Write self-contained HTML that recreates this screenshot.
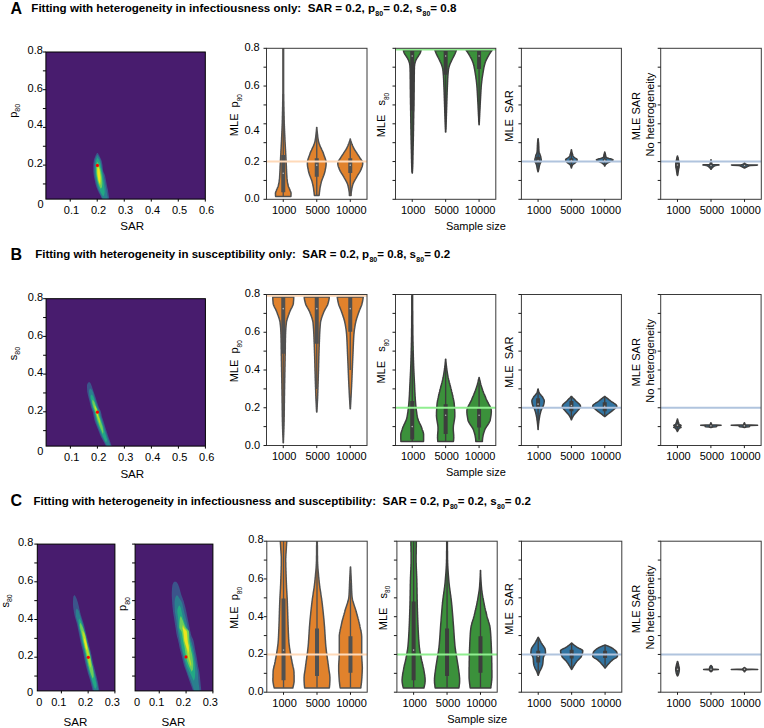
<!DOCTYPE html>
<html><head><meta charset="utf-8"><style>
html,body{margin:0;padding:0;background:#fff;}
svg{display:block;font-family:"Liberation Sans", sans-serif;}
</style></head><body>
<svg width="764" height="728" viewBox="0 0 764 728">
<rect width="764" height="728" fill="#fff"/>
<text x="10.5" y="14.2" font-size="16" font-weight="700" text-anchor="start" fill="#000" >A</text>
<text x="31.3" y="12.2" font-size="11.6" font-weight="700" fill="#000" xml:space="preserve">Fitting with heterogeneity in infectiousness only:  SAR = 0.2, p<tspan font-size="7" dy="3.8" dx="0.4">80</tspan><tspan dy="-3.8">= 0.2, s</tspan><tspan font-size="7" dy="3.8" dx="0.4">80</tspan><tspan dy="-3.8">= 0.8</tspan></text>
<text x="10.5" y="260.3" font-size="16" font-weight="700" text-anchor="start" fill="#000" >B</text>
<text x="35.2" y="258.4" font-size="11.5" font-weight="700" fill="#000" xml:space="preserve">Fitting with heterogeneity in susceptibility only:  SAR = 0.2, p<tspan font-size="7" dy="3.8" dx="0.4">80</tspan><tspan dy="-3.8">= 0.8, s</tspan><tspan font-size="7" dy="3.8" dx="0.4">80</tspan><tspan dy="-3.8">= 0.2</tspan></text>
<text x="10.5" y="506.3" font-size="16" font-weight="700" text-anchor="start" fill="#000" >C</text>
<text x="33.5" y="505.1" font-size="11.55" font-weight="700" fill="#000" xml:space="preserve">Fitting with heterogeneity in infectiousness and susceptibility:  SAR = 0.2, p<tspan font-size="7" dy="3.8" dx="0.4">80</tspan><tspan dy="-3.8">= 0.2, s</tspan><tspan font-size="7" dy="3.8" dx="0.4">80</tspan><tspan dy="-3.8">= 0.2</tspan></text>
<clipPath id="hm1"><rect x="45.9" y="52" width="159.4" height="147.1"/></clipPath>
<rect x="45.9" y="52" width="159.4" height="147.1" fill="#481c6e"/>
<g clip-path="url(#hm1)">
<path d="M97,153.1 96.7,153.6 96.4,154.1 96.1,154.6 95.8,155.1 95.6,155.6 95.3,156.2 95.1,156.7 94.9,157.2 94.7,157.7 94.5,158.2 94.3,158.7 94.2,159.2 94,159.7 93.9,160.2 93.8,160.7 93.7,161.3 93.7,161.8 93.6,162.3 93.5,162.8 93.4,163.3 93.4,163.8 93.3,164.3 93.3,164.8 93.3,165.3 93.3,165.8 93.3,166.4 93.3,166.9 93.3,167.4 93.3,167.9 93.3,168.4 93.3,168.9 93.3,169.4 93.3,169.9 93.3,170.4 93.3,170.9 93.3,171.5 93.4,172 93.4,172.5 93.5,173 93.5,173.5 93.6,174 93.6,174.5 93.7,175 93.8,175.5 93.9,176 93.9,176.6 94,177.1 94.1,177.6 94.2,178.1 94.4,178.6 94.5,179.1 94.6,179.6 94.7,180.1 94.8,180.6 94.9,181.1 95,181.6 95.1,182.2 95.2,182.7 95.4,183.2 95.5,183.7 95.6,184.2 95.7,184.7 95.9,185.2 96,185.7 96.2,186.2 96.3,186.7 96.5,187.3 96.7,187.8 96.9,188.3 97.1,188.8 97.3,189.3 97.5,189.8 97.7,190.3 97.9,190.8 98.2,191.3 98.5,191.8 98.7,192.4 99,192.9 99.3,193.4 99.6,193.9 99.9,194.4 100.2,194.9 100.4,195.4 100.6,195.9 100.9,196.4 101.1,196.9 101.3,197.5 101.5,198 101.7,198.5 101.9,199 102,199.5 102.2,200 109.5,200 109.4,199.5 109.3,199 109.3,198.5 109.2,198 109.1,197.5 109,196.9 108.9,196.4 108.9,195.9 108.8,195.4 108.7,194.9 108.6,194.4 108.5,193.9 108.5,193.4 108.4,192.9 108.3,192.4 108.2,191.8 108.1,191.3 108.1,190.8 108,190.3 107.9,189.8 107.8,189.3 107.7,188.8 107.5,188.3 107.4,187.8 107.3,187.3 107.2,186.7 107.1,186.2 107,185.7 106.9,185.2 106.8,184.7 106.7,184.2 106.6,183.7 106.5,183.2 106.4,182.7 106.3,182.2 106.2,181.6 106.1,181.1 106,180.6 105.9,180.1 105.8,179.6 105.7,179.1 105.6,178.6 105.5,178.1 105.4,177.6 105.3,177.1 105.2,176.6 105.1,176 104.9,175.5 104.8,175 104.6,174.5 104.4,174 104.2,173.5 104,173 103.7,172.5 103.5,172 103.3,171.5 103.2,170.9 103.1,170.4 103,169.9 102.9,169.4 102.9,168.9 102.8,168.4 102.8,167.9 102.7,167.4 102.7,166.9 102.6,166.4 102.5,165.8 102.5,165.3 102.4,164.8 102.3,164.3 102.2,163.8 102.1,163.3 102,162.8 101.9,162.3 101.8,161.8 101.7,161.3 101.5,160.7 101.4,160.2 101.2,159.7 101,159.2 100.8,158.7 100.5,158.2 100.3,157.7 100,157.2 99.8,156.7 99.5,156.2 99.3,155.6 99,155.1 98.7,154.6 98.4,154.1 98.1,153.6 97.8,153.1Z" fill="#3b548b"/>
<path d="M97.2,155 96.9,155.5 96.6,156 96.3,156.5 96.1,157 95.9,157.5 95.7,158 95.5,158.5 95.4,159 95.3,159.6 95.1,160.1 95,160.6 94.9,161.1 94.9,161.6 94.8,162.1 94.7,162.6 94.7,163.1 94.6,163.6 94.6,164.1 94.6,164.6 94.5,165.1 94.5,165.6 94.4,166.1 94.4,166.6 94.4,167.1 94.4,167.6 94.4,168.1 94.4,168.7 94.4,169.2 94.4,169.7 94.5,170.2 94.5,170.7 94.5,171.2 94.5,171.7 94.6,172.2 94.6,172.7 94.6,173.2 94.7,173.7 94.7,174.2 94.8,174.7 94.8,175.2 94.9,175.7 94.9,176.2 95,176.7 95.1,177.2 95.2,177.8 95.3,178.3 95.4,178.8 95.5,179.3 95.6,179.8 95.7,180.3 95.8,180.8 95.9,181.3 96.1,181.8 96.2,182.3 96.3,182.8 96.4,183.3 96.5,183.8 96.7,184.3 96.8,184.8 97,185.3 97.1,185.8 97.3,186.3 97.4,186.9 97.6,187.4 97.8,187.9 97.9,188.4 98.1,188.9 98.3,189.4 98.5,189.9 98.7,190.4 99,190.9 99.2,191.4 99.4,191.9 99.7,192.4 99.9,192.9 100.1,193.4 100.4,193.9 100.6,194.4 100.8,194.9 101.1,195.4 101.3,196 101.5,196.5 101.8,197 102,197.5 102.2,198 102.5,198.5 102.7,199 103,199.5 103.2,200 108,200 107.9,199.5 107.9,199 107.8,198.5 107.7,198 107.6,197.5 107.6,197 107.5,196.5 107.4,196 107.3,195.4 107.2,194.9 107.2,194.4 107.1,193.9 107,193.4 106.9,192.9 106.8,192.4 106.8,191.9 106.7,191.4 106.6,190.9 106.5,190.4 106.4,189.9 106.3,189.4 106.3,188.9 106.2,188.4 106.1,187.9 106,187.4 105.9,186.9 105.8,186.3 105.7,185.8 105.6,185.3 105.5,184.8 105.4,184.3 105.3,183.8 105.3,183.3 105.2,182.8 105.1,182.3 105,181.8 104.9,181.3 104.8,180.8 104.7,180.3 104.5,179.8 104.4,179.3 104.3,178.8 104.2,178.3 104.1,177.8 104,177.2 103.9,176.7 103.8,176.2 103.7,175.7 103.5,175.2 103.4,174.7 103.3,174.2 103.2,173.7 103.1,173.2 103,172.7 102.8,172.2 102.7,171.7 102.6,171.2 102.5,170.7 102.4,170.2 102.3,169.7 102.1,169.2 102,168.7 101.9,168.1 101.8,167.6 101.7,167.1 101.6,166.6 101.6,166.1 101.5,165.6 101.4,165.1 101.3,164.6 101.2,164.1 101.1,163.6 101,163.1 100.9,162.6 100.8,162.1 100.7,161.6 100.6,161.1 100.4,160.6 100.3,160.1 100.1,159.6 99.9,159 99.7,158.5 99.5,158 99.3,157.5 99,157 98.7,156.5 98.3,156 98,155.5 97.6,155Z" fill="#2a7f8e"/>
<path d="M97.4,157.5 97.2,158 97,158.5 96.8,159 96.5,159.5 96.4,160 96.2,160.5 96.1,161 96,161.6 95.9,162.1 95.8,162.6 95.7,163.1 95.7,163.6 95.6,164.1 95.6,164.6 95.5,165.1 95.5,165.6 95.5,166.1 95.5,166.6 95.5,167.1 95.5,167.6 95.5,168.1 95.5,168.6 95.5,169.1 95.6,169.7 95.6,170.2 95.6,170.7 95.6,171.2 95.6,171.7 95.7,172.2 95.7,172.7 95.7,173.2 95.7,173.7 95.8,174.2 95.8,174.7 95.9,175.2 96,175.7 96,176.2 96.1,176.7 96.2,177.3 96.3,177.8 96.4,178.3 96.5,178.8 96.6,179.3 96.7,179.8 96.8,180.3 96.9,180.8 97,181.3 97.1,181.8 97.2,182.3 97.3,182.8 97.5,183.3 97.6,183.8 97.8,184.3 98,184.9 98.1,185.4 98.3,185.9 98.5,186.4 98.7,186.9 98.8,187.4 99,187.9 99.2,188.4 99.4,188.9 99.5,189.4 99.7,189.9 99.9,190.4 100.1,190.9 100.3,191.4 100.6,191.9 100.8,192.4 101.1,193 101.3,193.5 101.6,194 101.9,194.5 102.3,195 102.6,195.5 103,196 103.3,196.5 103.3,196.5 103.6,196 103.9,195.5 104.1,195 104.3,194.5 104.4,194 104.5,193.5 104.6,193 104.7,192.4 104.7,191.9 104.7,191.4 104.7,190.9 104.6,190.4 104.6,189.9 104.6,189.4 104.5,188.9 104.5,188.4 104.4,187.9 104.3,187.4 104.3,186.9 104.2,186.4 104.2,185.9 104.1,185.4 104,184.9 103.9,184.3 103.9,183.8 103.8,183.3 103.7,182.8 103.6,182.3 103.5,181.8 103.4,181.3 103.4,180.8 103.3,180.3 103.2,179.8 103.1,179.3 103.1,178.8 103,178.3 102.9,177.8 102.8,177.3 102.7,176.7 102.6,176.2 102.6,175.7 102.5,175.2 102.4,174.7 102.3,174.2 102.2,173.7 102.1,173.2 102,172.7 102,172.2 101.9,171.7 101.8,171.2 101.7,170.7 101.6,170.2 101.5,169.7 101.4,169.1 101.3,168.6 101.2,168.1 101.1,167.6 101,167.1 100.9,166.6 100.8,166.1 100.7,165.6 100.6,165.1 100.5,164.6 100.4,164.1 100.3,163.6 100.1,163.1 100,162.6 99.9,162.1 99.7,161.6 99.5,161 99.3,160.5 99,160 98.8,159.5 98.4,159 98.1,158.5 97.7,158 97.4,157.5Z" fill="#22a884"/>
<path d="M97.5,161.5 97.5,162 97.2,162.5 97,163 96.8,163.5 96.6,164 96.5,164.6 96.4,165.1 96.4,165.6 96.3,166.1 96.3,166.6 96.3,167.1 96.2,167.6 96.2,168.1 96.2,168.6 96.2,169.1 96.2,169.6 96.2,170.2 96.2,170.7 96.2,171.2 96.3,171.7 96.3,172.2 96.3,172.7 96.4,173.2 96.5,173.7 96.5,174.2 96.6,174.7 96.7,175.2 96.7,175.8 96.8,176.3 96.9,176.8 96.9,177.3 97,177.8 97.1,178.3 97.2,178.8 97.3,179.3 97.4,179.8 97.6,180.3 97.7,180.9 97.8,181.4 98,181.9 98.1,182.4 98.3,182.9 98.4,183.4 98.6,183.9 98.8,184.4 99,184.9 99.2,185.4 99.4,185.9 99.6,186.5 99.9,187 100.1,187.5 100.4,188 100.8,188.5 100.8,189 100.8,189 101,188.5 101.4,188 101.7,187.5 101.9,187 102,186.5 102.1,185.9 102.1,185.4 102.2,184.9 102.2,184.4 102.3,183.9 102.3,183.4 102.3,182.9 102.3,182.4 102.3,181.9 102.2,181.4 102.2,180.9 102.2,180.3 102.1,179.8 102.1,179.3 102,178.8 101.9,178.3 101.9,177.8 101.8,177.3 101.8,176.8 101.7,176.3 101.6,175.8 101.6,175.2 101.5,174.7 101.4,174.2 101.3,173.7 101.2,173.2 101.2,172.7 101.1,172.2 101,171.7 100.9,171.2 100.7,170.7 100.6,170.2 100.5,169.6 100.4,169.1 100.3,168.6 100.1,168.1 100,167.6 99.8,167.1 99.7,166.6 99.5,166.1 99.3,165.6 99.1,165.1 98.9,164.6 98.7,164 98.4,163.5 98.1,163 97.8,162.5 97.5,162 97.5,161.5Z" fill="#6ccd5a"/>
<path d="M97.8,164.5 97.9,165 97.9,165.5 97.7,166 97.5,166.5 97.4,167.1 97.3,167.6 97.3,168.1 97.3,168.6 97.2,169.1 97.2,169.6 97.2,170.1 97.2,170.6 97.2,171.1 97.2,171.7 97.2,172.2 97.3,172.7 97.3,173.2 97.3,173.7 97.4,174.2 97.4,174.7 97.5,175.2 97.6,175.8 97.6,176.3 97.7,176.8 97.8,177.3 97.9,177.8 97.9,178.3 98,178.8 98.1,179.3 98.2,179.8 98.3,180.4 98.5,180.9 98.6,181.4 98.8,181.9 98.9,182.4 99.1,182.9 99.3,183.4 99.5,183.9 99.8,184.4 100.1,185 100.2,185.5 100.2,186 100.2,186.5 100.2,187 100.2,187 100.2,186.5 100.2,186 100.2,185.5 100.2,185 100.3,184.4 100.5,183.9 100.6,183.4 100.6,182.9 100.6,182.4 100.6,181.9 100.6,181.4 100.6,180.9 100.6,180.4 100.6,179.8 100.6,179.3 100.6,178.8 100.6,178.3 100.6,177.8 100.6,177.3 100.6,176.8 100.5,176.3 100.5,175.8 100.4,175.2 100.4,174.7 100.3,174.2 100.2,173.7 100.2,173.2 100.1,172.7 100,172.2 99.9,171.7 99.8,171.1 99.7,170.6 99.6,170.1 99.5,169.6 99.4,169.1 99.3,168.6 99.2,168.1 99,167.6 98.8,167.1 98.6,166.5 98.3,166 97.9,165.5 97.9,165 97.8,164.5Z" fill="#b8de29"/>
<path d="M98,166.5 98.1,167 98,167.5 97.7,168 97.6,168.6 97.5,169.1 97.5,169.6 97.5,170.1 97.5,170.6 97.5,171.1 97.5,171.6 97.5,172.2 97.5,172.7 97.5,173.2 97.5,173.7 97.6,174.2 97.6,174.7 97.7,175.2 97.7,175.8 97.8,176.3 97.9,176.8 98,177.3 98.1,177.8 98.2,178.3 98.3,178.8 98.4,179.4 98.5,179.9 98.7,180.4 98.8,180.9 99,181.4 99.2,181.9 99.4,182.4 99.6,183 99.7,183.5 99.7,184 99.7,184.5 99.7,184.5 99.7,184 99.7,183.5 99.9,183 100.1,182.4 100.2,181.9 100.3,181.4 100.3,180.9 100.3,180.4 100.4,179.9 100.4,179.4 100.4,178.8 100.4,178.3 100.4,177.8 100.4,177.3 100.4,176.8 100.3,176.3 100.3,175.8 100.2,175.2 100.2,174.7 100.1,174.2 100.1,173.7 100,173.2 100,172.7 99.9,172.2 99.8,171.6 99.7,171.1 99.6,170.6 99.5,170.1 99.4,169.6 99.2,169.1 99,168.6 98.7,168 98.3,167.5 98.1,167 98,166.5Z" fill="#ece51f"/>
</g>
<circle cx="97.4" cy="165.4" r="1.6" fill="#ff0000"/>
<rect x="45.9" y="52" width="159.4" height="147.1" fill="none" stroke="#000" stroke-width="1"/>
<line x1="42.9" y1="183.95" x2="45.9" y2="183.95" stroke="#000" stroke-width="1" />
<line x1="42.9" y1="165.1" x2="45.9" y2="165.1" stroke="#000" stroke-width="1" />
<line x1="42.9" y1="146.25" x2="45.9" y2="146.25" stroke="#000" stroke-width="1" />
<line x1="42.9" y1="127.4" x2="45.9" y2="127.4" stroke="#000" stroke-width="1" />
<line x1="42.9" y1="108.55" x2="45.9" y2="108.55" stroke="#000" stroke-width="1" />
<line x1="42.9" y1="89.7" x2="45.9" y2="89.7" stroke="#000" stroke-width="1" />
<line x1="42.9" y1="70.85" x2="45.9" y2="70.85" stroke="#000" stroke-width="1" />
<line x1="42.9" y1="52" x2="45.9" y2="52" stroke="#000" stroke-width="1" />
<line x1="70.22" y1="199.1" x2="70.22" y2="201.6" stroke="#000" stroke-width="1" />
<line x1="97.23" y1="199.1" x2="97.23" y2="201.6" stroke="#000" stroke-width="1" />
<line x1="124.25" y1="199.1" x2="124.25" y2="201.6" stroke="#000" stroke-width="1" />
<line x1="151.27" y1="199.1" x2="151.27" y2="201.6" stroke="#000" stroke-width="1" />
<line x1="178.28" y1="199.1" x2="178.28" y2="201.6" stroke="#000" stroke-width="1" />
<line x1="205.3" y1="199.1" x2="205.3" y2="201.6" stroke="#000" stroke-width="1" />
<text x="42.9" y="167.3" font-size="11" font-weight="400" text-anchor="end" fill="#000" >0.2</text>
<text x="42.9" y="128.2" font-size="11" font-weight="400" text-anchor="end" fill="#000" >0.4</text>
<text x="42.9" y="91.8" font-size="11" font-weight="400" text-anchor="end" fill="#000" >0.6</text>
<text x="42.9" y="54.2" font-size="11" font-weight="400" text-anchor="end" fill="#000" >0.8</text>
<text x="71.52" y="213.7" font-size="11" font-weight="400" text-anchor="middle" fill="#000" >0.1</text>
<text x="98.53" y="213.7" font-size="11" font-weight="400" text-anchor="middle" fill="#000" >0.2</text>
<text x="125.55" y="213.7" font-size="11" font-weight="400" text-anchor="middle" fill="#000" >0.3</text>
<text x="152.57" y="213.7" font-size="11" font-weight="400" text-anchor="middle" fill="#000" >0.4</text>
<text x="179.58" y="213.7" font-size="11" font-weight="400" text-anchor="middle" fill="#000" >0.5</text>
<text x="206.6" y="213.7" font-size="11" font-weight="400" text-anchor="middle" fill="#000" >0.6</text>
<text x="43.7" y="208.3" font-size="11" font-weight="400" text-anchor="end" fill="#000" >0</text>
<text x="132.1" y="230.4" font-size="11.6" font-weight="400" text-anchor="middle" fill="#000" >SAR</text>
<text transform="translate(16.6,110.8) rotate(-90)" font-size="11" text-anchor="middle" fill="#000" xml:space="preserve">p<tspan font-size="7" dy="3.6">80</tspan></text>
<clipPath id="hm2"><rect x="46.1" y="298.7" width="159.3" height="147.4"/></clipPath>
<rect x="46.1" y="298.7" width="159.3" height="147.4" fill="#481c6e"/>
<g clip-path="url(#hm2)">
<path d="M88.6,382.3 88.1,382.8 87.7,383.3 87.5,383.8 87.2,384.3 87.1,384.8 87,385.3 87,385.8 87,386.3 87,386.8 87,387.4 87,387.9 87.1,388.4 87.1,388.9 87.1,389.4 87.1,389.9 87.2,390.4 87.2,390.9 87.2,391.4 87.3,391.9 87.4,392.4 87.5,392.9 87.6,393.4 87.7,393.9 87.8,394.4 87.9,394.9 88,395.4 88.2,395.9 88.3,396.5 88.4,397 88.5,397.5 88.6,398 88.8,398.5 88.9,399 89,399.5 89.2,400 89.3,400.5 89.4,401 89.6,401.5 89.7,402 89.8,402.5 90,403 90.1,403.5 90.2,404 90.3,404.5 90.4,405 90.6,405.5 90.7,406.1 90.8,406.6 91,407.1 91.1,407.6 91.3,408.1 91.5,408.6 91.7,409.1 91.9,409.6 92,410.1 92.2,410.6 92.4,411.1 92.6,411.6 92.7,412.1 92.9,412.6 93,413.1 93.1,413.6 93.2,414.1 93.3,414.6 93.4,415.1 93.5,415.7 93.6,416.2 93.7,416.7 93.9,417.2 94,417.7 94.1,418.2 94.2,418.7 94.3,419.2 94.4,419.7 94.5,420.2 94.7,420.7 94.8,421.2 95,421.7 95.2,422.2 95.3,422.7 95.5,423.2 95.7,423.7 95.9,424.2 96.1,424.8 96.3,425.3 96.5,425.8 96.7,426.3 96.9,426.8 97.1,427.3 97.3,427.8 97.5,428.3 97.7,428.8 97.9,429.3 98.1,429.8 98.3,430.3 98.5,430.8 98.7,431.3 98.9,431.8 99.1,432.3 99.3,432.8 99.5,433.3 99.7,433.8 99.9,434.4 100.1,434.9 100.4,435.4 100.6,435.9 100.8,436.4 101.1,436.9 101.3,437.4 101.6,437.9 101.9,438.4 102.1,438.9 102.4,439.4 102.7,439.9 103,440.4 103.2,440.9 103.5,441.4 103.8,441.9 104.1,442.4 104.3,442.9 104.6,443.5 104.8,444 105.1,444.5 105.3,445 105.5,445.5 105.7,446 106,446.5 106.2,447 106.4,447.5 106.6,448 112.4,448 112.2,447.5 112,447 111.8,446.5 111.7,446 111.5,445.5 111.3,445 111.1,444.5 110.9,444 110.7,443.5 110.6,442.9 110.4,442.4 110.2,441.9 110,441.4 109.9,440.9 109.7,440.4 109.5,439.9 109.3,439.4 109.2,438.9 109,438.4 108.8,437.9 108.6,437.4 108.5,436.9 108.3,436.4 108.1,435.9 108,435.4 107.8,434.9 107.6,434.4 107.4,433.8 107.3,433.3 107.1,432.8 106.9,432.3 106.8,431.8 106.6,431.3 106.4,430.8 106.3,430.3 106.1,429.8 105.9,429.3 105.8,428.8 105.6,428.3 105.4,427.8 105.3,427.3 105.1,426.8 105,426.3 104.8,425.8 104.7,425.3 104.5,424.8 104.4,424.2 104.2,423.7 104.1,423.2 103.9,422.7 103.8,422.2 103.6,421.7 103.5,421.2 103.3,420.7 103.1,420.2 103,419.7 102.8,419.2 102.6,418.7 102.5,418.2 102.3,417.7 102.1,417.2 102,416.7 101.8,416.2 101.7,415.7 101.6,415.1 101.5,414.6 101.4,414.1 101.3,413.6 101.2,413.1 101.1,412.6 100.9,412.1 100.8,411.6 100.6,411.1 100.4,410.6 100.1,410.1 99.9,409.6 99.6,409.1 99.4,408.6 99.1,408.1 98.9,407.6 98.7,407.1 98.5,406.6 98.4,406.1 98.2,405.5 98,405 97.8,404.5 97.7,404 97.5,403.5 97.3,403 97.2,402.5 97,402 96.8,401.5 96.7,401 96.5,400.5 96.4,400 96.2,399.5 96.1,399 95.9,398.5 95.8,398 95.6,397.5 95.4,397 95.3,396.5 95.1,395.9 94.9,395.4 94.8,394.9 94.6,394.4 94.4,393.9 94.2,393.4 94.1,392.9 93.9,392.4 93.7,391.9 93.5,391.4 93.4,390.9 93.2,390.4 93,389.9 92.9,389.4 92.7,388.9 92.5,388.4 92.4,387.9 92.2,387.4 92,386.8 91.8,386.3 91.6,385.8 91.4,385.3 91.2,384.8 91,384.3 90.8,383.8 90.5,383.3 90.2,382.8 89.8,382.3Z" fill="#3b548b"/>
<path d="M89.9,388.5 89.6,389 89.4,389.5 89.2,390 89.1,390.5 89,391 89,391.5 89,392 89.1,392.5 89.1,393 89.1,393.5 89.2,394 89.2,394.6 89.3,395.1 89.4,395.6 89.4,396.1 89.5,396.6 89.6,397.1 89.7,397.6 89.8,398.1 89.9,398.6 90,399.1 90.2,399.6 90.3,400.1 90.4,400.6 90.6,401.1 90.7,401.6 90.8,402.1 91,402.6 91.1,403.1 91.2,403.6 91.3,404.1 91.4,404.6 91.6,405.1 91.7,405.6 91.8,406.1 92,406.7 92.1,407.2 92.2,407.7 92.4,408.2 92.6,408.7 92.8,409.2 93,409.7 93.2,410.2 93.4,410.7 93.5,411.2 93.7,411.7 93.9,412.2 94,412.7 94.1,413.2 94.2,413.7 94.3,414.2 94.4,414.7 94.5,415.2 94.6,415.7 94.8,416.2 94.9,416.7 95,417.2 95.1,417.7 95.2,418.2 95.3,418.8 95.4,419.3 95.5,419.8 95.7,420.3 95.8,420.8 96,421.3 96.1,421.8 96.3,422.3 96.5,422.8 96.6,423.3 96.8,423.8 97,424.3 97.2,424.8 97.4,425.3 97.6,425.8 97.8,426.3 98,426.8 98.2,427.3 98.4,427.8 98.6,428.3 98.8,428.8 99,429.3 99.2,429.8 99.4,430.4 99.6,430.9 99.8,431.4 100,431.9 100.2,432.4 100.4,432.9 100.6,433.4 100.8,433.9 101,434.4 101.3,434.9 101.5,435.4 101.7,435.9 101.9,436.4 102.2,436.9 102.4,437.4 102.7,437.9 103,438.4 103.2,438.9 103.5,439.4 103.8,439.9 104.1,440.4 104.4,440.9 104.6,441.4 104.9,441.9 105.2,442.5 105.4,443 105.7,443.5 105.9,444 106.2,444.5 106.4,445 106.6,445.5 106.8,446 107.1,446.5 107.3,447 107.5,447.5 107.7,448 111.3,448 111.1,447.5 110.9,447 110.7,446.5 110.6,446 110.4,445.5 110.2,445 110,444.5 109.8,444 109.6,443.5 109.5,443 109.3,442.5 109.1,441.9 108.9,441.4 108.8,440.9 108.6,440.4 108.4,439.9 108.2,439.4 108.1,438.9 107.9,438.4 107.7,437.9 107.5,437.4 107.4,436.9 107.2,436.4 107,435.9 106.9,435.4 106.7,434.9 106.5,434.4 106.3,433.9 106.2,433.4 106,432.9 105.8,432.4 105.7,431.9 105.5,431.4 105.3,430.9 105.2,430.4 105,429.8 104.8,429.3 104.7,428.8 104.5,428.3 104.4,427.8 104.2,427.3 104,426.8 103.9,426.3 103.7,425.8 103.6,425.3 103.4,424.8 103.3,424.3 103.1,423.8 103,423.3 102.8,422.8 102.7,422.3 102.5,421.8 102.4,421.3 102.2,420.8 102.1,420.3 101.9,419.8 101.7,419.3 101.6,418.8 101.4,418.2 101.2,417.7 101.1,417.2 100.9,416.7 100.8,416.2 100.6,415.7 100.5,415.2 100.4,414.7 100.3,414.2 100.2,413.7 100.1,413.2 100,412.7 99.9,412.2 99.7,411.7 99.5,411.2 99.3,410.7 99.1,410.2 98.8,409.7 98.6,409.2 98.3,408.7 98.1,408.2 97.9,407.7 97.7,407.2 97.5,406.7 97.3,406.1 97.1,405.6 96.9,405.1 96.8,404.6 96.6,404.1 96.4,403.6 96.3,403.1 96.1,402.6 95.9,402.1 95.8,401.6 95.6,401.1 95.5,400.6 95.3,400.1 95.1,399.6 95,399.1 94.8,398.6 94.7,398.1 94.5,397.6 94.4,397.1 94.2,396.6 94.1,396.1 93.9,395.6 93.8,395.1 93.7,394.6 93.5,394 93.4,393.5 93.3,393 93.1,392.5 92.9,392 92.7,391.5 92.5,391 92.2,390.5 91.9,390 91.4,389.5 91,389 90.5,388.5Z" fill="#2a7f8e"/>
<path d="M91.5,394.5 91.2,395 90.9,395.5 90.7,396 90.6,396.5 90.6,397 90.7,397.5 90.7,398 90.8,398.5 90.9,399 91,399.6 91.1,400.1 91.3,400.6 91.4,401.1 91.5,401.6 91.6,402.1 91.7,402.6 91.8,403.1 91.9,403.6 92,404.1 92.2,404.6 92.3,405.1 92.4,405.6 92.5,406.1 92.7,406.6 92.8,407.1 92.9,407.6 93.1,408.1 93.3,408.6 93.5,409.2 93.7,409.7 93.9,410.2 94.1,410.7 94.3,411.2 94.5,411.7 94.7,412.2 94.8,412.7 94.9,413.2 95.1,413.7 95.2,414.2 95.3,414.7 95.4,415.2 95.5,415.7 95.7,416.2 95.8,416.7 95.9,417.2 96,417.7 96.1,418.2 96.2,418.8 96.3,419.3 96.4,419.8 96.6,420.3 96.7,420.8 96.9,421.3 97,421.8 97.2,422.3 97.4,422.8 97.5,423.3 97.7,423.8 97.9,424.3 98.1,424.8 98.3,425.3 98.5,425.8 98.7,426.3 98.9,426.8 99.1,427.3 99.3,427.8 99.5,428.4 99.7,428.9 99.9,429.4 100.1,429.9 100.3,430.4 100.5,430.9 100.8,431.4 101,431.9 101.2,432.4 101.4,432.9 101.6,433.4 101.8,433.9 102.1,434.4 102.3,434.9 102.5,435.4 102.7,435.9 102.9,436.4 103.2,436.9 103.4,437.4 103.6,438 103.9,438.5 104.1,439 104.3,439.5 104.6,440 104.8,440.5 105.1,441 105.4,441.5 105.6,442 105.9,442.5 105.9,442.5 106.2,442 106.5,441.5 106.8,441 106.9,440.5 107,440 107,439.5 106.9,439 106.8,438.5 106.6,438 106.4,437.4 106.3,436.9 106.1,436.4 106,435.9 105.8,435.4 105.7,434.9 105.5,434.4 105.4,433.9 105.2,433.4 105,432.9 104.9,432.4 104.7,431.9 104.6,431.4 104.4,430.9 104.2,430.4 104.1,429.9 103.9,429.4 103.8,428.9 103.6,428.4 103.5,427.8 103.3,427.3 103.2,426.8 103,426.3 102.9,425.8 102.7,425.3 102.5,424.8 102.4,424.3 102.2,423.8 102.1,423.3 101.9,422.8 101.8,422.3 101.6,421.8 101.5,421.3 101.3,420.8 101.2,420.3 101,419.8 100.8,419.3 100.7,418.8 100.5,418.2 100.3,417.7 100.2,417.2 100,416.7 99.9,416.2 99.7,415.7 99.6,415.2 99.5,414.7 99.4,414.2 99.3,413.7 99.2,413.2 99.1,412.7 99,412.2 98.8,411.7 98.6,411.2 98.4,410.7 98.2,410.2 97.9,409.7 97.7,409.2 97.4,408.6 97.2,408.1 97,407.6 96.8,407.1 96.6,406.6 96.4,406.1 96.2,405.6 96,405.1 95.9,404.6 95.7,404.1 95.5,403.6 95.4,403.1 95.2,402.6 95,402.1 94.9,401.6 94.7,401.1 94.6,400.6 94.4,400.1 94.3,399.6 94.2,399 94,398.5 93.8,398 93.7,397.5 93.4,397 93.2,396.5 92.9,396 92.5,395.5 92,395 91.5,394.5Z" fill="#22a884"/>
<path d="M92.4,399 92.6,399.5 92.5,400 92.4,400.5 92.3,401 92.3,401.5 92.3,402 92.3,402.6 92.4,403.1 92.5,403.6 92.6,404.1 92.7,404.6 92.8,405.1 93,405.6 93.2,406.1 93.3,406.6 93.5,407.1 93.6,407.6 93.8,408.1 94,408.6 94.2,409.1 94.4,409.6 94.6,410.2 94.8,410.7 95,411.2 95.2,411.7 95.4,412.2 95.5,412.7 95.6,413.2 95.8,413.7 95.9,414.2 96,414.7 96.1,415.2 96.2,415.7 96.4,416.2 96.5,416.8 96.6,417.3 96.8,417.8 96.9,418.3 97,418.8 97.2,419.3 97.3,419.8 97.5,420.3 97.6,420.8 97.8,421.3 98,421.8 98.2,422.3 98.4,422.8 98.6,423.3 98.8,423.9 99,424.4 99.2,424.9 99.4,425.4 99.6,425.9 99.8,426.4 100,426.9 100.2,427.4 100.4,427.9 100.6,428.4 100.8,428.9 101.1,429.4 101.3,429.9 101.5,430.4 101.7,430.9 101.9,431.5 102.1,432 102.3,432.5 102.5,433 102.7,433.5 102.8,434 102.8,434.5 102.8,434.5 102.8,434 103,433.5 103.1,433 103.3,432.5 103.3,432 103.3,431.5 103.3,430.9 103.2,430.4 103.1,429.9 103.1,429.4 103,428.9 102.9,428.4 102.8,427.9 102.7,427.4 102.6,426.9 102.5,426.4 102.3,425.9 102.2,425.4 102,424.9 101.8,424.4 101.6,423.9 101.4,423.3 101.2,422.8 101.1,422.3 100.9,421.8 100.7,421.3 100.5,420.8 100.4,420.3 100.2,419.8 100.1,419.3 99.9,418.8 99.7,418.3 99.6,417.8 99.4,417.3 99.3,416.8 99.2,416.2 99,415.7 98.9,415.2 98.8,414.7 98.7,414.2 98.6,413.7 98.5,413.2 98.4,412.7 98.3,412.2 98.1,411.7 97.9,411.2 97.7,410.7 97.5,410.2 97.2,409.6 97,409.1 96.7,408.6 96.5,408.1 96.2,407.6 96.1,407.1 95.9,406.6 95.7,406.1 95.6,405.6 95.4,405.1 95.3,404.6 95.1,404.1 94.9,403.6 94.8,403.1 94.6,402.6 94.3,402 94,401.5 93.7,401 93.4,400.5 93,400 92.6,399.5 92.4,399Z" fill="#6ccd5a"/>
<path d="M93.5,403.5 93.8,404 94.1,404.5 94.3,405 94.4,405.5 94.5,406.1 94.6,406.6 94.6,407.1 94.7,407.6 94.8,408.1 95,408.6 95.1,409.1 95.3,409.6 95.5,410.1 95.7,410.7 95.9,411.2 96.1,411.7 96.3,412.2 96.4,412.7 96.5,413.2 96.6,413.7 96.8,414.2 96.9,414.7 97,415.3 97.1,415.8 97.3,416.3 97.4,416.8 97.6,417.3 97.8,417.8 98,418.3 98.1,418.8 98.3,419.3 98.5,419.9 98.7,420.4 98.9,420.9 99,421.4 99.2,421.9 99.4,422.4 99.6,422.9 99.8,423.4 100,423.9 100.1,424.5 100.2,425 100.2,425.5 100.2,426 100.2,426.5 100.2,426.5 100.2,426 100.2,425.5 100.2,425 100.1,424.5 100.1,423.9 100.1,423.4 100.1,422.9 100,422.4 100,421.9 99.9,421.4 99.9,420.9 99.8,420.4 99.7,419.9 99.6,419.3 99.4,418.8 99.2,418.3 99,417.8 98.8,417.3 98.6,416.8 98.4,416.3 98.2,415.8 98.1,415.3 98,414.7 97.9,414.2 97.8,413.7 97.7,413.2 97.6,412.7 97.4,412.2 97.3,411.7 97.2,411.2 97.1,410.7 97,410.1 96.8,409.6 96.7,409.1 96.5,408.6 96.3,408.1 96.1,407.6 95.9,407.1 95.6,406.6 95.2,406.1 94.8,405.5 94.3,405 94.1,404.5 93.8,404 93.5,403.5Z" fill="#b8de29"/>
<path d="M95.2,409 95.4,409.5 95.7,410 95.9,410.6 95.9,411.1 96,411.6 96.1,412.1 96.2,412.7 96.4,413.2 96.6,413.7 96.8,414.2 97,414.8 97.2,415.3 97.4,415.8 97.6,416.3 97.8,416.8 98,417.4 98.1,417.9 98.2,418.4 98.3,418.9 98.4,419.5 98.4,420 98.4,420.5 98.4,420.5 98.4,420 98.4,419.5 98.3,418.9 98.2,418.4 98.1,417.9 98,417.4 97.9,416.8 97.8,416.3 97.8,415.8 97.7,415.3 97.6,414.8 97.5,414.2 97.3,413.7 97.1,413.2 96.9,412.7 96.7,412.1 96.5,411.6 96.2,411.1 95.9,410.6 95.7,410 95.4,409.5 95.2,409Z" fill="#ece51f"/>
</g>
<circle cx="97.4" cy="412.2" r="1.6" fill="#ff0000"/>
<rect x="46.1" y="298.7" width="159.3" height="147.4" fill="none" stroke="#000" stroke-width="1"/>
<line x1="43.1" y1="430.65" x2="46.1" y2="430.65" stroke="#000" stroke-width="1" />
<line x1="43.1" y1="411.8" x2="46.1" y2="411.8" stroke="#000" stroke-width="1" />
<line x1="43.1" y1="392.95" x2="46.1" y2="392.95" stroke="#000" stroke-width="1" />
<line x1="43.1" y1="374.1" x2="46.1" y2="374.1" stroke="#000" stroke-width="1" />
<line x1="43.1" y1="355.25" x2="46.1" y2="355.25" stroke="#000" stroke-width="1" />
<line x1="43.1" y1="336.4" x2="46.1" y2="336.4" stroke="#000" stroke-width="1" />
<line x1="43.1" y1="317.55" x2="46.1" y2="317.55" stroke="#000" stroke-width="1" />
<line x1="43.1" y1="298.7" x2="46.1" y2="298.7" stroke="#000" stroke-width="1" />
<line x1="70.4" y1="446.1" x2="70.4" y2="448.6" stroke="#000" stroke-width="1" />
<line x1="97.4" y1="446.1" x2="97.4" y2="448.6" stroke="#000" stroke-width="1" />
<line x1="124.4" y1="446.1" x2="124.4" y2="448.6" stroke="#000" stroke-width="1" />
<line x1="151.4" y1="446.1" x2="151.4" y2="448.6" stroke="#000" stroke-width="1" />
<line x1="178.4" y1="446.1" x2="178.4" y2="448.6" stroke="#000" stroke-width="1" />
<line x1="205.4" y1="446.1" x2="205.4" y2="448.6" stroke="#000" stroke-width="1" />
<text x="43.1" y="414" font-size="11" font-weight="400" text-anchor="end" fill="#000" >0.2</text>
<text x="43.1" y="376.1" font-size="11" font-weight="400" text-anchor="end" fill="#000" >0.4</text>
<text x="43.1" y="338.5" font-size="11" font-weight="400" text-anchor="end" fill="#000" >0.6</text>
<text x="43.1" y="300.9" font-size="11" font-weight="400" text-anchor="end" fill="#000" >0.8</text>
<text x="71.7" y="460.7" font-size="11" font-weight="400" text-anchor="middle" fill="#000" >0.1</text>
<text x="98.7" y="460.7" font-size="11" font-weight="400" text-anchor="middle" fill="#000" >0.2</text>
<text x="125.7" y="460.7" font-size="11" font-weight="400" text-anchor="middle" fill="#000" >0.3</text>
<text x="152.7" y="460.7" font-size="11" font-weight="400" text-anchor="middle" fill="#000" >0.4</text>
<text x="179.7" y="460.7" font-size="11" font-weight="400" text-anchor="middle" fill="#000" >0.5</text>
<text x="206.7" y="460.7" font-size="11" font-weight="400" text-anchor="middle" fill="#000" >0.6</text>
<text x="43.4" y="454.7" font-size="11" font-weight="400" text-anchor="end" fill="#000" >0</text>
<text x="132.3" y="478.3" font-size="11.6" font-weight="400" text-anchor="middle" fill="#000" >SAR</text>
<text transform="translate(16.5,353.6) rotate(-90)" font-size="11" text-anchor="middle" fill="#000" xml:space="preserve">s<tspan font-size="7" dy="3.6">80</tspan></text>
<clipPath id="hm3"><rect x="37.3" y="544.1" width="77.6" height="146.8"/></clipPath>
<rect x="37.3" y="544.1" width="77.6" height="146.8" fill="#481c6e"/>
<g clip-path="url(#hm3)">
<path d="M74.2,595.3 73.9,595.8 73.5,596.3 73.3,596.8 73.3,597.3 73.2,597.8 73.2,598.3 73.1,598.8 73.1,599.3 73.1,599.8 73.1,600.3 73,600.8 73,601.3 73,601.8 73,602.3 73,602.9 73,603.4 73,603.9 73,604.4 73,604.9 73.1,605.4 73.1,605.9 73.1,606.4 73.2,606.9 73.2,607.4 73.3,607.9 73.4,608.4 73.4,608.9 73.5,609.4 73.6,609.9 73.7,610.4 73.8,610.9 73.8,611.4 73.9,611.9 74,612.4 74.1,612.9 74.2,613.4 74.3,613.9 74.4,614.4 74.5,614.9 74.6,615.4 74.7,615.9 74.8,616.4 75,617 75.1,617.5 75.2,618 75.4,618.5 75.5,619 75.7,619.5 75.8,620 76,620.5 76.1,621 76.3,621.5 76.4,622 76.6,622.5 76.7,623 76.8,623.5 77,624 77.1,624.5 77.2,625 77.3,625.5 77.4,626 77.5,626.5 77.6,627 77.7,627.5 77.8,628 77.9,628.5 78,629 78.1,629.5 78.2,630 78.3,630.5 78.4,631.1 78.5,631.6 78.6,632.1 78.7,632.6 78.8,633.1 78.9,633.6 79,634.1 79.1,634.6 79.2,635.1 79.3,635.6 79.4,636.1 79.5,636.6 79.6,637.1 79.7,637.6 79.8,638.1 79.9,638.6 80,639.1 80.1,639.6 80.2,640.1 80.3,640.6 80.4,641.1 80.5,641.6 80.6,642.1 80.7,642.6 80.8,643.1 81,643.6 81.1,644.1 81.2,644.6 81.3,645.2 81.4,645.7 81.6,646.2 81.7,646.7 81.8,647.2 82,647.7 82.1,648.2 82.2,648.7 82.4,649.2 82.5,649.7 82.6,650.2 82.8,650.7 82.9,651.2 83,651.7 83.1,652.2 83.2,652.7 83.3,653.2 83.4,653.7 83.5,654.2 83.6,654.7 83.7,655.2 83.8,655.7 83.9,656.2 84,656.7 84.1,657.2 84.2,657.7 84.3,658.2 84.4,658.8 84.5,659.3 84.6,659.8 84.7,660.3 84.8,660.8 84.9,661.3 85,661.8 85.1,662.3 85.2,662.8 85.3,663.3 85.5,663.8 85.6,664.3 85.7,664.8 85.8,665.3 85.9,665.8 86.1,666.3 86.2,666.8 86.3,667.3 86.4,667.8 86.6,668.3 86.7,668.8 86.8,669.3 87,669.8 87.1,670.3 87.3,670.8 87.4,671.3 87.5,671.8 87.7,672.3 87.8,672.9 88,673.4 88.1,673.9 88.3,674.4 88.5,674.9 88.6,675.4 88.8,675.9 88.9,676.4 89.1,676.9 89.3,677.4 89.4,677.9 89.6,678.4 89.7,678.9 89.9,679.4 90,679.9 90.2,680.4 90.3,680.9 90.4,681.4 90.6,681.9 90.7,682.4 90.8,682.9 90.9,683.4 91.1,683.9 91.2,684.4 91.3,684.9 91.4,685.4 91.6,685.9 91.7,686.4 91.8,687 91.9,687.5 92.1,688 92.2,688.5 92.3,689 92.4,689.5 92.5,690 92.7,690.5 92.8,691 92.9,691.5 93,692 93.1,692.5 93.3,693 93.4,693.5 93.5,694 100.1,694 100,693.5 99.9,693 99.8,692.5 99.7,692 99.6,691.5 99.5,691 99.4,690.5 99.3,690 99.2,689.5 99.1,689 99,688.5 98.9,688 98.8,687.5 98.7,687 98.6,686.4 98.5,685.9 98.4,685.4 98.4,684.9 98.3,684.4 98.2,683.9 98.1,683.4 98,682.9 97.9,682.4 97.8,681.9 97.7,681.4 97.6,680.9 97.4,680.4 97.3,679.9 97.2,679.4 97.1,678.9 97,678.4 96.9,677.9 96.7,677.4 96.6,676.9 96.5,676.4 96.4,675.9 96.2,675.4 96.1,674.9 96,674.4 95.8,673.9 95.7,673.4 95.6,672.9 95.4,672.3 95.3,671.8 95.2,671.3 95.1,670.8 94.9,670.3 94.8,669.8 94.7,669.3 94.5,668.8 94.4,668.3 94.3,667.8 94.2,667.3 94,666.8 93.9,666.3 93.8,665.8 93.6,665.3 93.5,664.8 93.4,664.3 93.3,663.8 93.1,663.3 93,662.8 92.9,662.3 92.8,661.8 92.7,661.3 92.6,660.8 92.5,660.3 92.4,659.8 92.3,659.3 92.2,658.8 92.1,658.2 92,657.7 91.9,657.2 91.8,656.7 91.7,656.2 91.6,655.7 91.5,655.2 91.4,654.7 91.3,654.2 91.1,653.7 91,653.2 90.9,652.7 90.8,652.2 90.7,651.7 90.6,651.2 90.5,650.7 90.3,650.2 90.2,649.7 90.1,649.2 90,648.7 89.8,648.2 89.7,647.7 89.6,647.2 89.4,646.7 89.3,646.2 89.2,645.7 89,645.2 88.9,644.6 88.8,644.1 88.7,643.6 88.5,643.1 88.4,642.6 88.3,642.1 88.2,641.6 88,641.1 87.9,640.6 87.8,640.1 87.7,639.6 87.5,639.1 87.4,638.6 87.3,638.1 87.1,637.6 87,637.1 86.9,636.6 86.8,636.1 86.6,635.6 86.5,635.1 86.4,634.6 86.3,634.1 86.1,633.6 86,633.1 85.9,632.6 85.8,632.1 85.7,631.6 85.5,631.1 85.4,630.5 85.3,630 85.2,629.5 85,629 84.9,628.5 84.8,628 84.7,627.5 84.5,627 84.4,626.5 84.3,626 84.1,625.5 84,625 83.9,624.5 83.7,624 83.6,623.5 83.4,623 83.3,622.5 83.1,622 82.9,621.5 82.8,621 82.6,620.5 82.4,620 82.3,619.5 82.1,619 81.9,618.5 81.8,618 81.6,617.5 81.5,617 81.3,616.4 81.2,615.9 81,615.4 80.9,614.9 80.7,614.4 80.6,613.9 80.5,613.4 80.3,612.9 80.2,612.4 80.1,611.9 80,611.4 79.9,610.9 79.8,610.4 79.7,609.9 79.5,609.4 79.4,608.9 79.3,608.4 79.2,607.9 79.1,607.4 79,606.9 78.9,606.4 78.8,605.9 78.6,605.4 78.5,604.9 78.4,604.4 78.2,603.9 78.1,603.4 78,602.9 77.8,602.3 77.6,601.8 77.5,601.3 77.3,600.8 77.1,600.3 77,599.8 76.8,599.3 76.6,598.8 76.4,598.3 76.2,597.8 75.9,597.3 75.7,596.8 75.4,596.3 75.1,595.8 74.8,595.3Z" fill="#3b548b"/>
<path d="M76.7,608.5 76.4,609 76.2,609.5 76,610 75.8,610.5 75.8,611 75.8,611.5 75.8,612 75.8,612.5 75.8,613 75.8,613.5 75.8,614 75.8,614.5 75.8,615 75.9,615.5 76,616 76,616.5 76.1,617 76.3,617.6 76.4,618.1 76.5,618.6 76.6,619.1 76.8,619.6 76.9,620.1 77.1,620.6 77.2,621.1 77.4,621.6 77.5,622.1 77.7,622.6 77.8,623.1 78,623.6 78.1,624.1 78.2,624.6 78.3,625.1 78.4,625.6 78.5,626.1 78.6,626.6 78.7,627.1 78.8,627.6 78.9,628.1 79,628.6 79.1,629.1 79.2,629.6 79.3,630.1 79.4,630.6 79.5,631.1 79.6,631.6 79.7,632.1 79.8,632.6 79.9,633.1 80,633.6 80.1,634.1 80.2,634.7 80.3,635.2 80.4,635.7 80.5,636.2 80.6,636.7 80.7,637.2 80.8,637.7 80.9,638.2 81,638.7 81.1,639.2 81.2,639.7 81.3,640.2 81.4,640.7 81.5,641.2 81.6,641.7 81.7,642.2 81.8,642.7 82,643.2 82.1,643.7 82.2,644.2 82.3,644.7 82.4,645.2 82.6,645.7 82.7,646.2 82.8,646.7 83,647.2 83.1,647.7 83.2,648.2 83.4,648.7 83.5,649.2 83.6,649.7 83.7,650.2 83.9,650.7 84,651.2 84.1,651.8 84.2,652.3 84.3,652.8 84.4,653.3 84.5,653.8 84.6,654.3 84.7,654.8 84.8,655.3 84.9,655.8 85,656.3 85.1,656.8 85.2,657.3 85.3,657.8 85.4,658.3 85.5,658.8 85.6,659.3 85.7,659.8 85.8,660.3 85.9,660.8 86,661.3 86.1,661.8 86.2,662.3 86.3,662.8 86.4,663.3 86.6,663.8 86.7,664.3 86.8,664.8 86.9,665.3 87,665.8 87.2,666.3 87.3,666.8 87.4,667.3 87.6,667.8 87.7,668.4 87.8,668.9 88,669.4 88.1,669.9 88.2,670.4 88.4,670.9 88.5,671.4 88.6,671.9 88.8,672.4 88.9,672.9 89.1,673.4 89.3,673.9 89.4,674.4 89.6,674.9 89.7,675.4 89.9,675.9 90.1,676.4 90.2,676.9 90.4,677.4 90.5,677.9 90.7,678.4 90.8,678.9 91,679.4 91.1,679.9 91.3,680.4 91.4,680.9 91.5,681.4 91.7,681.9 91.8,682.4 91.9,682.9 92,683.4 92.2,683.9 92.3,684.4 92.4,684.9 92.5,685.5 92.7,686 92.8,686.5 92.9,687 93,687.5 93.2,688 93.3,688.5 93.4,689 93.5,689.5 93.6,690 93.8,690.5 93.9,691 94,691.5 94.1,692 94.2,692.5 94.4,693 94.5,693.5 94.6,694 99.1,694 99,693.5 98.9,693 98.8,692.5 98.7,692 98.6,691.5 98.5,691 98.4,690.5 98.3,690 98.2,689.5 98.1,689 98,688.5 97.9,688 97.8,687.5 97.7,687 97.6,686.5 97.5,686 97.5,685.5 97.4,684.9 97.3,684.4 97.2,683.9 97.1,683.4 97,682.9 96.9,682.4 96.8,681.9 96.7,681.4 96.6,680.9 96.4,680.4 96.3,679.9 96.2,679.4 96.1,678.9 96,678.4 95.9,677.9 95.7,677.4 95.6,676.9 95.5,676.4 95.4,675.9 95.2,675.4 95.1,674.9 95,674.4 94.8,673.9 94.7,673.4 94.6,672.9 94.4,672.4 94.3,671.9 94.2,671.4 94.1,670.9 93.9,670.4 93.8,669.9 93.7,669.4 93.6,668.9 93.4,668.4 93.3,667.8 93.2,667.3 93,666.8 92.9,666.3 92.8,665.8 92.7,665.3 92.5,664.8 92.4,664.3 92.3,663.8 92.2,663.3 92,662.8 91.9,662.3 91.8,661.8 91.7,661.3 91.6,660.8 91.5,660.3 91.4,659.8 91.3,659.3 91.2,658.8 91.1,658.3 91,657.8 90.9,657.3 90.8,656.8 90.7,656.3 90.6,655.8 90.5,655.3 90.4,654.8 90.3,654.3 90.2,653.8 90,653.3 89.9,652.8 89.8,652.3 89.7,651.8 89.6,651.2 89.5,650.7 89.3,650.2 89.2,649.7 89.1,649.2 89,648.7 88.8,648.2 88.7,647.7 88.6,647.2 88.4,646.7 88.3,646.2 88.2,645.7 88.1,645.2 87.9,644.7 87.8,644.2 87.7,643.7 87.6,643.2 87.4,642.7 87.3,642.2 87.2,641.7 87,641.2 86.9,640.7 86.8,640.2 86.7,639.7 86.5,639.2 86.4,638.7 86.3,638.2 86.2,637.7 86,637.2 85.9,636.7 85.8,636.2 85.7,635.7 85.5,635.2 85.4,634.7 85.3,634.1 85.2,633.6 85,633.1 84.9,632.6 84.8,632.1 84.7,631.6 84.6,631.1 84.4,630.6 84.3,630.1 84.2,629.6 84.1,629.1 83.9,628.6 83.8,628.1 83.7,627.6 83.6,627.1 83.4,626.6 83.3,626.1 83.2,625.6 83,625.1 82.9,624.6 82.7,624.1 82.6,623.6 82.5,623.1 82.3,622.6 82.1,622.1 82,621.6 81.8,621.1 81.7,620.6 81.5,620.1 81.4,619.6 81.2,619.1 81,618.6 80.9,618.1 80.7,617.6 80.6,617 80.4,616.5 80.2,616 80.1,615.5 79.9,615 79.8,614.5 79.6,614 79.5,613.5 79.3,613 79.2,612.5 79.1,612 78.9,611.5 78.7,611 78.5,610.5 78.1,610 77.8,609.5 77.3,609 76.9,608.5Z" fill="#2a7f8e"/>
<path d="M79.2,618.5 79,619 78.9,619.5 78.7,620 78.6,620.5 78.6,621 78.6,621.5 78.6,622 78.7,622.5 78.7,623 78.8,623.5 78.9,624 78.9,624.5 79,625 79.1,625.5 79.2,626.1 79.2,626.6 79.3,627.1 79.4,627.6 79.5,628.1 79.6,628.6 79.7,629.1 79.9,629.6 80,630.1 80.1,630.6 80.2,631.1 80.3,631.6 80.4,632.1 80.6,632.6 80.7,633.1 80.8,633.6 80.9,634.1 81,634.6 81.1,635.1 81.2,635.6 81.3,636.1 81.4,636.6 81.5,637.1 81.6,637.6 81.7,638.1 81.8,638.6 81.9,639.1 82,639.6 82.1,640.2 82.2,640.7 82.3,641.2 82.4,641.7 82.5,642.2 82.6,642.7 82.7,643.2 82.9,643.7 83,644.2 83.1,644.7 83.2,645.2 83.4,645.7 83.5,646.2 83.6,646.7 83.7,647.2 83.9,647.7 84,648.2 84.1,648.7 84.3,649.2 84.4,649.7 84.5,650.2 84.7,650.7 84.8,651.2 84.9,651.7 85,652.2 85.1,652.7 85.2,653.2 85.3,653.8 85.4,654.3 85.5,654.8 85.6,655.3 85.7,655.8 85.8,656.3 85.9,656.8 86,657.3 86.1,657.8 86.2,658.3 86.3,658.8 86.4,659.3 86.5,659.8 86.6,660.3 86.7,660.8 86.8,661.3 86.9,661.8 87,662.3 87.1,662.8 87.2,663.3 87.4,663.8 87.5,664.3 87.6,664.8 87.7,665.3 87.8,665.8 88,666.3 88.1,666.8 88.2,667.3 88.4,667.9 88.5,668.4 88.6,668.9 88.8,669.4 88.9,669.9 89,670.4 89.2,670.9 89.3,671.4 89.4,671.9 89.6,672.4 89.7,672.9 89.9,673.4 90,673.9 90.2,674.4 90.3,674.9 90.5,675.4 90.6,675.9 90.8,676.4 91,676.9 91.1,677.4 91.3,677.9 91.4,678.4 91.6,678.9 91.8,679.4 91.9,679.9 92.1,680.4 92.2,680.9 92.4,681.4 92.5,682 92.7,682.5 92.9,683 93,683.5 93.2,684 93.4,684.5 93.5,685 93.7,685.5 93.9,686 94.1,686.5 94.3,687 94.5,687.5 94.7,688 95,688.5 95.2,689 95.2,689 95.5,688.5 95.8,688 96.1,687.5 96.3,687 96.5,686.5 96.5,686 96.5,685.5 96.5,685 96.4,684.5 96.3,684 96.2,683.5 96.2,683 96.1,682.5 96,682 95.8,681.4 95.7,680.9 95.6,680.4 95.6,679.9 95.5,679.4 95.3,678.9 95.2,678.4 95.1,677.9 95,677.4 94.9,676.9 94.8,676.4 94.6,675.9 94.5,675.4 94.4,674.9 94.3,674.4 94.1,673.9 94,673.4 93.9,672.9 93.7,672.4 93.6,671.9 93.5,671.4 93.4,670.9 93.2,670.4 93.1,669.9 93,669.4 92.9,668.9 92.7,668.4 92.6,667.9 92.5,667.3 92.3,666.8 92.2,666.3 92.1,665.8 92,665.3 91.8,664.8 91.7,664.3 91.6,663.8 91.5,663.3 91.3,662.8 91.2,662.3 91.1,661.8 91,661.3 90.9,660.8 90.8,660.3 90.7,659.8 90.6,659.3 90.5,658.8 90.4,658.3 90.3,657.8 90.2,657.3 90.1,656.8 90,656.3 89.9,655.8 89.8,655.3 89.7,654.8 89.6,654.3 89.5,653.8 89.3,653.2 89.2,652.7 89.1,652.2 89,651.7 88.9,651.2 88.8,650.7 88.6,650.2 88.5,649.7 88.4,649.2 88.3,648.7 88.1,648.2 88,647.7 87.9,647.2 87.7,646.7 87.6,646.2 87.5,645.7 87.4,645.2 87.2,644.7 87.1,644.2 87,643.7 86.8,643.2 86.7,642.7 86.6,642.2 86.5,641.7 86.3,641.2 86.2,640.7 86.1,640.2 86,639.6 85.8,639.1 85.7,638.6 85.6,638.1 85.5,637.6 85.3,637.1 85.2,636.6 85.1,636.1 84.9,635.6 84.8,635.1 84.7,634.6 84.6,634.1 84.5,633.6 84.3,633.1 84.2,632.6 84.1,632.1 84,631.6 83.9,631.1 83.8,630.6 83.7,630.1 83.5,629.6 83.4,629.1 83.3,628.6 83.2,628.1 83.1,627.6 83,627.1 82.8,626.6 82.7,626.1 82.6,625.5 82.4,625 82.3,624.5 82.1,624 82,623.5 81.8,623 81.6,622.5 81.4,622 81.2,621.5 81,621 80.7,620.5 80.4,620 80,619.5 79.6,619 79.2,618.5Z" fill="#22a884"/>
<path d="M80.2,622.5 80.2,623 80.1,623.5 79.9,624 79.8,624.5 79.8,625 79.8,625.5 79.8,626 79.9,626.5 80,627 80.1,627.5 80.1,628 80.3,628.6 80.4,629.1 80.5,629.6 80.6,630.1 80.8,630.6 80.9,631.1 81,631.6 81.2,632.1 81.3,632.6 81.4,633.1 81.6,633.6 81.7,634.1 81.8,634.6 81.9,635.1 82,635.6 82.1,636.1 82.2,636.6 82.3,637.1 82.4,637.6 82.5,638.1 82.6,638.6 82.7,639.1 82.8,639.7 82.9,640.2 83,640.7 83.1,641.2 83.2,641.7 83.3,642.2 83.4,642.7 83.6,643.2 83.7,643.7 83.8,644.2 83.9,644.7 84,645.2 84.1,645.7 84.3,646.2 84.4,646.7 84.5,647.2 84.6,647.7 84.8,648.2 84.9,648.7 85,649.2 85.1,649.7 85.3,650.2 85.4,650.8 85.5,651.3 85.6,651.8 85.7,652.3 85.8,652.8 85.9,653.3 86.1,653.8 86.2,654.3 86.3,654.8 86.4,655.3 86.5,655.8 86.6,656.3 86.7,656.8 86.8,657.3 86.9,657.8 87,658.3 87.1,658.8 87.2,659.3 87.3,659.8 87.4,660.3 87.5,660.8 87.6,661.3 87.7,661.8 87.8,662.4 87.9,662.9 88.1,663.4 88.2,663.9 88.3,664.4 88.4,664.9 88.5,665.4 88.6,665.9 88.8,666.4 88.9,666.9 89,667.4 89.2,667.9 89.3,668.4 89.4,668.9 89.6,669.4 89.7,669.9 89.8,670.4 90,670.9 90.1,671.4 90.3,671.9 90.4,672.4 90.6,672.9 90.8,673.5 91,674 91.1,674.5 91.3,675 91.5,675.5 91.7,676 91.9,676.5 92.1,677 92.3,677.5 92.5,678 92.7,678.5 92.7,679 92.7,679 92.8,678.5 93,678 93.3,677.5 93.4,677 93.6,676.5 93.6,676 93.6,675.5 93.6,675 93.6,674.5 93.5,674 93.5,673.5 93.5,672.9 93.4,672.4 93.4,671.9 93.3,671.4 93.3,670.9 93.2,670.4 93.2,669.9 93.1,669.4 93,668.9 92.9,668.4 92.8,667.9 92.7,667.4 92.6,666.9 92.5,666.4 92.4,665.9 92.2,665.4 92.1,664.9 92,664.4 91.9,663.9 91.7,663.4 91.6,662.9 91.5,662.4 91.4,661.8 91.3,661.3 91.2,660.8 91.1,660.3 91,659.8 90.9,659.3 90.8,658.8 90.7,658.3 90.6,657.8 90.5,657.3 90.5,656.8 90.4,656.3 90.3,655.8 90.2,655.3 90.1,654.8 90,654.3 89.9,653.8 89.7,653.3 89.6,652.8 89.5,652.3 89.4,651.8 89.3,651.3 89.2,650.8 89,650.2 88.9,649.7 88.8,649.2 88.6,648.7 88.5,648.2 88.3,647.7 88.2,647.2 88.1,646.7 87.9,646.2 87.8,645.7 87.7,645.2 87.5,644.7 87.4,644.2 87.3,643.7 87.1,643.2 87,642.7 86.9,642.2 86.8,641.7 86.7,641.2 86.6,640.7 86.5,640.2 86.4,639.7 86.3,639.1 86.2,638.6 86.1,638.1 85.9,637.6 85.8,637.1 85.7,636.6 85.6,636.1 85.5,635.6 85.3,635.1 85.2,634.6 85.1,634.1 84.9,633.6 84.8,633.1 84.6,632.6 84.5,632.1 84.3,631.6 84.2,631.1 84,630.6 83.8,630.1 83.6,629.6 83.5,629.1 83.3,628.6 83.1,628 82.9,627.5 82.7,627 82.4,626.5 82.2,626 82,625.5 81.7,625 81.4,624.5 81.1,624 80.8,623.5 80.4,623 80.2,622.5Z" fill="#6ccd5a"/>
<path d="M81.5,629 81.7,629.5 82,630 82.2,630.5 82.3,631 82.3,631.5 82.4,632 82.4,632.5 82.5,633.1 82.5,633.6 82.6,634.1 82.6,634.6 82.7,635.1 82.8,635.6 82.9,636.1 83,636.6 83.1,637.1 83.2,637.6 83.3,638.1 83.4,638.6 83.5,639.1 83.6,639.6 83.7,640.1 83.8,640.6 83.9,641.2 84,641.7 84.1,642.2 84.2,642.7 84.4,643.2 84.5,643.7 84.6,644.2 84.7,644.7 84.8,645.2 84.9,645.7 85.1,646.2 85.2,646.7 85.3,647.2 85.5,647.7 85.6,648.2 85.7,648.7 85.9,649.3 86,649.8 86.1,650.3 86.3,650.8 86.4,651.3 86.5,651.8 86.6,652.3 86.7,652.8 86.9,653.3 87,653.8 87.1,654.3 87.2,654.8 87.3,655.3 87.4,655.8 87.5,656.3 87.6,656.8 87.7,657.4 87.8,657.9 87.9,658.4 88,658.9 88.1,659.4 88.2,659.9 88.3,660.4 88.4,660.9 88.5,661.4 88.6,661.9 88.8,662.4 88.9,662.9 89,663.4 89.2,663.9 89.3,664.4 89.5,664.9 89.6,665.5 89.8,666 90,666.5 90.1,667 90.3,667.5 90.4,668 90.3,668.5 90.3,669 90.3,669 90.3,668.5 90.4,668 90.5,667.5 90.6,667 90.8,666.5 90.8,666 90.8,665.5 90.8,664.9 90.8,664.4 90.7,663.9 90.7,663.4 90.7,662.9 90.6,662.4 90.6,661.9 90.6,661.4 90.5,660.9 90.4,660.4 90.4,659.9 90.3,659.4 90.2,658.9 90.1,658.4 90,657.9 89.9,657.4 89.7,656.8 89.6,656.3 89.5,655.8 89.4,655.3 89.2,654.8 89.1,654.3 89,653.8 88.9,653.3 88.7,652.8 88.6,652.3 88.5,651.8 88.4,651.3 88.3,650.8 88.2,650.3 88.1,649.8 87.9,649.3 87.8,648.7 87.7,648.2 87.6,647.7 87.5,647.2 87.4,646.7 87.2,646.2 87.1,645.7 87,645.2 86.9,644.7 86.8,644.2 86.7,643.7 86.6,643.2 86.4,642.7 86.3,642.2 86.3,641.7 86.2,641.2 86.1,640.6 86,640.1 85.9,639.6 85.8,639.1 85.7,638.6 85.6,638.1 85.5,637.6 85.4,637.1 85.3,636.6 85.2,636.1 85,635.6 84.9,635.1 84.7,634.6 84.6,634.1 84.3,633.6 84.1,633.1 83.8,632.5 83.4,632 83,631.5 82.6,631 82.2,630.5 82,630 81.7,629.5 81.5,629Z" fill="#b8de29"/>
<path d="M83.3,637 83.6,637.5 83.8,638 83.9,638.6 83.9,639.1 84,639.6 84,640.1 84.1,640.6 84.2,641.1 84.3,641.7 84.5,642.2 84.6,642.7 84.8,643.2 84.9,643.7 85,644.3 85.1,644.8 85.2,645.3 85.3,645.8 85.4,646.3 85.5,646.9 85.6,647.4 85.8,647.9 85.9,648.4 86.2,648.9 86.4,649.4 86.7,650 86.8,650.5 86.8,651 86.8,651 86.8,650.5 86.8,650 86.9,649.4 87.1,648.9 87.2,648.4 87.2,647.9 87.2,647.4 87.1,646.9 87.1,646.3 87,645.8 86.9,645.3 86.8,644.8 86.7,644.3 86.6,643.7 86.5,643.2 86.3,642.7 86.2,642.2 86,641.7 85.8,641.1 85.6,640.6 85.4,640.1 85.1,639.6 84.7,639.1 84.3,638.6 83.8,638 83.6,637.5 83.3,637Z" fill="#ece51f"/>
</g>
<circle cx="88.3" cy="657.3" r="1.6" fill="#ff0000"/>
<rect x="37.3" y="544.1" width="77.6" height="146.8" fill="none" stroke="#000" stroke-width="1"/>
<line x1="34.3" y1="676.05" x2="37.3" y2="676.05" stroke="#000" stroke-width="1" />
<line x1="34.3" y1="657.2" x2="37.3" y2="657.2" stroke="#000" stroke-width="1" />
<line x1="34.3" y1="638.35" x2="37.3" y2="638.35" stroke="#000" stroke-width="1" />
<line x1="34.3" y1="619.5" x2="37.3" y2="619.5" stroke="#000" stroke-width="1" />
<line x1="34.3" y1="600.65" x2="37.3" y2="600.65" stroke="#000" stroke-width="1" />
<line x1="34.3" y1="581.8" x2="37.3" y2="581.8" stroke="#000" stroke-width="1" />
<line x1="34.3" y1="562.95" x2="37.3" y2="562.95" stroke="#000" stroke-width="1" />
<line x1="34.3" y1="544.1" x2="37.3" y2="544.1" stroke="#000" stroke-width="1" />
<line x1="61.38" y1="690.9" x2="61.38" y2="693.4" stroke="#000" stroke-width="1" />
<line x1="88.14" y1="690.9" x2="88.14" y2="693.4" stroke="#000" stroke-width="1" />
<line x1="114.9" y1="690.9" x2="114.9" y2="693.4" stroke="#000" stroke-width="1" />
<text x="33.3" y="659.3" font-size="11" font-weight="400" text-anchor="end" fill="#000" >0.2</text>
<text x="33.3" y="621.6" font-size="11" font-weight="400" text-anchor="end" fill="#000" >0.4</text>
<text x="33.3" y="583.9" font-size="11" font-weight="400" text-anchor="end" fill="#000" >0.6</text>
<text x="33.3" y="546.2" font-size="11" font-weight="400" text-anchor="end" fill="#000" >0.8</text>
<text x="58.78" y="706.4" font-size="11" font-weight="400" text-anchor="middle" fill="#000" >0.1</text>
<text x="85.54" y="706.4" font-size="11" font-weight="400" text-anchor="middle" fill="#000" >0.2</text>
<text x="112.3" y="706.4" font-size="11" font-weight="400" text-anchor="middle" fill="#000" >0.3</text>
<text x="39.3" y="706.4" font-size="11" font-weight="400" text-anchor="middle" fill="#000" >0</text>
<text x="33" y="696" font-size="11" font-weight="400" text-anchor="end" fill="#000" >0</text>
<text x="75.5" y="725.8" font-size="11.6" font-weight="400" text-anchor="middle" fill="#000" >SAR</text>
<text transform="translate(8.8,600.9) rotate(-90)" font-size="11" text-anchor="middle" fill="#000" xml:space="preserve">s<tspan font-size="7" dy="3.6">80</tspan></text>
<clipPath id="hm4"><rect x="135.1" y="544.1" width="77.8" height="146.8"/></clipPath>
<rect x="135.1" y="544.1" width="77.8" height="146.8" fill="#481c6e"/>
<g clip-path="url(#hm4)">
<path d="M174.1,581.7 173.7,582.2 173.4,582.7 173.1,583.2 172.9,583.7 172.7,584.2 172.5,584.7 172.4,585.2 172.3,585.7 172.2,586.2 172.2,586.7 172.1,587.2 172.1,587.7 172,588.2 172,588.8 172,589.3 171.9,589.8 171.9,590.3 171.9,590.8 171.9,591.3 171.8,591.8 171.8,592.3 171.8,592.8 171.8,593.3 171.8,593.8 171.8,594.3 171.8,594.8 171.8,595.3 171.8,595.8 171.8,596.3 171.8,596.8 171.9,597.3 171.9,597.8 171.9,598.3 171.9,598.8 172,599.3 172,599.8 172,600.3 172.1,600.8 172.1,601.3 172.1,601.8 172.2,602.3 172.2,602.9 172.2,603.4 172.3,603.9 172.3,604.4 172.4,604.9 172.4,605.4 172.5,605.9 172.5,606.4 172.5,606.9 172.6,607.4 172.7,607.9 172.7,608.4 172.8,608.9 172.8,609.4 172.9,609.9 172.9,610.4 173,610.9 173,611.4 173.1,611.9 173.2,612.4 173.2,612.9 173.3,613.4 173.4,613.9 173.5,614.4 173.5,614.9 173.6,615.4 173.7,615.9 173.8,616.4 173.9,617 173.9,617.5 174,618 174.1,618.5 174.2,619 174.2,619.5 174.3,620 174.4,620.5 174.5,621 174.6,621.5 174.6,622 174.7,622.5 174.8,623 174.9,623.5 174.9,624 175,624.5 175.1,625 175.2,625.5 175.3,626 175.3,626.5 175.4,627 175.5,627.5 175.6,628 175.7,628.5 175.7,629 175.8,629.5 175.9,630 175.9,630.5 176,631.1 176.1,631.6 176.2,632.1 176.2,632.6 176.3,633.1 176.4,633.6 176.5,634.1 176.6,634.6 176.7,635.1 176.8,635.6 176.9,636.1 177,636.6 177.1,637.1 177.3,637.6 177.4,638.1 177.6,638.6 177.7,639.1 177.9,639.6 178,640.1 178.1,640.6 178.2,641.1 178.3,641.6 178.4,642.1 178.5,642.6 178.7,643.1 178.8,643.6 178.9,644.1 179,644.6 179.1,645.2 179.2,645.7 179.3,646.2 179.4,646.7 179.5,647.2 179.6,647.7 179.7,648.2 179.8,648.7 180,649.2 180.1,649.7 180.2,650.2 180.3,650.7 180.5,651.2 180.6,651.7 180.7,652.2 180.9,652.7 181,653.2 181.1,653.7 181.3,654.2 181.4,654.7 181.5,655.2 181.7,655.7 181.8,656.2 181.9,656.7 182,657.2 182.2,657.7 182.3,658.2 182.4,658.7 182.5,659.3 182.6,659.8 182.7,660.3 182.8,660.8 183,661.3 183.1,661.8 183.2,662.3 183.3,662.8 183.4,663.3 183.6,663.8 183.7,664.3 183.8,664.8 184,665.3 184.1,665.8 184.3,666.3 184.5,666.8 184.6,667.3 184.8,667.8 185,668.3 185.2,668.8 185.4,669.3 185.6,669.8 185.7,670.3 185.9,670.8 186.1,671.3 186.3,671.8 186.5,672.3 186.7,672.8 186.9,673.4 187,673.9 187.2,674.4 187.4,674.9 187.6,675.4 187.7,675.9 187.9,676.4 188.1,676.9 188.3,677.4 188.4,677.9 188.6,678.4 188.8,678.9 189,679.4 189.1,679.9 189.3,680.4 189.5,680.9 189.7,681.4 189.8,681.9 190,682.4 190.2,682.9 190.4,683.4 190.6,683.9 190.7,684.4 190.9,684.9 191.1,685.4 191.3,685.9 191.5,686.4 191.6,686.9 191.8,687.5 192,688 192.2,688.5 192.3,689 192.5,689.5 192.7,690 192.9,690.5 193,691 193.2,691.5 193.4,692 193.5,692.5 193.7,693 193.8,693.5 194,694 201.6,694 201.6,693.5 201.5,693 201.5,692.5 201.4,692 201.4,691.5 201.3,691 201.3,690.5 201.2,690 201.2,689.5 201.1,689 201.1,688.5 201,688 201,687.5 200.9,686.9 200.9,686.4 200.8,685.9 200.8,685.4 200.7,684.9 200.7,684.4 200.6,683.9 200.6,683.4 200.5,682.9 200.5,682.4 200.4,681.9 200.4,681.4 200.3,680.9 200.3,680.4 200.2,679.9 200.2,679.4 200.1,678.9 200.1,678.4 200,677.9 200,677.4 199.9,676.9 199.9,676.4 199.8,675.9 199.8,675.4 199.7,674.9 199.7,674.4 199.6,673.9 199.5,673.4 199.4,672.8 199.4,672.3 199.3,671.8 199.2,671.3 199.1,670.8 199,670.3 198.9,669.8 198.8,669.3 198.7,668.8 198.6,668.3 198.5,667.8 198.4,667.3 198.2,666.8 198.1,666.3 198,665.8 198,665.3 197.9,664.8 197.8,664.3 197.7,663.8 197.6,663.3 197.5,662.8 197.5,662.3 197.4,661.8 197.3,661.3 197.2,660.8 197.2,660.3 197.1,659.8 197,659.3 196.9,658.7 196.9,658.2 196.8,657.7 196.7,657.2 196.6,656.7 196.5,656.2 196.4,655.7 196.3,655.2 196.2,654.7 196.1,654.2 196,653.7 195.9,653.2 195.8,652.7 195.7,652.2 195.6,651.7 195.5,651.2 195.4,650.7 195.3,650.2 195.2,649.7 195.1,649.2 195,648.7 194.9,648.2 194.8,647.7 194.7,647.2 194.7,646.7 194.6,646.2 194.5,645.7 194.4,645.2 194.3,644.6 194.2,644.1 194.1,643.6 194,643.1 193.9,642.6 193.8,642.1 193.7,641.6 193.5,641.1 193.4,640.6 193.3,640.1 193.1,639.6 192.9,639.1 192.7,638.6 192.4,638.1 192.2,637.6 192,637.1 191.7,636.6 191.5,636.1 191.4,635.6 191.2,635.1 191.1,634.6 190.9,634.1 190.8,633.6 190.7,633.1 190.6,632.6 190.5,632.1 190.3,631.6 190.2,631.1 190.1,630.5 190,630 189.9,629.5 189.8,629 189.7,628.5 189.6,628 189.5,627.5 189.4,627 189.3,626.5 189.2,626 189.1,625.5 189,625 188.9,624.5 188.8,624 188.7,623.5 188.6,623 188.5,622.5 188.4,622 188.3,621.5 188.2,621 188.1,620.5 188,620 187.9,619.5 187.8,619 187.7,618.5 187.6,618 187.5,617.5 187.4,617 187.3,616.4 187.2,615.9 187.1,615.4 187,614.9 186.9,614.4 186.8,613.9 186.7,613.4 186.6,612.9 186.5,612.4 186.4,611.9 186.3,611.4 186.2,610.9 186.1,610.4 186,609.9 185.8,609.4 185.7,608.9 185.6,608.4 185.5,607.9 185.4,607.4 185.2,606.9 185.1,606.4 185,605.9 184.8,605.4 184.7,604.9 184.6,604.4 184.4,603.9 184.3,603.4 184.1,602.9 184,602.3 183.8,601.8 183.7,601.3 183.5,600.8 183.3,600.3 183.1,599.8 182.9,599.3 182.8,598.8 182.6,598.3 182.4,597.8 182.2,597.3 182,596.8 181.8,596.3 181.6,595.8 181.5,595.3 181.3,594.8 181.1,594.3 181,593.8 180.8,593.3 180.7,592.8 180.6,592.3 180.4,591.8 180.3,591.3 180.2,590.8 180,590.3 179.9,589.8 179.8,589.3 179.6,588.8 179.5,588.2 179.3,587.7 179.2,587.2 179,586.7 178.8,586.2 178.6,585.7 178.4,585.2 178.2,584.7 178,584.2 177.7,583.7 177.4,583.2 177.1,582.7 176.6,582.2 176.1,581.7Z" fill="#3b548b"/>
<path d="M176.4,595.5 176.1,596 175.8,596.5 175.6,597 175.3,597.5 175.2,598 175.1,598.5 175,599 174.9,599.5 174.8,600 174.8,600.5 174.7,601 174.6,601.5 174.6,602 174.6,602.5 174.6,603 174.6,603.5 174.6,604 174.6,604.5 174.6,605 174.6,605.6 174.7,606.1 174.7,606.6 174.7,607.1 174.7,607.6 174.7,608.1 174.8,608.6 174.8,609.1 174.8,609.6 174.8,610.1 174.9,610.6 174.9,611.1 174.9,611.6 175,612.1 175,612.6 175.1,613.1 175.2,613.6 175.3,614.1 175.3,614.6 175.4,615.1 175.5,615.6 175.6,616.1 175.7,616.6 175.8,617.1 175.9,617.6 175.9,618.1 176,618.6 176.1,619.1 176.2,619.6 176.2,620.1 176.3,620.6 176.4,621.1 176.4,621.6 176.5,622.1 176.5,622.6 176.6,623.1 176.7,623.6 176.7,624.1 176.8,624.6 176.9,625.2 176.9,625.7 177,626.2 177.1,626.7 177.1,627.2 177.2,627.7 177.3,628.2 177.4,628.7 177.5,629.2 177.5,629.7 177.6,630.2 177.7,630.7 177.8,631.2 177.9,631.7 178,632.2 178.1,632.7 178.1,633.2 178.2,633.7 178.3,634.2 178.4,634.7 178.5,635.2 178.6,635.7 178.7,636.2 178.8,636.7 178.9,637.2 179,637.7 179.1,638.2 179.2,638.7 179.3,639.2 179.4,639.7 179.5,640.2 179.6,640.7 179.7,641.2 179.8,641.7 179.9,642.2 180,642.7 180.1,643.2 180.2,643.7 180.3,644.2 180.4,644.8 180.5,645.3 180.6,645.8 180.7,646.3 180.8,646.8 180.9,647.3 181,647.8 181.1,648.3 181.3,648.8 181.4,649.3 181.5,649.8 181.6,650.3 181.7,650.8 181.9,651.3 182,651.8 182.1,652.3 182.2,652.8 182.4,653.3 182.5,653.8 182.6,654.3 182.7,654.8 182.9,655.3 183,655.8 183.1,656.3 183.2,656.8 183.3,657.3 183.5,657.8 183.6,658.3 183.7,658.8 183.8,659.3 183.9,659.8 184,660.3 184.2,660.8 184.3,661.3 184.4,661.8 184.5,662.3 184.6,662.8 184.8,663.3 184.9,663.8 185,664.3 185.2,664.9 185.3,665.4 185.4,665.9 185.6,666.4 185.7,666.9 185.9,667.4 186.1,667.9 186.2,668.4 186.4,668.9 186.6,669.4 186.7,669.9 186.9,670.4 187.1,670.9 187.3,671.4 187.4,671.9 187.6,672.4 187.8,672.9 188,673.4 188.2,673.9 188.3,674.4 188.5,674.9 188.7,675.4 188.9,675.9 189.1,676.4 189.3,676.9 189.5,677.4 189.7,677.9 189.9,678.4 190.1,678.9 190.3,679.4 190.5,679.9 190.7,680.4 190.9,680.9 191.1,681.4 191.3,681.9 191.4,682.4 191.6,682.9 191.8,683.4 191.9,683.9 192.1,684.5 192.3,685 192.4,685.5 192.6,686 192.8,686.5 192.9,687 193.1,687.5 193.2,688 193.4,688.5 193.6,689 193.7,689.5 193.9,690 194.1,690.5 194.2,691 194.4,691.5 194.5,692 194.7,692.5 194.9,693 195,693.5 195.2,694 199.9,694 199.9,693.5 199.8,693 199.8,692.5 199.7,692 199.7,691.5 199.6,691 199.6,690.5 199.5,690 199.5,689.5 199.4,689 199.4,688.5 199.3,688 199.2,687.5 199.2,687 199.1,686.5 199,686 199,685.5 198.9,685 198.8,684.5 198.8,683.9 198.7,683.4 198.6,682.9 198.6,682.4 198.5,681.9 198.5,681.4 198.5,680.9 198.4,680.4 198.4,679.9 198.4,679.4 198.3,678.9 198.3,678.4 198.3,677.9 198.3,677.4 198.2,676.9 198.2,676.4 198.2,675.9 198.2,675.4 198.1,674.9 198.1,674.4 198.1,673.9 198,673.4 198,672.9 197.9,672.4 197.8,671.9 197.8,671.4 197.7,670.9 197.6,670.4 197.5,669.9 197.4,669.4 197.2,668.9 197.1,668.4 197,667.9 196.9,667.4 196.8,666.9 196.7,666.4 196.6,665.9 196.5,665.4 196.4,664.9 196.3,664.3 196.2,663.8 196.1,663.3 196,662.8 195.9,662.3 195.9,661.8 195.8,661.3 195.7,660.8 195.6,660.3 195.5,659.8 195.5,659.3 195.4,658.8 195.3,658.3 195.2,657.8 195.1,657.3 195,656.8 194.9,656.3 194.8,655.8 194.7,655.3 194.7,654.8 194.6,654.3 194.5,653.8 194.4,653.3 194.3,652.8 194.2,652.3 194.1,651.8 194,651.3 193.9,650.8 193.8,650.3 193.7,649.8 193.6,649.3 193.5,648.8 193.3,648.3 193.2,647.8 193.1,647.3 193,646.8 192.8,646.3 192.7,645.8 192.6,645.3 192.4,644.8 192.3,644.2 192.1,643.7 192,643.2 191.8,642.7 191.7,642.2 191.5,641.7 191.4,641.2 191.2,640.7 191.1,640.2 190.9,639.7 190.8,639.2 190.6,638.7 190.5,638.2 190.4,637.7 190.2,637.2 190.1,636.7 189.9,636.2 189.8,635.7 189.7,635.2 189.5,634.7 189.4,634.2 189.3,633.7 189.2,633.2 189,632.7 188.9,632.2 188.8,631.7 188.7,631.2 188.5,630.7 188.4,630.2 188.3,629.7 188.2,629.2 188.1,628.7 188,628.2 187.8,627.7 187.7,627.2 187.6,626.7 187.5,626.2 187.4,625.7 187.3,625.2 187.2,624.6 187.1,624.1 187,623.6 186.9,623.1 186.8,622.6 186.7,622.1 186.5,621.6 186.4,621.1 186.3,620.6 186.2,620.1 186.1,619.6 186,619.1 185.9,618.6 185.7,618.1 185.6,617.6 185.5,617.1 185.4,616.6 185.2,616.1 185.1,615.6 185,615.1 184.8,614.6 184.7,614.1 184.6,613.6 184.4,613.1 184.3,612.6 184.2,612.1 184,611.6 183.9,611.1 183.8,610.6 183.7,610.1 183.6,609.6 183.5,609.1 183.4,608.6 183.3,608.1 183.2,607.6 183.1,607.1 182.9,606.6 182.8,606.1 182.7,605.6 182.6,605 182.5,604.5 182.3,604 182.2,603.5 182,603 181.8,602.5 181.6,602 181.4,601.5 181.1,601 180.8,600.5 180.5,600 180.2,599.5 179.8,599 179.5,598.5 179.2,598 178.9,597.5 178.6,597 178.3,596.5 177.9,596 177.6,595.5Z" fill="#2a7f8e"/>
<path d="M179.1,605.5 178.8,606 178.5,606.5 178.2,607 178,607.5 177.8,608 177.7,608.5 177.6,609 177.4,609.5 177.4,610 177.3,610.5 177.3,611 177.3,611.5 177.3,612 177.4,612.5 177.4,613.1 177.5,613.6 177.5,614.1 177.6,614.6 177.7,615.1 177.7,615.6 177.8,616.1 177.9,616.6 178,617.1 178,617.6 178.1,618.1 178.1,618.6 178.2,619.1 178.2,619.6 178.3,620.1 178.3,620.6 178.3,621.1 178.4,621.6 178.4,622.1 178.4,622.6 178.4,623.1 178.4,623.6 178.5,624.1 178.5,624.6 178.5,625.1 178.6,625.6 178.6,626.1 178.6,626.6 178.7,627.1 178.7,627.6 178.8,628.2 178.8,628.7 178.9,629.2 179,629.7 179.1,630.2 179.2,630.7 179.3,631.2 179.4,631.7 179.5,632.2 179.6,632.7 179.7,633.2 179.8,633.7 179.9,634.2 180,634.7 180.1,635.2 180.2,635.7 180.3,636.2 180.4,636.7 180.4,637.2 180.5,637.7 180.6,638.2 180.7,638.7 180.8,639.2 180.8,639.7 180.9,640.2 181,640.7 181,641.2 181.1,641.7 181.2,642.2 181.3,642.7 181.3,643.3 181.4,643.8 181.5,644.3 181.6,644.8 181.6,645.3 181.7,645.8 181.8,646.3 181.9,646.8 182,647.3 182.1,647.8 182.2,648.3 182.3,648.8 182.4,649.3 182.5,649.8 182.6,650.3 182.7,650.8 182.8,651.3 182.9,651.8 183,652.3 183.1,652.8 183.2,653.3 183.4,653.8 183.5,654.3 183.6,654.8 183.7,655.3 183.9,655.8 184,656.3 184.1,656.8 184.3,657.3 184.4,657.8 184.6,658.4 184.7,658.9 184.8,659.4 185,659.9 185.1,660.4 185.3,660.9 185.5,661.4 185.6,661.9 185.8,662.4 186,662.9 186.1,663.4 186.3,663.9 186.5,664.4 186.7,664.9 186.8,665.4 187,665.9 187.2,666.4 187.5,666.9 187.7,667.4 187.9,667.9 188.1,668.4 188.3,668.9 188.6,669.4 188.8,669.9 189,670.4 189.3,670.9 189.5,671.4 189.7,671.9 190,672.4 190.2,672.9 190.4,673.5 190.6,674 190.9,674.5 191.1,675 191.3,675.5 191.5,676 191.7,676.5 192,677 192.2,677.5 192.4,678 192.6,678.5 192.8,679 193,679.5 193.2,680 193.4,680.5 193.8,680.5 194.1,680 194.3,679.5 194.5,679 194.7,678.5 194.8,678 194.9,677.5 194.9,677 195,676.5 195.1,676 195.1,675.5 195.1,675 195.2,674.5 195.2,674 195.2,673.5 195.2,672.9 195.2,672.4 195.2,671.9 195.2,671.4 195.2,670.9 195.1,670.4 195.1,669.9 195.1,669.4 195.1,668.9 195,668.4 195,667.9 195,667.4 194.9,666.9 194.9,666.4 194.9,665.9 194.8,665.4 194.8,664.9 194.8,664.4 194.7,663.9 194.6,663.4 194.6,662.9 194.5,662.4 194.5,661.9 194.4,661.4 194.3,660.9 194.2,660.4 194.1,659.9 194.1,659.4 194,658.9 193.9,658.4 193.8,657.8 193.7,657.3 193.6,656.8 193.5,656.3 193.5,655.8 193.4,655.3 193.3,654.8 193.2,654.3 193.1,653.8 193,653.3 192.9,652.8 192.8,652.3 192.7,651.8 192.6,651.3 192.5,650.8 192.4,650.3 192.3,649.8 192.2,649.3 192.1,648.8 192,648.3 191.8,647.8 191.7,647.3 191.6,646.8 191.5,646.3 191.3,645.8 191.2,645.3 191.1,644.8 190.9,644.3 190.8,643.8 190.7,643.3 190.5,642.7 190.4,642.2 190.2,641.7 190.1,641.2 189.9,640.7 189.8,640.2 189.7,639.7 189.5,639.2 189.4,638.7 189.2,638.2 189.1,637.7 188.9,637.2 188.8,636.7 188.6,636.2 188.5,635.7 188.4,635.2 188.2,634.7 188.1,634.2 187.9,633.7 187.8,633.2 187.7,632.7 187.5,632.2 187.4,631.7 187.3,631.2 187.1,630.7 187,630.2 186.8,629.7 186.7,629.2 186.5,628.7 186.4,628.2 186.2,627.6 186.1,627.1 185.9,626.6 185.8,626.1 185.6,625.6 185.4,625.1 185.3,624.6 185.1,624.1 184.9,623.6 184.7,623.1 184.6,622.6 184.4,622.1 184.2,621.6 184.1,621.1 183.9,620.6 183.8,620.1 183.6,619.6 183.5,619.1 183.3,618.6 183.2,618.1 183.1,617.6 182.9,617.1 182.8,616.6 182.7,616.1 182.6,615.6 182.4,615.1 182.3,614.6 182.2,614.1 182.1,613.6 182,613.1 181.9,612.5 181.7,612 181.6,611.5 181.5,611 181.4,610.5 181.3,610 181.2,609.5 181.1,609 181,608.5 180.8,608 180.6,607.5 180.4,607 180.1,606.5 179.8,606 179.5,605.5Z" fill="#22a884"/>
<path d="M180.9,615.5 180.9,616 180.6,616.5 180.4,617 180.2,617.5 180,618 179.9,618.5 179.8,619 179.8,619.5 179.7,620 179.7,620.5 179.6,621 179.6,621.6 179.6,622.1 179.5,622.6 179.5,623.1 179.5,623.6 179.5,624.1 179.5,624.6 179.4,625.1 179.4,625.6 179.4,626.1 179.4,626.6 179.4,627.1 179.4,627.6 179.5,628.1 179.7,628.6 180,629.1 180.3,629.6 180.6,630.1 180.9,630.6 181.2,631.1 181.5,631.6 181.6,632.1 181.8,632.7 181.9,633.2 182,633.7 182.1,634.2 182.2,634.7 182.2,635.2 182.3,635.7 182.4,636.2 182.5,636.7 182.5,637.2 182.6,637.7 182.7,638.2 182.8,638.7 182.8,639.2 182.9,639.7 183,640.2 183.1,640.7 183.2,641.2 183.3,641.7 183.4,642.2 183.5,642.7 183.6,643.2 183.7,643.8 183.8,644.3 183.9,644.8 184.1,645.3 184.2,645.8 184.3,646.3 184.4,646.8 184.5,647.3 184.6,647.8 184.7,648.3 184.8,648.8 184.8,649.3 184.9,649.8 185,650.3 185.1,650.8 185.1,651.3 185.2,651.8 185.3,652.3 185.3,652.8 185.4,653.3 185.5,653.8 185.6,654.3 185.7,654.8 185.7,655.4 185.8,655.9 185.9,656.4 186,656.9 186.1,657.4 186.3,657.9 186.4,658.4 186.5,658.9 186.7,659.4 186.8,659.9 187,660.4 187.1,660.9 187.3,661.4 187.5,661.9 187.7,662.4 187.8,662.9 188,663.4 188.2,663.9 188.4,664.4 188.6,664.9 188.8,665.4 189,665.9 189.2,666.5 189.4,667 189.7,667.5 189.9,668 190.2,668.5 190.4,669 190.6,669.5 190.9,670 191.1,670.5 191.3,671 191.6,671.5 191.6,672 191.6,672 191.8,671.5 192.1,671 192.4,670.5 192.7,670 192.9,669.5 193,669 193,668.5 193.1,668 193.1,667.5 193.1,667 193.2,666.5 193.2,665.9 193.2,665.4 193.2,664.9 193.2,664.4 193.2,663.9 193.2,663.4 193.1,662.9 193.1,662.4 193,661.9 193,661.4 192.9,660.9 192.9,660.4 192.8,659.9 192.8,659.4 192.7,658.9 192.6,658.4 192.6,657.9 192.5,657.4 192.4,656.9 192.4,656.4 192.3,655.9 192.2,655.4 192.1,654.8 192,654.3 191.9,653.8 191.7,653.3 191.6,652.8 191.5,652.3 191.4,651.8 191.2,651.3 191.1,650.8 191,650.3 190.9,649.8 190.8,649.3 190.7,648.8 190.6,648.3 190.5,647.8 190.4,647.3 190.3,646.8 190.2,646.3 190.1,645.8 190,645.3 189.9,644.8 189.8,644.3 189.7,643.8 189.6,643.2 189.5,642.7 189.5,642.2 189.4,641.7 189.4,641.2 189.3,640.7 189.3,640.2 189.3,639.7 189.3,639.2 189.3,638.7 189.2,638.2 189.2,637.7 189.2,637.2 189.2,636.7 189.2,636.2 189.2,635.7 189.2,635.2 189.2,634.7 189.2,634.2 189.2,633.7 189.1,633.2 189.1,632.7 189.1,632.1 189,631.6 188.8,631.1 188.5,630.6 188,630.1 187.5,629.6 187,629.1 186.5,628.6 186,628.1 185.7,627.6 185.4,627.1 185.1,626.6 184.9,626.1 184.7,625.6 184.5,625.1 184.3,624.6 184.1,624.1 183.9,623.6 183.7,623.1 183.5,622.6 183.4,622.1 183.2,621.6 183,621 182.8,620.5 182.6,620 182.4,619.5 182.2,619 182,618.5 181.8,618 181.6,617.5 181.4,617 181.1,616.5 180.9,616 180.9,615.5Z" fill="#6ccd5a"/>
<path d="M182.8,623 182.8,623.5 182.8,624 182.9,624.5 182.8,625 182.7,625.5 182.6,626 182.6,626.5 182.5,627 182.5,627.6 182.5,628.1 182.5,628.6 182.6,629.1 182.7,629.6 182.7,630.1 182.8,630.6 182.9,631.1 182.9,631.6 183,632.1 183.1,632.6 183.1,633.1 183.2,633.6 183.3,634.1 183.3,634.6 183.4,635.1 183.4,635.6 183.5,636.1 183.6,636.7 183.6,637.2 183.7,637.7 183.8,638.2 183.8,638.7 183.9,639.2 184,639.7 184.1,640.2 184.2,640.7 184.3,641.2 184.4,641.7 184.5,642.2 184.7,642.7 184.8,643.2 185,643.7 185.1,644.2 185.3,644.7 185.4,645.2 185.6,645.8 185.7,646.3 185.9,646.8 186,647.3 186.1,647.8 186.2,648.3 186.4,648.8 186.5,649.3 186.6,649.8 186.7,650.3 186.8,650.8 186.9,651.3 187,651.8 187,652.3 187.1,652.8 187.2,653.3 187.3,653.8 187.4,654.3 187.5,654.9 187.6,655.4 187.7,655.9 187.8,656.4 187.9,656.9 188.1,657.4 188.2,657.9 188.3,658.4 188.4,658.9 188.6,659.4 188.7,659.9 188.9,660.4 189,660.9 189.2,661.4 189.3,661.9 189.5,662.4 189.6,662.9 189.8,663.4 189.9,664 190.1,664.5 190.3,665 190.5,665.5 190.7,666 190.9,666.5 191,667 191,667.5 191,668 191,668 191,667.5 191,667 191.1,666.5 191.2,666 191.3,665.5 191.3,665 191.3,664.5 191.2,664 191.2,663.4 191.1,662.9 191,662.4 190.9,661.9 190.8,661.4 190.6,660.9 190.5,660.4 190.4,659.9 190.2,659.4 190.1,658.9 190,658.4 189.9,657.9 189.8,657.4 189.7,656.9 189.7,656.4 189.6,655.9 189.6,655.4 189.5,654.9 189.5,654.3 189.5,653.8 189.4,653.3 189.4,652.8 189.4,652.3 189.3,651.8 189.3,651.3 189.3,650.8 189.3,650.3 189.2,649.8 189.2,649.3 189.1,648.8 189.1,648.3 189,647.8 189,647.3 188.9,646.8 188.8,646.3 188.7,645.8 188.6,645.2 188.5,644.7 188.4,644.2 188.3,643.7 188.3,643.2 188.2,642.7 188.1,642.2 188,641.7 187.9,641.2 187.9,640.7 187.8,640.2 187.7,639.7 187.7,639.2 187.7,638.7 187.6,638.2 187.6,637.7 187.6,637.2 187.5,636.7 187.5,636.1 187.5,635.6 187.4,635.1 187.4,634.6 187.4,634.1 187.3,633.6 187.3,633.1 187.2,632.6 187.1,632.1 187,631.6 186.8,631.1 186.5,630.6 186.2,630.1 185.8,629.6 185.4,629.1 185,628.6 184.6,628.1 184.3,627.6 184.1,627 183.8,626.5 183.5,626 183.3,625.5 183,625 182.9,624.5 182.8,624 182.8,623.5 182.8,623Z" fill="#b8de29"/>
<path d="M183,625.5 183,626 182.9,626.5 182.9,627 182.8,627.5 182.8,628 182.8,628.6 182.9,629.1 183,629.6 183.1,630.1 183.3,630.6 183.4,631.1 183.5,631.6 183.6,632.1 183.7,632.6 183.7,633.1 183.8,633.6 183.9,634.1 183.9,634.7 184,635.2 184,635.7 184,636.2 184.1,636.7 184.1,637.2 184.2,637.7 184.2,638.2 184.3,638.7 184.4,639.2 184.4,639.7 184.5,640.3 184.6,640.8 184.7,641.3 184.8,641.8 185,642.3 185.1,642.8 185.2,643.3 185.4,643.8 185.6,644.3 185.7,644.8 185.9,645.3 186.1,645.9 186.3,646.4 186.4,646.9 186.6,647.4 186.8,647.9 187,648.4 187.1,648.9 187.3,649.4 187.5,649.9 187.6,650.4 187.8,650.9 188,651.4 188.2,652 188.4,652.5 188.5,653 188.5,653.5 188.5,654 188.5,654.5 188.5,654.5 188.5,654 188.5,653.5 188.5,653 188.5,652.5 188.6,652 188.6,651.4 188.6,650.9 188.7,650.4 188.7,649.9 188.7,649.4 188.7,648.9 188.7,648.4 188.7,647.9 188.7,647.4 188.6,646.9 188.5,646.4 188.5,645.9 188.4,645.3 188.3,644.8 188.2,644.3 188.1,643.8 188,643.3 187.8,642.8 187.7,642.3 187.6,641.8 187.6,641.3 187.5,640.8 187.4,640.3 187.3,639.7 187.3,639.2 187.3,638.7 187.2,638.2 187.2,637.7 187.1,637.2 187.1,636.7 187.1,636.2 187,635.7 187,635.2 187,634.7 186.9,634.1 186.9,633.6 186.8,633.1 186.7,632.6 186.6,632.1 186.5,631.6 186.2,631.1 185.8,630.6 185.3,630.1 184.8,629.6 184.3,629.1 183.9,628.6 183.5,628 183.3,627.5 183,627 182.9,626.5 183,626 183,625.5Z" fill="#ece51f"/>
</g>
<circle cx="186" cy="656.9" r="1.6" fill="#ff0000"/>
<rect x="135.1" y="544.1" width="77.8" height="146.8" fill="none" stroke="#000" stroke-width="1"/>
<line x1="132.1" y1="676.05" x2="135.1" y2="676.05" stroke="#000" stroke-width="1" />
<line x1="132.1" y1="657.2" x2="135.1" y2="657.2" stroke="#000" stroke-width="1" />
<line x1="132.1" y1="638.35" x2="135.1" y2="638.35" stroke="#000" stroke-width="1" />
<line x1="132.1" y1="619.5" x2="135.1" y2="619.5" stroke="#000" stroke-width="1" />
<line x1="132.1" y1="600.65" x2="135.1" y2="600.65" stroke="#000" stroke-width="1" />
<line x1="132.1" y1="581.8" x2="135.1" y2="581.8" stroke="#000" stroke-width="1" />
<line x1="132.1" y1="562.95" x2="135.1" y2="562.95" stroke="#000" stroke-width="1" />
<line x1="132.1" y1="544.1" x2="135.1" y2="544.1" stroke="#000" stroke-width="1" />
<line x1="159.24" y1="690.9" x2="159.24" y2="693.4" stroke="#000" stroke-width="1" />
<line x1="186.07" y1="690.9" x2="186.07" y2="693.4" stroke="#000" stroke-width="1" />
<line x1="212.9" y1="690.9" x2="212.9" y2="693.4" stroke="#000" stroke-width="1" />
<text x="156.64" y="706.4" font-size="11" font-weight="400" text-anchor="middle" fill="#000" >0.1</text>
<text x="183.47" y="706.4" font-size="11" font-weight="400" text-anchor="middle" fill="#000" >0.2</text>
<text x="210.3" y="706.4" font-size="11" font-weight="400" text-anchor="middle" fill="#000" >0.3</text>
<text x="137.1" y="706.4" font-size="11" font-weight="400" text-anchor="middle" fill="#000" >0</text>
<text x="173.4" y="725.8" font-size="11.6" font-weight="400" text-anchor="middle" fill="#000" >SAR</text>
<text transform="translate(125.9,604) rotate(-90)" font-size="11" text-anchor="middle" fill="#000" xml:space="preserve">p<tspan font-size="7" dy="3.6">80</tspan></text>
<clipPath id="va1"><rect x="266.5" y="48.3" width="100.5" height="151"/></clipPath>
<g clip-path="url(#va1)">
<path d="M282.9,38.9 282.9,39.5 282.9,40.1 282.9,40.7 282.9,41.3 282.9,41.9 282.9,42.5 282.9,43.1 282.9,43.7 282.9,44.3 282.9,44.9 282.9,45.5 282.9,46.1 282.9,46.7 282.9,47.3 282.9,47.9 282.9,48.5 282.9,49.1 282.9,49.7 282.9,50.3 282.9,50.9 282.9,51.5 282.9,52.1 282.9,52.8 282.9,53.4 282.9,54 282.9,54.6 282.9,55.2 282.9,55.8 282.9,56.4 282.9,57 282.9,57.6 282.9,58.2 282.9,58.8 282.9,59.4 282.9,60 282.9,60.6 282.9,61.2 282.9,61.8 282.9,62.4 282.9,63 282.9,63.6 282.9,64.2 282.9,64.8 282.9,65.4 282.9,66 282.9,66.6 282.9,67.2 282.9,67.8 282.9,68.5 282.9,69.1 282.9,69.7 282.9,70.3 282.9,70.9 282.9,71.5 282.9,72.1 282.9,72.7 282.9,73.3 282.9,73.9 282.9,74.5 282.9,75.1 282.9,75.7 282.9,76.3 282.9,76.9 282.9,77.5 282.9,78.1 282.9,78.7 282.9,79.3 282.9,79.9 282.9,80.5 282.9,81.1 282.9,81.7 282.9,82.3 282.9,82.9 282.9,83.5 282.9,84.2 282.9,84.8 282.9,85.4 282.9,86 282.9,86.1 282.9,86.6 282.9,87.2 282.9,87.8 282.9,88.4 282.9,89 282.9,89.6 282.9,90.2 282.9,90.8 282.9,91.4 282.9,92 282.9,92.6 282.9,93.2 282.9,93.8 282.8,94.4 282.8,95 282.8,95.6 282.8,96.2 282.8,96.8 282.8,97.4 282.8,98 282.8,98.6 282.8,99.2 282.8,99.9 282.8,100.5 282.8,101.1 282.7,101.7 282.7,102.3 282.7,102.9 282.7,103.5 282.7,104.1 282.7,104.7 282.7,105.3 282.7,105.9 282.7,106.5 282.6,107.1 282.6,107.7 282.6,108.3 282.6,108.9 282.6,109.5 282.6,110.1 282.6,110.7 282.6,111.3 282.5,111.9 282.5,112.5 282.5,113.1 282.5,113.7 282.5,114.3 282.5,114.9 282.5,115.6 282.4,116.2 282.4,116.8 282.4,117.4 282.4,118 282.4,118.6 282.4,119.2 282.4,119.8 282.4,120 282.3,120.4 282.3,121 282.3,121.6 282.3,122.2 282.3,122.8 282.3,123.4 282.2,124 282.2,124.6 282.2,125.2 282.2,125.8 282.1,126.4 282.1,127 282.1,127.6 282.1,128.2 282,128.8 282,129.4 282,130 282,130.6 281.9,131.3 281.9,131.9 281.9,132.5 281.9,133.1 281.8,133.7 281.8,134.3 281.8,134.9 281.7,135.5 281.7,136.1 281.7,136.7 281.7,137.3 281.6,137.6 281.6,137.9 281.6,138.5 281.6,139.1 281.6,139.7 281.5,140.3 281.5,140.9 281.5,141.5 281.4,142.1 281.4,142.7 281.4,143.3 281.3,143.9 281.3,144.5 281.3,145.1 281.2,145.7 281.2,146.3 281.2,147 281.1,147.6 281.1,148.2 281.1,148.8 281,149.4 281,150 281,150.6 280.9,151.2 280.9,151.8 280.9,152.4 280.9,153 280.8,153.6 280.8,154.2 280.8,154.8 280.8,154.9 280.7,155.4 280.7,156 280.7,156.6 280.6,157.2 280.6,157.8 280.6,158.4 280.5,159 280.5,159.6 280.5,160.2 280.4,160.8 280.4,161.4 280.4,162 280.4,162.7 280.3,163.3 280.3,163.9 280.3,164.5 280.2,165.1 280.2,165.7 280.2,166.3 280.1,166.6 280.1,166.9 280.1,167.5 280.1,168.1 280.1,168.7 280,169.3 280,169.9 280,170.5 280,171.1 279.9,171.7 279.9,172.3 279.9,172.9 279.8,173.5 279.8,174.1 279.8,174.7 279.7,175.3 279.7,175.9 279.7,176.5 279.6,176.7 279.6,177.1 279.6,177.7 279.5,178.4 279.4,179 279.4,179.6 279.3,180.2 279.2,180.8 279.2,181.4 279.1,182 279,182.6 278.9,183.2 278.8,183.8 278.6,184.4 278.5,185 278.4,185.3 278.4,185.6 278.2,186.2 278,186.8 277.7,187.4 277.4,188 277.2,188.6 276.9,189.2 276.7,189.8 276.6,189.9 276.4,190.4 276.2,191 275.9,191.6 275.7,192.2 275.5,192.8 275.4,193.4 275.5,193.4 275.5,194.1 275.5,194.7 275.5,195.3 275.6,195.9 275.6,196.5 290.9,196.5 290.9,195.9 291,195.3 291,194.7 291,194.1 291,193.4 291.1,193.4 291,192.8 290.8,192.2 290.6,191.6 290.3,191 290.1,190.4 289.9,189.9 289.8,189.8 289.6,189.2 289.3,188.6 289.1,188 288.8,187.4 288.5,186.8 288.3,186.2 288.1,185.6 288.1,185.3 288,185 287.9,184.4 287.7,183.8 287.6,183.2 287.5,182.6 287.4,182 287.3,181.4 287.3,180.8 287.2,180.2 287.1,179.6 287.1,179 287,178.4 286.9,177.7 286.9,177.1 286.9,176.7 286.8,176.5 286.8,175.9 286.8,175.3 286.7,174.7 286.7,174.1 286.7,173.5 286.6,172.9 286.6,172.3 286.6,171.7 286.5,171.1 286.5,170.5 286.5,169.9 286.5,169.3 286.4,168.7 286.4,168.1 286.4,167.5 286.4,166.9 286.4,166.6 286.3,166.3 286.3,165.7 286.3,165.1 286.2,164.5 286.2,163.9 286.2,163.3 286.1,162.7 286.1,162 286.1,161.4 286.1,160.8 286,160.2 286,159.6 286,159 285.9,158.4 285.9,157.8 285.9,157.2 285.8,156.6 285.8,156 285.8,155.4 285.8,154.9 285.7,154.8 285.7,154.2 285.7,153.6 285.6,153 285.6,152.4 285.6,151.8 285.6,151.2 285.5,150.6 285.5,150 285.5,149.4 285.4,148.8 285.4,148.2 285.4,147.6 285.3,147 285.3,146.3 285.3,145.7 285.2,145.1 285.2,144.5 285.2,143.9 285.1,143.3 285.1,142.7 285.1,142.1 285,141.5 285,140.9 285,140.3 284.9,139.7 284.9,139.1 284.9,138.5 284.9,137.9 284.9,137.6 284.8,137.3 284.8,136.7 284.8,136.1 284.8,135.5 284.7,134.9 284.7,134.3 284.7,133.7 284.6,133.1 284.6,132.5 284.6,131.9 284.6,131.3 284.5,130.6 284.5,130 284.5,129.4 284.5,128.8 284.4,128.2 284.4,127.6 284.4,127 284.4,126.4 284.3,125.8 284.3,125.2 284.3,124.6 284.3,124 284.2,123.4 284.2,122.8 284.2,122.2 284.2,121.6 284.2,121 284.2,120.4 284.1,120 284.1,119.8 284.1,119.2 284.1,118.6 284.1,118 284.1,117.4 284.1,116.8 284.1,116.2 284,115.6 284,114.9 284,114.3 284,113.7 284,113.1 284,112.5 284,111.9 283.9,111.3 283.9,110.7 283.9,110.1 283.9,109.5 283.9,108.9 283.9,108.3 283.9,107.7 283.9,107.1 283.8,106.5 283.8,105.9 283.8,105.3 283.8,104.7 283.8,104.1 283.8,103.5 283.8,102.9 283.8,102.3 283.8,101.7 283.7,101.1 283.7,100.5 283.7,99.9 283.7,99.2 283.7,98.6 283.7,98 283.7,97.4 283.7,96.8 283.7,96.2 283.7,95.6 283.7,95 283.7,94.4 283.6,93.8 283.6,93.2 283.6,92.6 283.6,92 283.6,91.4 283.6,90.8 283.6,90.2 283.6,89.6 283.6,89 283.6,88.4 283.6,87.8 283.6,87.2 283.6,86.6 283.6,86.1 283.6,86 283.6,85.4 283.6,84.8 283.6,84.2 283.6,83.5 283.6,82.9 283.6,82.3 283.6,81.7 283.6,81.1 283.6,80.5 283.6,79.9 283.6,79.3 283.6,78.7 283.6,78.1 283.6,77.5 283.6,76.9 283.6,76.3 283.6,75.7 283.6,75.1 283.6,74.5 283.6,73.9 283.6,73.3 283.6,72.7 283.6,72.1 283.6,71.5 283.6,70.9 283.6,70.3 283.6,69.7 283.6,69.1 283.6,68.5 283.6,67.8 283.6,67.2 283.6,66.6 283.6,66 283.6,65.4 283.6,64.8 283.6,64.2 283.6,63.6 283.6,63 283.6,62.4 283.6,61.8 283.6,61.2 283.6,60.6 283.6,60 283.6,59.4 283.6,58.8 283.6,58.2 283.6,57.6 283.6,57 283.6,56.4 283.6,55.8 283.6,55.2 283.6,54.6 283.6,54 283.6,53.4 283.6,52.8 283.6,52.1 283.6,51.5 283.6,50.9 283.6,50.3 283.6,49.7 283.6,49.1 283.6,48.5 283.6,47.9 283.6,47.3 283.6,46.7 283.6,46.1 283.6,45.5 283.6,44.9 283.6,44.3 283.6,43.7 283.6,43.1 283.6,42.5 283.6,41.9 283.6,41.3 283.6,40.7 283.6,40.1 283.6,39.5 283.6,38.9Z" fill="#e1822c" stroke="#515151" stroke-width="1.5" stroke-linejoin="round"/>
<line x1="283.25" y1="196.47" x2="283.25" y2="99.26" stroke="#515151" stroke-width="1.35" />
<line x1="283.25" y1="192.32" x2="283.25" y2="154.94" stroke="#515151" stroke-width="4.0" />
<circle cx="283.25" cy="173.25" r="0.8" fill="#b4b4b4"/>
<path d="M316.6,127.6 316.6,128.2 316.6,128.8 316.5,129.4 316.5,130 316.4,130.6 316.4,131.2 316.3,131.8 316.2,132.4 316.2,133 316.1,133.6 316,134.2 316,134.9 315.9,135.1 315.9,135.5 315.8,136.1 315.8,136.7 315.7,137.3 315.6,137.9 315.5,138.5 315.4,139.1 315.3,139.7 315.2,140.3 315.1,140.9 315.1,141.2 315,141.5 314.8,142.1 314.6,142.7 314.5,143.3 314.2,144 314,144.6 313.8,145.2 313.5,145.8 313.3,146.4 313,147 312.7,147.6 312.4,148.2 312.1,148.8 311.8,149.4 311.6,150 311.3,150.6 311,151.2 310.7,151.8 310.5,152.4 310.2,153.1 310,153.7 309.8,154.3 309.6,154.9 309.6,154.9 309.4,155.5 309.2,156.1 309,156.7 308.7,157.3 308.5,157.9 308.3,158.5 308.1,159.1 307.9,159.7 307.8,160.3 307.6,160.9 307.5,161.6 307.4,162.2 307.4,162.8 307.4,163.2 307.4,163.4 307.4,164 307.4,164.6 307.5,165.2 307.5,165.8 307.6,166.4 307.7,167 307.8,167.6 307.9,168.2 308,168.8 308.2,169.4 308.3,170 308.4,170.7 308.5,171.3 308.6,171.4 308.7,171.9 308.8,172.5 309,173.1 309.2,173.7 309.4,174.3 309.6,174.9 309.8,175.5 310.1,176.1 310.3,176.7 310.5,177.3 310.8,177.9 311,178.5 311.2,179.1 311.5,179.8 311.7,180.4 311.9,181 312.1,181.6 312.2,182.2 312.2,182.3 312.4,182.8 312.5,183.4 312.7,184 312.8,184.6 312.9,185.2 313,185.8 313.2,186.4 313.3,187 313.4,187.6 313.5,188.2 313.6,188.9 313.6,189.3 313.7,189.5 313.8,190.1 313.8,190.7 313.9,191.3 314,191.9 314.1,192.5 314.1,193.1 314.2,193.7 314.3,194.3 314.3,194.9 314.4,195.5 319.1,195.5 319.2,194.9 319.2,194.3 319.3,193.7 319.4,193.1 319.4,192.5 319.5,191.9 319.6,191.3 319.7,190.7 319.7,190.1 319.8,189.5 319.9,189.3 319.9,188.9 320,188.2 320.1,187.6 320.2,187 320.3,186.4 320.5,185.8 320.6,185.2 320.7,184.6 320.8,184 321,183.4 321.1,182.8 321.2,182.3 321.3,182.2 321.4,181.6 321.6,181 321.8,180.4 322,179.8 322.3,179.1 322.5,178.5 322.7,177.9 323,177.3 323.2,176.7 323.4,176.1 323.7,175.5 323.9,174.9 324.1,174.3 324.3,173.7 324.5,173.1 324.7,172.5 324.8,171.9 324.9,171.4 325,171.3 325.1,170.7 325.2,170 325.3,169.4 325.5,168.8 325.6,168.2 325.7,167.6 325.8,167 325.9,166.4 326,165.8 326,165.2 326.1,164.6 326.1,164 326.1,163.4 326.1,163.2 326.1,162.8 326.1,162.2 326,161.6 325.9,160.9 325.7,160.3 325.6,159.7 325.4,159.1 325.2,158.5 325,157.9 324.8,157.3 324.5,156.7 324.3,156.1 324.1,155.5 323.9,154.9 323.9,154.9 323.7,154.3 323.5,153.7 323.3,153.1 323,152.4 322.8,151.8 322.5,151.2 322.2,150.6 321.9,150 321.7,149.4 321.4,148.8 321.1,148.2 320.8,147.6 320.5,147 320.2,146.4 320,145.8 319.7,145.2 319.5,144.6 319.3,144 319,143.3 318.9,142.7 318.7,142.1 318.5,141.5 318.4,141.2 318.4,140.9 318.3,140.3 318.2,139.7 318.1,139.1 318,138.5 317.9,137.9 317.8,137.3 317.7,136.7 317.7,136.1 317.6,135.5 317.6,135.1 317.5,134.9 317.5,134.2 317.4,133.6 317.3,133 317.3,132.4 317.2,131.8 317.1,131.2 317.1,130.6 317,130 317,129.4 316.9,128.8 316.9,128.2 316.9,127.6Z" fill="#e1822c" stroke="#515151" stroke-width="1.5" stroke-linejoin="round"/>
<line x1="316.75" y1="195.53" x2="316.75" y2="131.35" stroke="#515151" stroke-width="1.35" />
<line x1="316.75" y1="176.84" x2="316.75" y2="158.34" stroke="#515151" stroke-width="4.0" />
<circle cx="316.75" cy="165.14" r="0.8" fill="#b4b4b4"/>
<path d="M350.1,139.1 350,139.7 349.8,140.3 349.7,140.9 349.5,141.5 349.3,142.1 349.1,142.7 348.9,143.3 348.8,143.6 348.6,143.9 348.4,144.6 348.1,145.2 347.9,145.8 347.6,146.4 347.3,147 347,147.6 346.9,148 346.7,148.2 346.4,148.8 346.1,149.4 345.7,150 345.3,150.6 344.9,151.2 344.5,151.8 344.1,152.4 343.7,153 343.3,153.7 342.9,154.3 342.5,154.9 342.1,155.5 341.7,156.1 341.3,156.7 340.9,157.3 340.6,157.8 340.6,157.9 340.2,158.5 339.8,159.1 339.3,159.7 338.9,160.3 338.5,160.9 338.2,161.5 338,162.1 337.8,162.8 337.8,163.2 337.8,163.4 337.8,164 337.9,164.6 338,165.2 338.2,165.8 338.3,166.4 338.5,167 338.8,167.6 339,168.2 339.1,168.7 339.2,168.8 339.4,169.4 339.7,170 340,170.6 340.3,171.3 340.7,171.9 341.1,172.5 341.4,173.1 341.8,173.7 342.2,174.3 342.6,174.9 343,175.5 343.3,176.1 343.7,176.7 343.8,176.8 344,177.3 344.3,177.9 344.7,178.5 345,179.1 345.4,179.7 345.7,180.4 346.1,181 346.4,181.6 346.7,182.2 347,182.8 347.3,183.4 347.5,184 347.7,184.6 347.9,185.1 347.9,185.2 348,185.8 348.2,186.4 348.3,187 348.4,187.6 348.6,188.2 348.7,188.8 348.8,189.5 348.9,190.1 349,190.7 349.1,191.3 349.2,191.9 349.3,192.5 349.3,193.1 349.4,193.7 349.4,194.3 349.4,194.9 349.4,195.5 351.1,195.5 351.1,194.9 351.1,194.3 351.1,193.7 351.2,193.1 351.2,192.5 351.3,191.9 351.4,191.3 351.5,190.7 351.6,190.1 351.7,189.5 351.8,188.8 351.9,188.2 352.1,187.6 352.2,187 352.3,186.4 352.5,185.8 352.6,185.2 352.6,185.1 352.8,184.6 353,184 353.2,183.4 353.5,182.8 353.8,182.2 354.1,181.6 354.4,181 354.8,180.4 355.1,179.7 355.5,179.1 355.8,178.5 356.2,177.9 356.5,177.3 356.8,176.8 356.8,176.7 357.2,176.1 357.5,175.5 357.9,174.9 358.3,174.3 358.7,173.7 359.1,173.1 359.4,172.5 359.8,171.9 360.2,171.3 360.5,170.6 360.8,170 361.1,169.4 361.3,168.8 361.4,168.7 361.5,168.2 361.7,167.6 362,167 362.2,166.4 362.3,165.8 362.5,165.2 362.6,164.6 362.7,164 362.7,163.4 362.8,163.2 362.7,162.8 362.5,162.1 362.3,161.5 362,160.9 361.6,160.3 361.2,159.7 360.7,159.1 360.3,158.5 359.9,157.9 359.9,157.8 359.6,157.3 359.2,156.7 358.8,156.1 358.4,155.5 358,154.9 357.6,154.3 357.2,153.7 356.8,153 356.4,152.4 356,151.8 355.6,151.2 355.2,150.6 354.8,150 354.4,149.4 354.1,148.8 353.8,148.2 353.6,148 353.5,147.6 353.2,147 352.9,146.4 352.6,145.8 352.4,145.2 352.1,144.6 351.9,143.9 351.8,143.6 351.6,143.3 351.4,142.7 351.2,142.1 351,141.5 350.8,140.9 350.7,140.3 350.5,139.7 350.4,139.1Z" fill="#e1822c" stroke="#515151" stroke-width="1.5" stroke-linejoin="round"/>
<line x1="350.25" y1="193.64" x2="350.25" y2="140.79" stroke="#515151" stroke-width="1.35" />
<line x1="350.25" y1="172.88" x2="350.25" y2="158.34" stroke="#515151" stroke-width="4.0" />
<circle cx="350.25" cy="165.14" r="0.8" fill="#b4b4b4"/>
<line x1="266.5" y1="161.55" x2="367" y2="161.55" stroke="#ffdab9" stroke-width="2" />
</g>
<rect x="266.5" y="48.3" width="100.5" height="151" fill="none" stroke="#3a3a3a" stroke-width="1"/>
<line x1="263.5" y1="199.3" x2="266.5" y2="199.3" stroke="#1a1a1a" stroke-width="1" />
<line x1="263.5" y1="180.43" x2="266.5" y2="180.43" stroke="#1a1a1a" stroke-width="1" />
<line x1="263.5" y1="161.55" x2="266.5" y2="161.55" stroke="#1a1a1a" stroke-width="1" />
<line x1="263.5" y1="142.68" x2="266.5" y2="142.68" stroke="#1a1a1a" stroke-width="1" />
<line x1="263.5" y1="123.8" x2="266.5" y2="123.8" stroke="#1a1a1a" stroke-width="1" />
<line x1="263.5" y1="104.93" x2="266.5" y2="104.93" stroke="#1a1a1a" stroke-width="1" />
<line x1="263.5" y1="86.05" x2="266.5" y2="86.05" stroke="#1a1a1a" stroke-width="1" />
<line x1="263.5" y1="67.18" x2="266.5" y2="67.18" stroke="#1a1a1a" stroke-width="1" />
<line x1="263.5" y1="48.3" x2="266.5" y2="48.3" stroke="#1a1a1a" stroke-width="1" />
<line x1="283.25" y1="199.3" x2="283.25" y2="201.9" stroke="#1a1a1a" stroke-width="1" />
<line x1="316.75" y1="199.3" x2="316.75" y2="201.9" stroke="#1a1a1a" stroke-width="1" />
<line x1="350.25" y1="199.3" x2="350.25" y2="201.9" stroke="#1a1a1a" stroke-width="1" />
<text x="259.7" y="201.7" font-size="11" font-weight="400" text-anchor="end" fill="#000" >0.0</text>
<text x="259.7" y="164.6" font-size="11" font-weight="400" text-anchor="end" fill="#000" >0.2</text>
<text x="259.7" y="133.5" font-size="11" font-weight="400" text-anchor="end" fill="#000" >0.4</text>
<text x="259.7" y="88.6" font-size="11" font-weight="400" text-anchor="end" fill="#000" >0.6</text>
<text x="259.7" y="51" font-size="11" font-weight="400" text-anchor="end" fill="#000" >0.8</text>
<text x="284.25" y="213.8" font-size="11" font-weight="400" text-anchor="middle" fill="#000" >1000</text>
<text x="317.75" y="213.8" font-size="11" font-weight="400" text-anchor="middle" fill="#000" >5000</text>
<text x="351.25" y="213.8" font-size="11" font-weight="400" text-anchor="middle" fill="#000" >10000</text>
<clipPath id="va2"><rect x="395.5" y="48.3" width="100.3" height="151"/></clipPath>
<g clip-path="url(#va2)">
<path d="M403.4,50.4 403.5,51 403.7,51.6 403.9,52.2 404.1,52.8 404.2,53 404.4,53.4 404.7,54 405.1,54.6 405.5,55.2 405.9,55.8 405.9,55.9 406.3,56.4 406.7,57 407.1,57.6 407.5,58.2 407.7,58.7 407.8,58.8 408.1,59.4 408.4,60 408.7,60.7 408.9,61.3 409,61.5 409.1,61.9 409.3,62.5 409.5,63.1 409.6,63.7 409.7,64.3 409.7,64.3 409.8,64.9 409.9,65.5 409.9,66.1 410,66.7 410,67.2 410,67.3 410,67.9 410.1,68.5 410.1,69.1 410.1,69.7 410.1,70.3 410.1,70.9 410.1,71.5 410.2,72.1 410.2,72.7 410.2,73.3 410.2,73.9 410.2,74.6 410.2,75.2 410.2,75.8 410.2,76.4 410.2,76.6 410.2,77 410.2,77.6 410.2,78.2 410.2,78.8 410.3,79.4 410.3,80 410.3,80.6 410.3,81.2 410.3,81.8 410.3,82.4 410.3,83 410.3,83.6 410.3,84.2 410.3,84.8 410.3,85.4 410.3,86 410.3,86.6 410.3,87.2 410.3,87.8 410.3,88.5 410.3,89.1 410.4,89.7 410.4,90.3 410.4,90.9 410.4,91.5 410.4,92.1 410.4,92.7 410.4,93.3 410.4,93.9 410.4,94.5 410.4,95.1 410.4,95.5 410.4,95.7 410.4,96.3 410.4,96.9 410.4,97.5 410.5,98.1 410.5,98.7 410.5,99.3 410.5,99.9 410.5,100.5 410.5,101.1 410.5,101.7 410.5,102.4 410.5,103 410.5,103.6 410.5,104.2 410.6,104.8 410.6,105.4 410.6,106 410.6,106.6 410.6,107.2 410.6,107.8 410.6,108.4 410.6,109 410.6,109.6 410.6,110.2 410.7,110.8 410.7,111.4 410.7,112 410.7,112.6 410.7,113.2 410.7,113.8 410.7,114.4 410.7,114.4 410.7,115 410.7,115.6 410.7,116.3 410.8,116.9 410.8,117.5 410.8,118.1 410.8,118.7 410.8,119.3 410.8,119.9 410.8,120.5 410.8,121.1 410.8,121.7 410.8,122.3 410.8,122.9 410.9,123.5 410.9,124.1 410.9,124.7 410.9,125.3 410.9,125.9 410.9,126.5 410.9,127.1 410.9,127.7 410.9,128.3 410.9,128.9 411,129.5 411,130.2 411,130.8 411,131.4 411,132 411,132.6 411,133.2 411,133.2 411,133.8 411,134.4 411,135 411.1,135.6 411.1,136.2 411.1,136.8 411.1,137.4 411.1,138 411.1,138.6 411.1,139.2 411.1,139.8 411.2,140.4 411.2,141 411.2,141.6 411.2,142.2 411.2,142.8 411.2,143.4 411.2,144.1 411.3,144.7 411.3,145.3 411.3,145.9 411.3,146.5 411.3,147.1 411.3,147.7 411.3,148.3 411.3,148.9 411.4,149.5 411.4,150.1 411.4,150.7 411.4,151.3 411.4,151.9 411.4,152.1 411.4,152.5 411.4,153.1 411.5,153.7 411.5,154.3 411.5,154.9 411.5,155.5 411.5,156.1 411.5,156.7 411.5,157.4 411.5,158 411.5,158.6 411.6,159.2 411.6,159.8 411.6,160.4 411.6,161 411.6,161.6 411.6,162.2 411.6,162.8 411.7,163.4 411.7,164 411.7,164.6 411.7,165.2 411.7,165.3 411.7,165.8 411.8,166.4 411.8,167 411.8,167.6 411.8,168.2 411.9,168.8 411.9,169.4 411.9,170 412,170.6 412,171.3 412,171.9 412.1,172.5 412.1,173.1 412.3,173.1 412.4,172.5 412.4,171.9 412.4,171.3 412.5,170.6 412.5,170 412.5,169.4 412.6,168.8 412.6,168.2 412.6,167.6 412.7,167 412.7,166.4 412.7,165.8 412.7,165.3 412.7,165.2 412.7,164.6 412.8,164 412.8,163.4 412.8,162.8 412.8,162.2 412.8,161.6 412.8,161 412.8,160.4 412.9,159.8 412.9,159.2 412.9,158.6 412.9,158 412.9,157.4 412.9,156.7 412.9,156.1 412.9,155.5 413,154.9 413,154.3 413,153.7 413,153.1 413,152.5 413,152.1 413,151.9 413,151.3 413,150.7 413.1,150.1 413.1,149.5 413.1,148.9 413.1,148.3 413.1,147.7 413.1,147.1 413.1,146.5 413.2,145.9 413.2,145.3 413.2,144.7 413.2,144.1 413.2,143.4 413.2,142.8 413.2,142.2 413.2,141.6 413.3,141 413.3,140.4 413.3,139.8 413.3,139.2 413.3,138.6 413.3,138 413.3,137.4 413.3,136.8 413.4,136.2 413.4,135.6 413.4,135 413.4,134.4 413.4,133.8 413.4,133.2 413.4,133.2 413.4,132.6 413.4,132 413.4,131.4 413.5,130.8 413.5,130.2 413.5,129.5 413.5,128.9 413.5,128.3 413.5,127.7 413.5,127.1 413.5,126.5 413.5,125.9 413.5,125.3 413.6,124.7 413.6,124.1 413.6,123.5 413.6,122.9 413.6,122.3 413.6,121.7 413.6,121.1 413.6,120.5 413.6,119.9 413.6,119.3 413.6,118.7 413.7,118.1 413.7,117.5 413.7,116.9 413.7,116.3 413.7,115.6 413.7,115 413.7,114.4 413.7,114.4 413.7,113.8 413.7,113.2 413.7,112.6 413.8,112 413.8,111.4 413.8,110.8 413.8,110.2 413.8,109.6 413.8,109 413.8,108.4 413.8,107.8 413.8,107.2 413.8,106.6 413.9,106 413.9,105.4 413.9,104.8 413.9,104.2 413.9,103.6 413.9,103 413.9,102.4 413.9,101.7 413.9,101.1 413.9,100.5 414,99.9 414,99.3 414,98.7 414,98.1 414,97.5 414,96.9 414,96.3 414,95.7 414,95.5 414,95.1 414,94.5 414,93.9 414,93.3 414,92.7 414.1,92.1 414.1,91.5 414.1,90.9 414.1,90.3 414.1,89.7 414.1,89.1 414.1,88.5 414.1,87.8 414.1,87.2 414.1,86.6 414.1,86 414.1,85.4 414.1,84.8 414.1,84.2 414.1,83.6 414.1,83 414.1,82.4 414.2,81.8 414.2,81.2 414.2,80.6 414.2,80 414.2,79.4 414.2,78.8 414.2,78.2 414.2,77.6 414.2,77 414.2,76.6 414.2,76.4 414.2,75.8 414.2,75.2 414.2,74.6 414.3,73.9 414.3,73.3 414.3,72.7 414.3,72.1 414.3,71.5 414.3,70.9 414.3,70.3 414.3,69.7 414.4,69.1 414.4,68.5 414.4,67.9 414.4,67.3 414.4,67.2 414.4,66.7 414.5,66.1 414.6,65.5 414.6,64.9 414.7,64.3 414.7,64.3 414.8,63.7 415,63.1 415.1,62.5 415.3,61.9 415.4,61.5 415.5,61.3 415.7,60.7 416,60 416.3,59.4 416.6,58.8 416.7,58.7 417,58.2 417.3,57.6 417.7,57 418.2,56.4 418.5,55.9 418.5,55.8 418.9,55.2 419.3,54.6 419.7,54 420,53.4 420.2,53 420.3,52.8 420.5,52.2 420.7,51.6 420.9,51 421,50.4Z" fill="#3b913b" stroke="#3d3d3d" stroke-width="1.5" stroke-linejoin="round"/>
<line x1="412.22" y1="171.93" x2="412.22" y2="50.38" stroke="#3d3d3d" stroke-width="1.35" />
<line x1="412.22" y1="110.59" x2="412.22" y2="50.38" stroke="#3d3d3d" stroke-width="4.0" />
<circle cx="412.22" cy="56.04" r="0.8" fill="#b4b4b4"/>
<path d="M434.9,50.4 435.2,51 435.4,51.6 435.7,52.2 435.9,52.8 436.2,53.4 436.4,54 436.7,54.6 436.8,54.9 437,55.2 437.3,55.8 437.6,56.4 437.9,57 438.2,57.6 438.6,58.2 438.9,58.9 439.2,59.5 439.3,59.8 439.5,60.1 439.8,60.7 440,61.3 440.3,61.9 440.6,62.5 440.9,63.1 441.2,63.7 441.4,64.3 441.6,64.9 441.8,65.3 441.8,65.5 442,66.1 442.2,66.7 442.4,67.3 442.5,67.9 442.7,68.5 442.8,69.1 442.8,69.1 442.9,69.7 442.9,70.4 443,71 443.1,71.6 443.1,72.2 443.2,72.8 443.2,73.4 443.3,74 443.3,74.6 443.3,74.7 443.4,75.2 443.4,75.8 443.5,76.4 443.5,77 443.5,77.6 443.6,78.2 443.6,78.8 443.6,79.4 443.7,80 443.7,80.6 443.7,81.3 443.7,81.9 443.8,82.1 443.8,82.5 443.8,83.1 443.8,83.7 443.8,84.3 443.9,84.9 443.9,85.5 443.9,86.1 443.9,86.7 444,87.3 444,87.9 444,88.5 444,89.1 444.1,89.7 444.1,90.3 444.1,90.9 444.1,91.5 444.2,92.1 444.2,92.8 444.2,93.4 444.2,94 444.2,94.6 444.3,95.2 444.3,95.8 444.3,96.4 444.3,97 444.3,97.6 444.4,98.2 444.4,98.8 444.4,99.4 444.4,100 444.4,100.6 444.4,100.8 444.5,101.2 444.5,101.8 444.5,102.4 444.5,103 444.5,103.7 444.6,104.3 444.6,104.9 444.6,105.5 444.6,106.1 444.6,106.7 444.7,107.3 444.7,107.9 444.7,108.5 444.7,109.1 444.7,109.7 444.8,110.3 444.8,110.9 444.8,111.5 444.8,112.1 444.8,112.7 444.9,113.3 444.9,113.9 444.9,114.5 444.9,115.2 444.9,115.8 444.9,116.3 445,116.4 445,117 445,117.6 445,118.2 445,118.8 445.1,119.4 445.1,120 445.1,120.6 445.1,121.2 445.1,121.8 445.2,122.4 445.2,123 445.2,123.6 445.2,124.2 445.3,124.8 445.3,125.4 445.3,126.1 445.3,126.7 445.4,127.3 445.4,127.9 445.4,128.5 445.4,129.1 445.5,129.7 445.5,130.3 445.5,130.9 445.5,131.5 445.5,132.1 445.8,132.1 445.8,131.5 445.8,130.9 445.8,130.3 445.8,129.7 445.9,129.1 445.9,128.5 445.9,127.9 445.9,127.3 446,126.7 446,126.1 446,125.4 446,124.8 446.1,124.2 446.1,123.6 446.1,123 446.1,122.4 446.2,121.8 446.2,121.2 446.2,120.6 446.2,120 446.2,119.4 446.3,118.8 446.3,118.2 446.3,117.6 446.3,117 446.3,116.4 446.3,116.3 446.4,115.8 446.4,115.2 446.4,114.5 446.4,113.9 446.4,113.3 446.5,112.7 446.5,112.1 446.5,111.5 446.5,110.9 446.5,110.3 446.6,109.7 446.6,109.1 446.6,108.5 446.6,107.9 446.6,107.3 446.7,106.7 446.7,106.1 446.7,105.5 446.7,104.9 446.7,104.3 446.8,103.7 446.8,103 446.8,102.4 446.8,101.8 446.8,101.2 446.8,100.8 446.9,100.6 446.9,100 446.9,99.4 446.9,98.8 446.9,98.2 447,97.6 447,97 447,96.4 447,95.8 447,95.2 447.1,94.6 447.1,94 447.1,93.4 447.1,92.8 447.1,92.1 447.2,91.5 447.2,90.9 447.2,90.3 447.2,89.7 447.3,89.1 447.3,88.5 447.3,87.9 447.3,87.3 447.4,86.7 447.4,86.1 447.4,85.5 447.4,84.9 447.5,84.3 447.5,83.7 447.5,83.1 447.5,82.5 447.5,82.1 447.6,81.9 447.6,81.3 447.6,80.6 447.6,80 447.7,79.4 447.7,78.8 447.7,78.2 447.8,77.6 447.8,77 447.8,76.4 447.9,75.8 447.9,75.2 447.9,74.7 448,74.6 448,74 448.1,73.4 448.1,72.8 448.2,72.2 448.2,71.6 448.3,71 448.4,70.4 448.4,69.7 448.5,69.1 448.5,69.1 448.6,68.5 448.8,67.9 448.9,67.3 449.1,66.7 449.3,66.1 449.5,65.5 449.5,65.3 449.7,64.9 449.9,64.3 450.1,63.7 450.4,63.1 450.7,62.5 451,61.9 451.3,61.3 451.5,60.7 451.8,60.1 451.9,59.8 452.1,59.5 452.4,58.9 452.7,58.2 453.1,57.6 453.4,57 453.7,56.4 454,55.8 454.3,55.2 454.4,54.9 454.6,54.6 454.9,54 455.1,53.4 455.4,52.8 455.6,52.2 455.9,51.6 456.1,51 456.3,50.4Z" fill="#3b913b" stroke="#3d3d3d" stroke-width="1.5" stroke-linejoin="round"/>
<line x1="445.65" y1="129.46" x2="445.65" y2="50.38" stroke="#3d3d3d" stroke-width="1.35" />
<line x1="445.65" y1="74.73" x2="445.65" y2="50.38" stroke="#3d3d3d" stroke-width="4.0" />
<circle cx="445.65" cy="56.04" r="0.8" fill="#b4b4b4"/>
<path d="M466.2,50.4 466.6,51 467.1,51.6 467.5,52.2 467.9,52.8 468.3,53.4 468.7,54 469.1,54.6 469.4,55.3 469.8,55.9 469.9,56 470.1,56.5 470.4,57.1 470.8,57.7 471.1,58.3 471.4,58.9 471.7,59.5 472,60.1 472.2,60.7 472.5,61.3 472.7,62 473,62.6 473.2,63.2 473.3,63.6 473.3,63.8 473.5,64.4 473.7,65 473.8,65.6 474,66.2 474.1,66.8 474.2,67.4 474.3,68.1 474.5,68.7 474.6,69.3 474.7,69.9 474.8,70.5 474.9,71.1 475,71.7 475.1,72.3 475.2,72.8 475.2,72.9 475.3,73.5 475.4,74.1 475.5,74.8 475.6,75.4 475.7,76 475.8,76.6 475.9,77.2 475.9,77.8 476,78.4 476.1,79 476.2,79.6 476.3,80.2 476.4,80.9 476.4,81.5 476.5,82.1 476.6,82.7 476.6,83.3 476.7,83.9 476.8,84.5 476.8,85.1 476.9,85.7 476.9,85.9 476.9,86.3 477,87 477,87.6 477.1,88.2 477.1,88.8 477.1,89.4 477.2,90 477.2,90.6 477.3,91.2 477.3,91.8 477.3,92.4 477.4,93 477.4,93.7 477.4,94.3 477.5,94.9 477.5,95.5 477.5,96.1 477.6,96.7 477.6,97.3 477.6,97.9 477.7,98.5 477.7,99.1 477.7,99.8 477.8,100.4 477.8,100.8 477.8,101 477.8,101.6 477.9,102.2 477.9,102.8 477.9,103.4 478,104 478,104.6 478,105.2 478.1,105.8 478.1,106.5 478.1,107.1 478.1,107.7 478.2,108.3 478.2,108.9 478.2,109.5 478.3,110.1 478.3,110.7 478.3,111.3 478.4,111.9 478.4,112.5 478.4,112.6 478.4,113.2 478.4,113.8 478.5,114.4 478.5,115 478.5,115.6 478.6,116.2 478.6,116.8 478.6,117.4 478.7,118 478.7,118.6 478.7,119.3 478.7,119.9 478.8,120.5 478.8,121.1 478.8,121.7 478.9,122.3 478.9,122.9 478.9,123.5 479,124.1 479,124.7 479.2,124.7 479.2,124.1 479.2,123.5 479.3,122.9 479.3,122.3 479.3,121.7 479.4,121.1 479.4,120.5 479.4,119.9 479.4,119.3 479.5,118.6 479.5,118 479.5,117.4 479.6,116.8 479.6,116.2 479.6,115.6 479.7,115 479.7,114.4 479.7,113.8 479.7,113.2 479.8,112.6 479.8,112.5 479.8,111.9 479.8,111.3 479.9,110.7 479.9,110.1 479.9,109.5 480,108.9 480,108.3 480,107.7 480.1,107.1 480.1,106.5 480.1,105.8 480.1,105.2 480.2,104.6 480.2,104 480.2,103.4 480.3,102.8 480.3,102.2 480.3,101.6 480.4,101 480.4,100.8 480.4,100.4 480.4,99.8 480.5,99.1 480.5,98.5 480.5,97.9 480.6,97.3 480.6,96.7 480.6,96.1 480.7,95.5 480.7,94.9 480.7,94.3 480.8,93.7 480.8,93 480.8,92.4 480.9,91.8 480.9,91.2 480.9,90.6 481,90 481,89.4 481.1,88.8 481.1,88.2 481.1,87.6 481.2,87 481.2,86.3 481.3,85.9 481.3,85.7 481.3,85.1 481.4,84.5 481.5,83.9 481.5,83.3 481.6,82.7 481.7,82.1 481.7,81.5 481.8,80.9 481.9,80.2 482,79.6 482,79 482.1,78.4 482.2,77.8 482.3,77.2 482.4,76.6 482.5,76 482.6,75.4 482.7,74.8 482.8,74.1 482.9,73.5 483,72.9 483,72.8 483.1,72.3 483.2,71.7 483.3,71.1 483.4,70.5 483.5,69.9 483.6,69.3 483.7,68.7 483.8,68.1 483.9,67.4 484.1,66.8 484.2,66.2 484.4,65.6 484.5,65 484.7,64.4 484.8,63.8 484.9,63.6 485,63.2 485.2,62.6 485.4,62 485.7,61.3 485.9,60.7 486.2,60.1 486.5,59.5 486.8,58.9 487.1,58.3 487.4,57.7 487.7,57.1 488.1,56.5 488.3,56 488.4,55.9 488.7,55.3 489.1,54.6 489.5,54 489.8,53.4 490.3,52.8 490.7,52.2 491.1,51.6 491.5,51 492,50.4Z" fill="#3b913b" stroke="#3d3d3d" stroke-width="1.5" stroke-linejoin="round"/>
<line x1="479.08" y1="121.91" x2="479.08" y2="50.38" stroke="#3d3d3d" stroke-width="1.35" />
<line x1="479.08" y1="69.06" x2="479.08" y2="50.38" stroke="#3d3d3d" stroke-width="4.0" />
<circle cx="479.08" cy="56.04" r="0.8" fill="#b4b4b4"/>
<line x1="395.5" y1="49.6" x2="495.8" y2="49.6" stroke="#90ee90" stroke-width="2" />
</g>
<rect x="395.5" y="48.3" width="100.3" height="151" fill="none" stroke="#3a3a3a" stroke-width="1"/>
<line x1="392.5" y1="199.3" x2="395.5" y2="199.3" stroke="#1a1a1a" stroke-width="1" />
<line x1="392.5" y1="180.43" x2="395.5" y2="180.43" stroke="#1a1a1a" stroke-width="1" />
<line x1="392.5" y1="161.55" x2="395.5" y2="161.55" stroke="#1a1a1a" stroke-width="1" />
<line x1="392.5" y1="142.68" x2="395.5" y2="142.68" stroke="#1a1a1a" stroke-width="1" />
<line x1="392.5" y1="123.8" x2="395.5" y2="123.8" stroke="#1a1a1a" stroke-width="1" />
<line x1="392.5" y1="104.93" x2="395.5" y2="104.93" stroke="#1a1a1a" stroke-width="1" />
<line x1="392.5" y1="86.05" x2="395.5" y2="86.05" stroke="#1a1a1a" stroke-width="1" />
<line x1="392.5" y1="67.18" x2="395.5" y2="67.18" stroke="#1a1a1a" stroke-width="1" />
<line x1="392.5" y1="48.3" x2="395.5" y2="48.3" stroke="#1a1a1a" stroke-width="1" />
<line x1="412.22" y1="199.3" x2="412.22" y2="201.9" stroke="#1a1a1a" stroke-width="1" />
<line x1="445.65" y1="199.3" x2="445.65" y2="201.9" stroke="#1a1a1a" stroke-width="1" />
<line x1="479.08" y1="199.3" x2="479.08" y2="201.9" stroke="#1a1a1a" stroke-width="1" />
<text x="413.22" y="213.8" font-size="11" font-weight="400" text-anchor="middle" fill="#000" >1000</text>
<text x="446.65" y="213.8" font-size="11" font-weight="400" text-anchor="middle" fill="#000" >5000</text>
<text x="480.08" y="213.8" font-size="11" font-weight="400" text-anchor="middle" fill="#000" >10000</text>
<clipPath id="va3"><rect x="521.4" y="48.3" width="100" height="151"/></clipPath>
<g clip-path="url(#va3)">
<path d="M538,138.7 537.9,139.3 537.8,139.9 537.8,140.5 537.7,141.2 537.7,141.8 537.6,142.4 537.6,143 537.5,143.6 537.5,144.2 537.5,144.6 537.5,144.8 537.4,145.4 537.4,146.1 537.4,146.7 537.4,147.3 537.3,147.9 537.3,148.5 537.3,149.1 537.3,149.7 537.2,150.3 537.2,150.9 537.2,151.2 537.1,151.6 537,152.2 536.8,152.8 536.6,153.4 536.4,154 536.1,154.6 535.9,155.2 535.7,155.8 535.7,156.1 535.6,156.5 535.4,157.1 535.3,157.7 535.1,158.3 535,158.9 534.9,159.5 534.9,160.1 534.9,160.4 534.9,160.7 535,161.3 535.2,162 535.5,162.6 535.8,163.2 536.1,163.8 536.4,164.4 536.5,164.8 536.5,165 536.7,165.6 536.8,166.2 536.9,166.8 537,167.5 537.1,168.1 537.2,168.2 537.3,168.7 537.4,169.3 537.5,169.9 537.7,170.5 537.8,171.1 538,171.7 538.2,171.7 538.3,171.1 538.4,170.5 538.6,169.9 538.7,169.3 538.9,168.7 539,168.2 539,168.1 539.1,167.5 539.2,166.8 539.3,166.2 539.5,165.6 539.6,165 539.7,164.8 539.8,164.4 540,163.8 540.3,163.2 540.6,162.6 540.9,162 541.1,161.3 541.2,160.7 541.3,160.4 541.3,160.1 541.2,159.5 541.1,158.9 541,158.3 540.9,157.7 540.7,157.1 540.6,156.5 540.5,156.1 540.4,155.8 540.2,155.2 540,154.6 539.8,154 539.5,153.4 539.3,152.8 539.1,152.2 539,151.6 539,151.2 538.9,150.9 538.9,150.3 538.9,149.7 538.8,149.1 538.8,148.5 538.8,147.9 538.8,147.3 538.8,146.7 538.7,146.1 538.7,145.4 538.7,144.8 538.7,144.6 538.6,144.2 538.6,143.6 538.6,143 538.5,142.4 538.5,141.8 538.4,141.2 538.3,140.5 538.3,139.9 538.2,139.3 538.2,138.7Z" fill="#3274a1" stroke="#3f3f3f" stroke-width="1.5" stroke-linejoin="round"/>
<line x1="538.07" y1="170.99" x2="538.07" y2="142.68" stroke="#3f3f3f" stroke-width="1.35" />
<line x1="538.07" y1="163.44" x2="538.07" y2="156.83" stroke="#3f3f3f" stroke-width="4.0" />
<circle cx="538.07" cy="160.61" r="0.8" fill="#b4b4b4"/>
<path d="M571.3,149.8 571.2,150.5 571.1,151.1 571,151.7 570.9,152.3 570.7,153 570.5,153.6 570.4,154 570.3,154.2 570.1,154.8 569.9,155.5 569.6,156.1 569.3,156.6 569.2,156.7 568.6,157.3 567.6,158 566.7,158.6 565.9,159.2 565.6,159.8 565.6,159.9 565.7,160.5 566.1,161.1 566.6,161.7 567.1,162.3 567.4,162.7 567.7,163 568.6,163.6 569.6,164.2 570.1,164.8 570.2,164.8 570.5,165.5 570.8,166.1 571.1,166.7 571.2,167.3 571.3,168 571.5,168 571.6,167.3 571.7,166.7 572,166.1 572.3,165.5 572.6,164.8 572.7,164.8 573.2,164.2 574.2,163.6 575.1,163 575.4,162.7 575.7,162.3 576.2,161.7 576.7,161.1 577.1,160.5 577.2,159.9 577.2,159.8 576.9,159.2 576.1,158.6 575.2,158 574.2,157.3 573.6,156.7 573.5,156.6 573.2,156.1 572.9,155.5 572.7,154.8 572.5,154.2 572.4,154 572.3,153.6 572.1,153 571.9,152.3 571.8,151.7 571.7,151.1 571.6,150.5 571.5,149.8Z" fill="#3274a1" stroke="#3f3f3f" stroke-width="1.5" stroke-linejoin="round"/>
<line x1="571.4" y1="167.21" x2="571.4" y2="152.11" stroke="#3f3f3f" stroke-width="1.35" />
<line x1="571.4" y1="162.49" x2="571.4" y2="158.15" stroke="#3f3f3f" stroke-width="4.0" />
<circle cx="571.4" cy="160.61" r="0.8" fill="#b4b4b4"/>
<path d="M604.6,152.1 604.5,152.7 604.3,153.4 604.1,154 604,154.7 603.9,154.9 603.9,155.3 603.8,155.9 603.7,156.6 603.5,157.2 603.4,157.4 602.8,157.8 600.5,158.5 598,159.1 596.5,159.7 596.4,159.9 596.8,160.4 597.9,161 599.3,161.6 599.4,161.7 600.5,162.3 601.8,162.9 602.8,163.5 602.9,163.6 603.5,164.2 604.1,164.8 604.5,165.4 604.6,166.1 604.8,166.1 605,165.4 605.4,164.8 606,164.2 606.5,163.6 606.6,163.5 607.7,162.9 609,162.3 610,161.7 610.2,161.6 611.5,161 612.7,160.4 613,159.9 613,159.7 611.5,159.1 609,158.5 606.7,157.8 606,157.4 606,157.2 605.8,156.6 605.7,155.9 605.6,155.3 605.5,154.9 605.5,154.7 605.3,154 605.2,153.4 605,152.7 604.8,152.1Z" fill="#3274a1" stroke="#3f3f3f" stroke-width="1.5" stroke-linejoin="round"/>
<line x1="604.73" y1="165.33" x2="604.73" y2="154" stroke="#3f3f3f" stroke-width="1.35" />
<line x1="604.73" y1="161.93" x2="604.73" y2="158.72" stroke="#3f3f3f" stroke-width="4.0" />
<circle cx="604.73" cy="160.42" r="0.8" fill="#b4b4b4"/>
<line x1="521.4" y1="161.55" x2="621.4" y2="161.55" stroke="#b0c4de" stroke-width="2" />
</g>
<rect x="521.4" y="48.3" width="100" height="151" fill="none" stroke="#3a3a3a" stroke-width="1"/>
<line x1="518.4" y1="199.3" x2="521.4" y2="199.3" stroke="#1a1a1a" stroke-width="1" />
<line x1="518.4" y1="180.43" x2="521.4" y2="180.43" stroke="#1a1a1a" stroke-width="1" />
<line x1="518.4" y1="161.55" x2="521.4" y2="161.55" stroke="#1a1a1a" stroke-width="1" />
<line x1="518.4" y1="142.68" x2="521.4" y2="142.68" stroke="#1a1a1a" stroke-width="1" />
<line x1="518.4" y1="123.8" x2="521.4" y2="123.8" stroke="#1a1a1a" stroke-width="1" />
<line x1="518.4" y1="104.93" x2="521.4" y2="104.93" stroke="#1a1a1a" stroke-width="1" />
<line x1="518.4" y1="86.05" x2="521.4" y2="86.05" stroke="#1a1a1a" stroke-width="1" />
<line x1="518.4" y1="67.18" x2="521.4" y2="67.18" stroke="#1a1a1a" stroke-width="1" />
<line x1="518.4" y1="48.3" x2="521.4" y2="48.3" stroke="#1a1a1a" stroke-width="1" />
<line x1="538.07" y1="199.3" x2="538.07" y2="201.9" stroke="#1a1a1a" stroke-width="1" />
<line x1="571.4" y1="199.3" x2="571.4" y2="201.9" stroke="#1a1a1a" stroke-width="1" />
<line x1="604.73" y1="199.3" x2="604.73" y2="201.9" stroke="#1a1a1a" stroke-width="1" />
<text x="539.07" y="213.8" font-size="11" font-weight="400" text-anchor="middle" fill="#000" >1000</text>
<text x="572.4" y="213.8" font-size="11" font-weight="400" text-anchor="middle" fill="#000" >5000</text>
<text x="605.73" y="213.8" font-size="11" font-weight="400" text-anchor="middle" fill="#000" >10000</text>
<clipPath id="va4"><rect x="660.7" y="48.3" width="100.6" height="151"/></clipPath>
<g clip-path="url(#va4)">
<path d="M677.4,156.1 677.2,156.7 677,157.3 676.9,158 676.8,158.6 676.6,159.2 676.5,159.8 676.5,160 676.4,160.5 676.3,161.1 676.1,161.7 676,162.3 675.9,163 675.8,163.6 675.8,164.2 675.8,164.9 675.8,164.9 675.8,165.5 675.8,166.1 675.9,166.7 676,167.4 676.1,168 676.2,168.6 676.3,169.2 676.4,169.9 676.5,170 676.5,170.5 676.6,171.1 676.7,171.8 676.8,172.4 676.9,173 677,173.6 677.1,174.3 677.3,174.9 677.4,175.5 677.6,175.5 677.7,174.9 677.8,174.3 677.9,173.6 678,173 678.1,172.4 678.2,171.8 678.3,171.1 678.4,170.5 678.5,170 678.5,169.9 678.6,169.2 678.7,168.6 678.8,168 678.9,167.4 679,166.7 679.1,166.1 679.2,165.5 679.2,164.9 679.2,164.9 679.1,164.2 679.1,163.6 679,163 678.9,162.3 678.8,161.7 678.7,161.1 678.5,160.5 678.5,160 678.4,159.8 678.3,159.2 678.2,158.6 678,158 677.9,157.3 677.7,156.7 677.6,156.1Z" fill="#3274a1" stroke="#3f3f3f" stroke-width="1.5" stroke-linejoin="round"/>
<line x1="677.47" y1="174.76" x2="677.47" y2="156.83" stroke="#3f3f3f" stroke-width="1.35" />
<line x1="677.47" y1="168.16" x2="677.47" y2="162.49" stroke="#3f3f3f" stroke-width="4.0" />
<circle cx="677.47" cy="164.95" r="0.8" fill="#b4b4b4"/>
<path d="M710.9,159.7 710.9,160.3 710.8,160.9 710.7,161.6 710.5,162.2 710.4,162.9 710.2,163.4 710.2,163.5 710,164.2 709.7,164.5 703.3,164.8 702.9,164.9 705.5,165.3 705.9,165.4 707.8,166.1 708.7,166.7 709.2,167.2 709.4,167.4 710,168 710.5,168.6 710.9,169.3 711.1,169.3 711.5,168.6 712,168 712.6,167.4 712.8,167.2 713.3,166.7 714.2,166.1 716.1,165.4 716.5,165.3 719.1,164.9 718.7,164.8 712.3,164.5 712,164.2 711.8,163.5 711.8,163.4 711.6,162.9 711.5,162.2 711.3,161.6 711.2,160.9 711.1,160.3 711.1,159.7Z" fill="#3274a1" stroke="#3f3f3f" stroke-width="1.5" stroke-linejoin="round"/>
<line x1="711" y1="169.1" x2="711" y2="161.55" stroke="#3f3f3f" stroke-width="1.35" />
<line x1="711" y1="166.46" x2="711" y2="164.57" stroke="#3f3f3f" stroke-width="4.0" />
<circle cx="711" cy="165.51" r="0.8" fill="#b4b4b4"/>
<path d="M744.4,163.1 743.8,163.8 743,164.2 742.2,164.5 741,164.7 731.5,165 732.6,165.2 738.5,165.5 740,165.9 741,166.3 741.7,166.6 742.5,167 743,167.3 744.4,168 744.6,168 746,167.3 746.5,167 747.4,166.6 748,166.3 749.1,165.9 750.5,165.5 756.5,165.2 757.5,165 748,164.7 746.9,164.5 746,164.2 745.2,163.8 744.6,163.1Z" fill="#3274a1" stroke="#3f3f3f" stroke-width="1.5" stroke-linejoin="round"/>
<line x1="744.53" y1="167.59" x2="744.53" y2="163.44" stroke="#3f3f3f" stroke-width="1.35" />
<line x1="744.53" y1="166.27" x2="744.53" y2="164.57" stroke="#3f3f3f" stroke-width="4.0" />
<circle cx="744.53" cy="165.51" r="0.8" fill="#b4b4b4"/>
<line x1="660.7" y1="161.55" x2="761.3" y2="161.55" stroke="#b0c4de" stroke-width="2" />
</g>
<rect x="660.7" y="48.3" width="100.6" height="151" fill="none" stroke="#3a3a3a" stroke-width="1"/>
<line x1="657.7" y1="199.3" x2="660.7" y2="199.3" stroke="#1a1a1a" stroke-width="1" />
<line x1="657.7" y1="180.43" x2="660.7" y2="180.43" stroke="#1a1a1a" stroke-width="1" />
<line x1="657.7" y1="161.55" x2="660.7" y2="161.55" stroke="#1a1a1a" stroke-width="1" />
<line x1="657.7" y1="142.68" x2="660.7" y2="142.68" stroke="#1a1a1a" stroke-width="1" />
<line x1="657.7" y1="123.8" x2="660.7" y2="123.8" stroke="#1a1a1a" stroke-width="1" />
<line x1="657.7" y1="104.93" x2="660.7" y2="104.93" stroke="#1a1a1a" stroke-width="1" />
<line x1="657.7" y1="86.05" x2="660.7" y2="86.05" stroke="#1a1a1a" stroke-width="1" />
<line x1="657.7" y1="67.18" x2="660.7" y2="67.18" stroke="#1a1a1a" stroke-width="1" />
<line x1="657.7" y1="48.3" x2="660.7" y2="48.3" stroke="#1a1a1a" stroke-width="1" />
<line x1="677.47" y1="199.3" x2="677.47" y2="201.9" stroke="#1a1a1a" stroke-width="1" />
<line x1="711" y1="199.3" x2="711" y2="201.9" stroke="#1a1a1a" stroke-width="1" />
<line x1="744.53" y1="199.3" x2="744.53" y2="201.9" stroke="#1a1a1a" stroke-width="1" />
<text x="678.47" y="213.8" font-size="11" font-weight="400" text-anchor="middle" fill="#000" >1000</text>
<text x="712" y="213.8" font-size="11" font-weight="400" text-anchor="middle" fill="#000" >5000</text>
<text x="745.53" y="213.8" font-size="11" font-weight="400" text-anchor="middle" fill="#000" >10000</text>
<clipPath id="va5"><rect x="266.5" y="294.5" width="100.5" height="151"/></clipPath>
<g clip-path="url(#va5)">
<path d="M272.8,297 272.8,297.6 272.8,298.2 272.8,298.8 272.8,299.4 272.9,300 272.9,300.6 273,301.2 273,301.8 273.1,302.4 273.1,303 273.1,303.2 273.2,303.6 273.3,304.2 273.5,304.8 273.7,305.4 274,306 274.2,306.6 274.5,307.2 274.8,307.8 275.2,308.4 275.5,309 275.8,309.7 276.1,310.3 276.4,310.9 276.6,311.5 276.9,312.1 276.9,312.1 277.1,312.7 277.3,313.3 277.5,313.9 277.7,314.5 278,315.1 278.2,315.7 278.4,316.3 278.6,316.9 278.8,317.5 279,318.1 279.2,318.7 279.4,319.3 279.5,319.9 279.7,320.5 279.8,321.1 280,321.7 280.1,322.3 280.1,323 280.1,323 280.2,323.6 280.3,324.2 280.3,324.8 280.4,325.4 280.5,326 280.5,326.6 280.6,327.2 280.6,327.8 280.7,328.4 280.7,329 280.7,329.6 280.8,330.2 280.8,330.8 280.8,331.4 280.9,332 280.9,332.6 280.9,333.2 280.9,333.8 280.9,333.9 281,334.4 281,335 281,335.6 281,336.3 281,336.9 281,337.5 281.1,338.1 281.1,338.7 281.1,339.3 281.1,339.9 281.1,340.5 281.1,341.1 281.1,341.7 281.1,342.3 281.2,342.9 281.2,343.5 281.2,344.1 281.2,344.7 281.2,345.3 281.2,345.9 281.2,346.5 281.2,347.1 281.2,347.7 281.2,348.3 281.2,349 281.3,349.6 281.3,350.2 281.3,350.8 281.3,351.4 281.3,352 281.3,352.6 281.3,353.2 281.3,353.8 281.3,354.4 281.3,355 281.3,355.6 281.4,356 281.4,356.2 281.4,356.8 281.4,357.4 281.4,358 281.4,358.6 281.4,359.2 281.4,359.8 281.4,360.4 281.4,361 281.5,361.6 281.5,362.3 281.5,362.9 281.5,363.5 281.5,364.1 281.5,364.7 281.5,365.3 281.5,365.9 281.5,366.5 281.6,367.1 281.6,367.7 281.6,368.3 281.6,368.9 281.6,369.5 281.6,370.1 281.6,370.7 281.6,371.3 281.6,371.9 281.7,372.5 281.7,373.1 281.7,373.7 281.7,374.3 281.7,375 281.7,375.6 281.7,376.2 281.7,376.8 281.7,377.4 281.8,378 281.8,378.6 281.8,379.2 281.8,379.8 281.8,380.4 281.8,381 281.8,381.6 281.8,382.2 281.8,382.8 281.9,383.4 281.9,384 281.9,384.6 281.9,385.2 281.9,385.8 281.9,386.4 281.9,387 281.9,387.6 281.9,388.3 281.9,388.9 281.9,389.1 282,389.5 282,390.1 282,390.7 282,391.3 282,391.9 282,392.5 282,393.1 282,393.7 282,394.3 282,394.9 282,395.5 282.1,396.1 282.1,396.7 282.1,397.3 282.1,397.9 282.1,398.5 282.1,399.1 282.1,399.7 282.1,400.3 282.1,400.9 282.1,401.6 282.1,402.2 282.1,402.8 282.2,403.4 282.2,404 282.2,404.6 282.2,405.2 282.2,405.8 282.2,406.4 282.2,407 282.2,407.6 282.2,408.2 282.2,408.8 282.2,409.4 282.2,410 282.3,410.6 282.3,411.2 282.3,411.8 282.3,412.4 282.3,413 282.3,413.6 282.3,414.3 282.3,414.9 282.3,415.5 282.3,416.1 282.3,416.7 282.4,417.3 282.4,417.9 282.4,418.5 282.4,419.1 282.4,419.7 282.4,420.3 282.4,420.9 282.4,421.5 282.4,421.9 282.5,422.1 282.5,422.7 282.5,423.3 282.5,423.9 282.5,424.5 282.5,425.1 282.5,425.7 282.6,426.3 282.6,426.9 282.6,427.6 282.6,428.2 282.6,428.8 282.7,429.4 282.7,430 282.7,430.6 282.7,431.2 282.7,431.8 282.8,432.4 282.8,433 282.8,433.6 282.8,434.2 282.8,434.8 282.9,435.4 282.9,436 282.9,436.6 282.9,437.2 283,437.8 283,438.4 283,439 283,439.6 283.1,440.3 283.1,440.9 283.1,441.5 283.1,442.1 283.1,442.7 283.4,442.7 283.4,442.1 283.4,441.5 283.4,440.9 283.4,440.3 283.5,439.6 283.5,439 283.5,438.4 283.5,437.8 283.6,437.2 283.6,436.6 283.6,436 283.6,435.4 283.7,434.8 283.7,434.2 283.7,433.6 283.7,433 283.7,432.4 283.8,431.8 283.8,431.2 283.8,430.6 283.8,430 283.8,429.4 283.9,428.8 283.9,428.2 283.9,427.6 283.9,426.9 283.9,426.3 284,425.7 284,425.1 284,424.5 284,423.9 284,423.3 284,422.7 284,422.1 284.1,421.9 284.1,421.5 284.1,420.9 284.1,420.3 284.1,419.7 284.1,419.1 284.1,418.5 284.1,417.9 284.1,417.3 284.2,416.7 284.2,416.1 284.2,415.5 284.2,414.9 284.2,414.3 284.2,413.6 284.2,413 284.2,412.4 284.2,411.8 284.2,411.2 284.2,410.6 284.3,410 284.3,409.4 284.3,408.8 284.3,408.2 284.3,407.6 284.3,407 284.3,406.4 284.3,405.8 284.3,405.2 284.3,404.6 284.3,404 284.3,403.4 284.4,402.8 284.4,402.2 284.4,401.6 284.4,400.9 284.4,400.3 284.4,399.7 284.4,399.1 284.4,398.5 284.4,397.9 284.4,397.3 284.4,396.7 284.4,396.1 284.5,395.5 284.5,394.9 284.5,394.3 284.5,393.7 284.5,393.1 284.5,392.5 284.5,391.9 284.5,391.3 284.5,390.7 284.5,390.1 284.5,389.5 284.6,389.1 284.6,388.9 284.6,388.3 284.6,387.6 284.6,387 284.6,386.4 284.6,385.8 284.6,385.2 284.6,384.6 284.6,384 284.6,383.4 284.7,382.8 284.7,382.2 284.7,381.6 284.7,381 284.7,380.4 284.7,379.8 284.7,379.2 284.7,378.6 284.7,378 284.8,377.4 284.8,376.8 284.8,376.2 284.8,375.6 284.8,375 284.8,374.3 284.8,373.7 284.8,373.1 284.8,372.5 284.9,371.9 284.9,371.3 284.9,370.7 284.9,370.1 284.9,369.5 284.9,368.9 284.9,368.3 284.9,367.7 284.9,367.1 285,366.5 285,365.9 285,365.3 285,364.7 285,364.1 285,363.5 285,362.9 285,362.3 285,361.6 285.1,361 285.1,360.4 285.1,359.8 285.1,359.2 285.1,358.6 285.1,358 285.1,357.4 285.1,356.8 285.1,356.2 285.1,356 285.2,355.6 285.2,355 285.2,354.4 285.2,353.8 285.2,353.2 285.2,352.6 285.2,352 285.2,351.4 285.2,350.8 285.2,350.2 285.2,349.6 285.3,349 285.3,348.3 285.3,347.7 285.3,347.1 285.3,346.5 285.3,345.9 285.3,345.3 285.3,344.7 285.3,344.1 285.3,343.5 285.3,342.9 285.4,342.3 285.4,341.7 285.4,341.1 285.4,340.5 285.4,339.9 285.4,339.3 285.4,338.7 285.4,338.1 285.5,337.5 285.5,336.9 285.5,336.3 285.5,335.6 285.5,335 285.5,334.4 285.6,333.9 285.6,333.8 285.6,333.2 285.6,332.6 285.6,332 285.7,331.4 285.7,330.8 285.7,330.2 285.8,329.6 285.8,329 285.8,328.4 285.9,327.8 285.9,327.2 286,326.6 286,326 286.1,325.4 286.2,324.8 286.2,324.2 286.3,323.6 286.4,323 286.4,323 286.4,322.3 286.5,321.7 286.7,321.1 286.8,320.5 287,319.9 287.1,319.3 287.3,318.7 287.5,318.1 287.7,317.5 287.9,316.9 288.1,316.3 288.3,315.7 288.5,315.1 288.8,314.5 289,313.9 289.2,313.3 289.4,312.7 289.6,312.1 289.6,312.1 289.9,311.5 290.1,310.9 290.4,310.3 290.7,309.7 291,309 291.3,308.4 291.7,307.8 292,307.2 292.3,306.6 292.5,306 292.8,305.4 293,304.8 293.2,304.2 293.3,303.6 293.4,303.2 293.4,303 293.4,302.4 293.5,301.8 293.5,301.2 293.6,300.6 293.6,300 293.7,299.4 293.7,298.8 293.7,298.2 293.7,297.6 293.8,297Z" fill="#e1822c" stroke="#515151" stroke-width="1.5" stroke-linejoin="round"/>
<line x1="283.25" y1="426.62" x2="283.25" y2="296.95" stroke="#515151" stroke-width="1.35" />
<line x1="283.25" y1="353.77" x2="283.25" y2="296.95" stroke="#515151" stroke-width="4.0" />
<circle cx="283.25" cy="308.66" r="0.8" fill="#b4b4b4"/>
<path d="M304.2,297 304.3,297.6 304.3,298.2 304.4,298.8 304.5,299.4 304.6,300 304.7,300.6 304.9,301.2 305,301.8 305.2,302.4 305.3,303 305.4,303.2 305.5,303.6 305.7,304.2 305.9,304.8 306.2,305.4 306.5,306 306.9,306.6 307.2,307.3 307.6,307.9 307.9,308.5 308.3,309.1 308.6,309.7 308.9,310.3 309.2,310.9 309.5,311.5 309.8,312.1 309.8,312.1 310,312.7 310.2,313.3 310.5,313.9 310.7,314.5 310.9,315.1 311.1,315.7 311.4,316.3 311.6,317 311.8,317.6 312,318.2 312.2,318.8 312.3,319.4 312.5,320 312.6,320.6 312.8,321.2 312.9,321.8 313,322.4 313.1,323 313.1,323 313.1,323.6 313.2,324.2 313.2,324.8 313.3,325.4 313.3,326 313.4,326.6 313.4,327.3 313.5,327.9 313.5,328.5 313.6,329.1 313.6,329.7 313.6,330.3 313.7,330.9 313.7,331.5 313.7,332.1 313.8,332.7 313.8,333.3 313.8,333.9 313.9,334.5 313.9,335.1 313.9,335.7 313.9,336.3 314,336.9 314,337.6 314,338.2 314,338.8 314.1,339.4 314.1,340 314.1,340.6 314.1,341.2 314.1,341.7 314.2,341.8 314.2,342.4 314.2,343 314.2,343.6 314.3,344.2 314.3,344.8 314.3,345.4 314.3,346 314.3,346.6 314.4,347.3 314.4,347.9 314.4,348.5 314.4,349.1 314.4,349.7 314.5,350.3 314.5,350.9 314.5,351.5 314.5,352.1 314.5,352.7 314.6,353.3 314.6,353.9 314.6,354.5 314.6,355.1 314.6,355.7 314.7,356.3 314.7,356.9 314.7,357.6 314.7,358.2 314.7,358.8 314.7,359.4 314.8,360 314.8,360.6 314.8,361.2 314.8,361.8 314.8,362.4 314.8,363 314.9,363.6 314.9,364.2 314.9,364.8 314.9,365.4 314.9,366 314.9,366.6 314.9,367.2 315,367.9 315,368.5 315,369.1 315,369.7 315,370.3 315,370.9 315.1,371.5 315.1,372.1 315.1,372.7 315.1,373.3 315.1,373.9 315.2,374.5 315.2,375.1 315.2,375.7 315.2,376.3 315.2,376.9 315.2,377.6 315.3,378.2 315.3,378.8 315.3,379.4 315.3,380 315.3,380.6 315.4,381.2 315.4,381.8 315.4,382.4 315.4,383 315.4,383.6 315.5,384.2 315.5,384.8 315.5,385.4 315.5,386 315.5,386.6 315.6,387.2 315.6,387.9 315.6,388.5 315.6,389.1 315.6,389.7 315.7,390.3 315.7,390.9 315.7,391.5 315.7,392.1 315.7,392.7 315.8,393.3 315.8,393.9 315.8,394.5 315.8,395.1 315.8,395.7 315.9,396.3 315.9,396.9 315.9,397.5 315.9,398.2 315.9,398.3 316,398.8 316,399.4 316,400 316,400.6 316.1,401.2 316.1,401.8 316.1,402.4 316.2,403 316.2,403.6 316.2,404.2 316.3,404.8 316.3,405.4 316.3,406 316.3,406.6 316.4,407.2 316.4,407.8 316.4,408.5 316.5,409.1 316.5,409.7 316.5,410.3 316.6,410.9 316.6,411.5 316.6,412.1 316.9,412.1 316.9,411.5 316.9,410.9 317,410.3 317,409.7 317,409.1 317.1,408.5 317.1,407.8 317.1,407.2 317.2,406.6 317.2,406 317.2,405.4 317.2,404.8 317.3,404.2 317.3,403.6 317.3,403 317.4,402.4 317.4,401.8 317.4,401.2 317.5,400.6 317.5,400 317.5,399.4 317.5,398.8 317.6,398.3 317.6,398.2 317.6,397.5 317.6,396.9 317.6,396.3 317.7,395.7 317.7,395.1 317.7,394.5 317.7,393.9 317.7,393.3 317.8,392.7 317.8,392.1 317.8,391.5 317.8,390.9 317.8,390.3 317.9,389.7 317.9,389.1 317.9,388.5 317.9,387.9 317.9,387.2 318,386.6 318,386 318,385.4 318,384.8 318,384.2 318.1,383.6 318.1,383 318.1,382.4 318.1,381.8 318.1,381.2 318.2,380.6 318.2,380 318.2,379.4 318.2,378.8 318.2,378.2 318.2,377.6 318.3,376.9 318.3,376.3 318.3,375.7 318.3,375.1 318.3,374.5 318.4,373.9 318.4,373.3 318.4,372.7 318.4,372.1 318.4,371.5 318.5,370.9 318.5,370.3 318.5,369.7 318.5,369.1 318.5,368.5 318.5,367.9 318.6,367.2 318.6,366.6 318.6,366 318.6,365.4 318.6,364.8 318.6,364.2 318.6,363.6 318.7,363 318.7,362.4 318.7,361.8 318.7,361.2 318.7,360.6 318.7,360 318.8,359.4 318.8,358.8 318.8,358.2 318.8,357.6 318.8,356.9 318.8,356.3 318.9,355.7 318.9,355.1 318.9,354.5 318.9,353.9 318.9,353.3 319,352.7 319,352.1 319,351.5 319,350.9 319,350.3 319.1,349.7 319.1,349.1 319.1,348.5 319.1,347.9 319.1,347.3 319.2,346.6 319.2,346 319.2,345.4 319.2,344.8 319.2,344.2 319.3,343.6 319.3,343 319.3,342.4 319.3,341.8 319.4,341.7 319.4,341.2 319.4,340.6 319.4,340 319.4,339.4 319.5,338.8 319.5,338.2 319.5,337.6 319.5,336.9 319.6,336.3 319.6,335.7 319.6,335.1 319.6,334.5 319.7,333.9 319.7,333.3 319.7,332.7 319.8,332.1 319.8,331.5 319.8,330.9 319.9,330.3 319.9,329.7 319.9,329.1 320,328.5 320,327.9 320.1,327.3 320.1,326.6 320.2,326 320.2,325.4 320.3,324.8 320.3,324.2 320.4,323.6 320.4,323 320.4,323 320.5,322.4 320.6,321.8 320.7,321.2 320.9,320.6 321,320 321.2,319.4 321.3,318.8 321.5,318.2 321.7,317.6 321.9,317 322.1,316.3 322.4,315.7 322.6,315.1 322.8,314.5 323,313.9 323.3,313.3 323.5,312.7 323.7,312.1 323.8,312.1 324,311.5 324.3,310.9 324.6,310.3 324.9,309.7 325.2,309.1 325.6,308.5 325.9,307.9 326.3,307.3 326.6,306.6 327,306 327.3,305.4 327.6,304.8 327.8,304.2 328,303.6 328.1,303.2 328.2,303 328.3,302.4 328.5,301.8 328.6,301.2 328.8,300.6 328.9,300 329,299.4 329.1,298.8 329.2,298.2 329.2,297.6 329.2,297Z" fill="#e1822c" stroke="#515151" stroke-width="1.5" stroke-linejoin="round"/>
<line x1="316.75" y1="388.88" x2="316.75" y2="296.95" stroke="#515151" stroke-width="1.35" />
<line x1="316.75" y1="343.76" x2="316.75" y2="296.95" stroke="#515151" stroke-width="4.0" />
<circle cx="316.75" cy="308.66" r="0.8" fill="#b4b4b4"/>
<path d="M337.2,297 337.3,297.6 337.4,298.2 337.5,298.8 337.6,299.4 337.7,300 337.8,300.6 337.9,301.2 338,301.8 338.2,302.4 338.3,303 338.4,303.2 338.5,303.6 338.6,304.2 338.8,304.8 339,305.4 339.2,306 339.5,306.6 339.7,307.2 340,307.8 340.2,308.4 340.5,309 340.7,309.6 341,310.2 341.2,310.8 341.4,311.4 341.6,312.1 341.9,312.7 342.1,313.3 342.3,313.9 342.5,314.5 342.7,315.1 342.9,315.7 343.1,316.3 343.3,316.9 343.5,317.5 343.7,318.1 343.9,318.7 344,319.3 344.2,319.9 344.4,320.5 344.5,321.1 344.7,321.7 344.8,322.3 344.9,322.9 344.9,323 345.1,323.5 345.2,324.1 345.3,324.7 345.4,325.3 345.5,325.9 345.6,326.5 345.7,327.2 345.8,327.8 345.9,328.4 346,329 346.1,329.6 346.2,330.2 346.2,330.8 346.3,331.4 346.4,332 346.4,332.6 346.5,333.2 346.5,333.8 346.6,333.9 346.6,334.4 346.6,335 346.7,335.6 346.7,336.2 346.8,336.8 346.8,337.4 346.8,338 346.9,338.6 346.9,339.2 346.9,339.8 347,340.4 347,341 347,341.6 347.1,342.3 347.1,342.9 347.1,343.5 347.1,344.1 347.2,344.7 347.2,345.3 347.2,345.9 347.3,346.5 347.3,347.1 347.3,347.7 347.3,348.3 347.4,348.9 347.4,349.5 347.4,350.1 347.4,350.7 347.4,351.3 347.5,351.9 347.5,352.5 347.5,353.1 347.5,353.7 347.6,354.3 347.6,354.9 347.6,355.5 347.6,356 347.7,356.1 347.7,356.7 347.7,357.4 347.7,358 347.8,358.6 347.8,359.2 347.8,359.8 347.8,360.4 347.9,361 347.9,361.6 347.9,362.2 347.9,362.8 348,363.4 348,364 348,364.6 348,365.2 348.1,365.8 348.1,366.4 348.1,367 348.1,367.6 348.2,368.2 348.2,368.8 348.2,369.4 348.2,370 348.3,370.6 348.3,371.2 348.3,371.8 348.3,372.5 348.4,373.1 348.4,373.7 348.4,374.3 348.4,374.9 348.5,375.5 348.5,376.1 348.5,376.7 348.5,377.3 348.6,377.9 348.6,378.5 348.6,379.1 348.6,379.7 348.7,380.3 348.7,380.9 348.7,381.5 348.8,382.1 348.8,382.1 348.8,382.7 348.8,383.3 348.8,383.9 348.9,384.5 348.9,385.1 348.9,385.7 348.9,386.3 349,386.9 349,387.6 349,388.2 349.1,388.8 349.1,389.4 349.1,390 349.2,390.6 349.2,391.2 349.2,391.8 349.2,392.4 349.3,393 349.3,393.6 349.3,394.2 349.4,394.8 349.4,395.4 349.4,396 349.4,396.4 349.5,396.6 349.5,397.2 349.5,397.8 349.6,398.4 349.6,399 349.6,399.6 349.7,400.2 349.7,400.8 349.7,401.4 349.8,402 349.8,402.7 349.8,403.3 349.9,403.9 349.9,404.5 349.9,405.1 350,405.7 350,406.3 350,406.9 350.1,407.5 350.1,408.1 350.1,408.7 350.4,408.7 350.4,408.1 350.4,407.5 350.5,406.9 350.5,406.3 350.5,405.7 350.6,405.1 350.6,404.5 350.6,403.9 350.7,403.3 350.7,402.7 350.7,402 350.8,401.4 350.8,400.8 350.8,400.2 350.9,399.6 350.9,399 350.9,398.4 351,397.8 351,397.2 351,396.6 351.1,396.4 351.1,396 351.1,395.4 351.1,394.8 351.2,394.2 351.2,393.6 351.2,393 351.3,392.4 351.3,391.8 351.3,391.2 351.3,390.6 351.4,390 351.4,389.4 351.4,388.8 351.5,388.2 351.5,387.6 351.5,386.9 351.6,386.3 351.6,385.7 351.6,385.1 351.6,384.5 351.7,383.9 351.7,383.3 351.7,382.7 351.7,382.1 351.8,382.1 351.8,381.5 351.8,380.9 351.8,380.3 351.9,379.7 351.9,379.1 351.9,378.5 351.9,377.9 352,377.3 352,376.7 352,376.1 352,375.5 352.1,374.9 352.1,374.3 352.1,373.7 352.1,373.1 352.2,372.5 352.2,371.8 352.2,371.2 352.2,370.6 352.3,370 352.3,369.4 352.3,368.8 352.3,368.2 352.4,367.6 352.4,367 352.4,366.4 352.4,365.8 352.5,365.2 352.5,364.6 352.5,364 352.5,363.4 352.6,362.8 352.6,362.2 352.6,361.6 352.6,361 352.7,360.4 352.7,359.8 352.7,359.2 352.7,358.6 352.8,358 352.8,357.4 352.8,356.7 352.8,356.1 352.9,356 352.9,355.5 352.9,354.9 352.9,354.3 353,353.7 353,353.1 353,352.5 353,351.9 353.1,351.3 353.1,350.7 353.1,350.1 353.1,349.5 353.1,348.9 353.2,348.3 353.2,347.7 353.2,347.1 353.2,346.5 353.3,345.9 353.3,345.3 353.3,344.7 353.4,344.1 353.4,343.5 353.4,342.9 353.4,342.3 353.5,341.6 353.5,341 353.5,340.4 353.6,339.8 353.6,339.2 353.6,338.6 353.7,338 353.7,337.4 353.7,336.8 353.8,336.2 353.8,335.6 353.9,335 353.9,334.4 353.9,333.9 354,333.8 354,333.2 354.1,332.6 354.1,332 354.2,331.4 354.3,330.8 354.3,330.2 354.4,329.6 354.5,329 354.6,328.4 354.7,327.8 354.8,327.2 354.9,326.5 355,325.9 355.1,325.3 355.2,324.7 355.3,324.1 355.4,323.5 355.6,323 355.6,322.9 355.7,322.3 355.8,321.7 356,321.1 356.1,320.5 356.3,319.9 356.5,319.3 356.6,318.7 356.8,318.1 357,317.5 357.2,316.9 357.4,316.3 357.6,315.7 357.8,315.1 358,314.5 358.2,313.9 358.4,313.3 358.6,312.7 358.9,312.1 359.1,311.4 359.3,310.8 359.5,310.2 359.8,309.6 360,309 360.3,308.4 360.5,307.8 360.8,307.2 361,306.6 361.3,306 361.5,305.4 361.7,304.8 361.9,304.2 362,303.6 362.1,303.2 362.2,303 362.3,302.4 362.5,301.8 362.6,301.2 362.7,300.6 362.8,300 362.9,299.4 363,298.8 363.1,298.2 363.2,297.6 363.2,297Z" fill="#e1822c" stroke="#515151" stroke-width="1.5" stroke-linejoin="round"/>
<line x1="350.25" y1="370" x2="350.25" y2="296.95" stroke="#515151" stroke-width="1.35" />
<line x1="350.25" y1="331.87" x2="350.25" y2="296.95" stroke="#515151" stroke-width="4.0" />
<circle cx="350.25" cy="308.66" r="0.8" fill="#b4b4b4"/>
<line x1="266.5" y1="295.8" x2="367" y2="295.8" stroke="#ffdab9" stroke-width="2" />
</g>
<rect x="266.5" y="294.5" width="100.5" height="151" fill="none" stroke="#3a3a3a" stroke-width="1"/>
<line x1="263.5" y1="445.5" x2="266.5" y2="445.5" stroke="#1a1a1a" stroke-width="1" />
<line x1="263.5" y1="426.62" x2="266.5" y2="426.62" stroke="#1a1a1a" stroke-width="1" />
<line x1="263.5" y1="407.75" x2="266.5" y2="407.75" stroke="#1a1a1a" stroke-width="1" />
<line x1="263.5" y1="388.88" x2="266.5" y2="388.88" stroke="#1a1a1a" stroke-width="1" />
<line x1="263.5" y1="370" x2="266.5" y2="370" stroke="#1a1a1a" stroke-width="1" />
<line x1="263.5" y1="351.12" x2="266.5" y2="351.12" stroke="#1a1a1a" stroke-width="1" />
<line x1="263.5" y1="332.25" x2="266.5" y2="332.25" stroke="#1a1a1a" stroke-width="1" />
<line x1="263.5" y1="313.38" x2="266.5" y2="313.38" stroke="#1a1a1a" stroke-width="1" />
<line x1="263.5" y1="294.5" x2="266.5" y2="294.5" stroke="#1a1a1a" stroke-width="1" />
<line x1="283.25" y1="445.5" x2="283.25" y2="448.1" stroke="#1a1a1a" stroke-width="1" />
<line x1="316.75" y1="445.5" x2="316.75" y2="448.1" stroke="#1a1a1a" stroke-width="1" />
<line x1="350.25" y1="445.5" x2="350.25" y2="448.1" stroke="#1a1a1a" stroke-width="1" />
<text x="260.1" y="449" font-size="11" font-weight="400" text-anchor="end" fill="#000" >0.0</text>
<text x="260.1" y="410.7" font-size="11" font-weight="400" text-anchor="end" fill="#000" >0.2</text>
<text x="260.1" y="372.8" font-size="11" font-weight="400" text-anchor="end" fill="#000" >0.4</text>
<text x="260.1" y="335.3" font-size="11" font-weight="400" text-anchor="end" fill="#000" >0.6</text>
<text x="260.1" y="297.4" font-size="11" font-weight="400" text-anchor="end" fill="#000" >0.8</text>
<text x="284.25" y="460" font-size="11" font-weight="400" text-anchor="middle" fill="#000" >1000</text>
<text x="317.75" y="460" font-size="11" font-weight="400" text-anchor="middle" fill="#000" >5000</text>
<text x="351.25" y="460" font-size="11" font-weight="400" text-anchor="middle" fill="#000" >10000</text>
<clipPath id="va6"><rect x="395.5" y="294.5" width="100.3" height="151"/></clipPath>
<g clip-path="url(#va6)">
<path d="M411.9,285.1 411.9,285.7 411.9,286.3 411.9,286.9 411.9,287.5 411.9,288.1 411.9,288.7 411.9,289.3 411.9,289.9 411.9,290.5 411.9,291.1 411.9,291.7 411.9,292.3 411.9,292.9 411.9,293.5 411.9,294.1 411.9,294.7 411.9,295.3 411.9,295.9 411.8,296.5 411.8,297.1 411.8,297.7 411.8,298.4 411.8,299 411.8,299.6 411.8,300.2 411.8,300.8 411.8,301.4 411.8,302 411.8,302.6 411.8,303.2 411.8,303.8 411.8,304.4 411.8,305 411.8,305.6 411.8,306.2 411.8,306.8 411.8,307.4 411.8,308 411.8,308.6 411.8,309.2 411.8,309.8 411.8,310.4 411.8,311 411.8,311.6 411.8,312.2 411.8,312.9 411.8,313.5 411.8,314.1 411.8,314.7 411.8,315.3 411.7,315.9 411.7,316.5 411.7,317.1 411.7,317.7 411.7,318.3 411.7,318.9 411.7,319.5 411.7,320.1 411.7,320.7 411.7,321.3 411.7,321.9 411.7,322.5 411.7,323.1 411.7,323.7 411.7,324.3 411.7,324.9 411.7,325.5 411.7,326.1 411.7,326.7 411.7,327.4 411.7,328 411.6,328.6 411.6,329.2 411.6,329.8 411.6,330.4 411.6,331 411.6,331.6 411.6,332.2 411.6,332.2 411.6,332.8 411.6,333.4 411.6,334 411.6,334.6 411.6,335.2 411.6,335.8 411.6,336.4 411.6,337 411.5,337.6 411.5,338.2 411.5,338.8 411.5,339.4 411.5,340 411.5,340.6 411.5,341.2 411.5,341.9 411.5,342.5 411.4,343.1 411.4,343.7 411.4,344.3 411.4,344.9 411.4,345.5 411.4,346.1 411.4,346.7 411.4,347.3 411.3,347.9 411.3,348.5 411.3,349.1 411.3,349.7 411.3,350.3 411.3,350.9 411.2,351.5 411.2,352.1 411.2,352.7 411.2,353.3 411.2,353.9 411.2,354.5 411.1,355.1 411.1,355.7 411.1,356.4 411.1,357 411.1,357.6 411,358.2 411,358.8 411,359.4 411,360 411,360.6 411,361.2 410.9,361.8 410.9,362.4 410.9,362.5 410.9,363 410.9,363.6 410.9,364.2 410.8,364.8 410.8,365.4 410.8,366 410.8,366.6 410.7,367.2 410.7,367.8 410.7,368.4 410.7,369 410.6,369.6 410.6,370.2 410.6,370.9 410.6,371.5 410.5,372.1 410.5,372.7 410.5,373.3 410.4,373.9 410.4,374.5 410.4,375.1 410.4,375.7 410.3,376.3 410.3,376.9 410.3,377.5 410.2,378.1 410.2,378.7 410.2,379.3 410.1,379.9 410.1,380.5 410.1,381.1 410.1,381.7 410,382.3 410,382.9 410,383.5 409.9,384.1 409.9,384.5 409.9,384.7 409.9,385.4 409.8,386 409.8,386.6 409.8,387.2 409.8,387.8 409.7,388.4 409.7,389 409.7,389.6 409.7,390.2 409.6,390.8 409.6,391.4 409.6,392 409.5,392.6 409.5,393.2 409.5,393.8 409.5,394.4 409.4,395 409.4,395.6 409.4,396.2 409.3,396.8 409.3,397.4 409.2,398 409.2,398.6 409.2,399.2 409.1,399.8 409.1,399.9 409.1,400.5 409,401.1 409,401.7 408.9,402.3 408.9,402.9 408.8,403.5 408.8,404.1 408.7,404.7 408.7,405.3 408.6,405.9 408.5,406.5 408.5,407.1 408.4,407.7 408.3,408.3 408.3,408.9 408.2,409.5 408.1,410.1 408,410.7 408,411.3 407.9,411.9 407.8,412.5 407.7,413.1 407.6,413.7 407.5,414.3 407.4,415 407.3,415.6 407.2,416.2 407.1,416.8 407,417.4 406.9,417.6 406.8,418 406.7,418.6 406.5,419.2 406.3,419.8 406.1,420.4 405.8,421 405.5,421.6 405.3,422.2 405,422.8 404.7,423.4 404.4,424 404.1,424.6 403.8,425.2 403.6,425.8 403.3,426.4 403,427 402.8,427.6 402.6,428.2 402.5,428.5 402.4,428.8 402.2,429.5 402,430.1 401.8,430.7 401.6,431.3 401.4,431.9 401.2,432.5 401,433.1 400.9,433.7 400.8,434.3 400.8,434.9 400.8,434.9 400.8,435.5 400.8,436.1 400.8,436.7 400.8,437.3 400.8,437.9 400.8,438.5 400.8,439.1 400.9,439.7 400.9,440.3 400.9,440.9 400.9,441.5 423.5,441.5 423.5,440.9 423.6,440.3 423.6,439.7 423.6,439.1 423.6,438.5 423.6,437.9 423.6,437.3 423.6,436.7 423.6,436.1 423.6,435.5 423.6,434.9 423.6,434.9 423.6,434.3 423.5,433.7 423.4,433.1 423.2,432.5 423.1,431.9 422.9,431.3 422.7,430.7 422.4,430.1 422.2,429.5 422,428.8 421.9,428.5 421.8,428.2 421.6,427.6 421.4,427 421.1,426.4 420.9,425.8 420.6,425.2 420.3,424.6 420,424 419.7,423.4 419.4,422.8 419.2,422.2 418.9,421.6 418.6,421 418.4,420.4 418.2,419.8 417.9,419.2 417.8,418.6 417.6,418 417.5,417.6 417.5,417.4 417.4,416.8 417.2,416.2 417.1,415.6 417,415 416.9,414.3 416.8,413.7 416.7,413.1 416.7,412.5 416.6,411.9 416.5,411.3 416.4,410.7 416.3,410.1 416.2,409.5 416.2,408.9 416.1,408.3 416,407.7 416,407.1 415.9,406.5 415.8,405.9 415.8,405.3 415.7,404.7 415.7,404.1 415.6,403.5 415.6,402.9 415.5,402.3 415.5,401.7 415.4,401.1 415.4,400.5 415.3,399.9 415.3,399.8 415.3,399.2 415.2,398.6 415.2,398 415.2,397.4 415.1,396.8 415.1,396.2 415,395.6 415,395 415,394.4 415,393.8 414.9,393.2 414.9,392.6 414.9,392 414.8,391.4 414.8,390.8 414.8,390.2 414.7,389.6 414.7,389 414.7,388.4 414.7,387.8 414.6,387.2 414.6,386.6 414.6,386 414.6,385.4 414.5,384.7 414.5,384.5 414.5,384.1 414.5,383.5 414.4,382.9 414.4,382.3 414.4,381.7 414.3,381.1 414.3,380.5 414.3,379.9 414.3,379.3 414.2,378.7 414.2,378.1 414.2,377.5 414.1,376.9 414.1,376.3 414.1,375.7 414,375.1 414,374.5 414,373.9 414,373.3 413.9,372.7 413.9,372.1 413.9,371.5 413.8,370.9 413.8,370.2 413.8,369.6 413.8,369 413.7,368.4 413.7,367.8 413.7,367.2 413.7,366.6 413.6,366 413.6,365.4 413.6,364.8 413.6,364.2 413.6,363.6 413.5,363 413.5,362.5 413.5,362.4 413.5,361.8 413.5,361.2 413.5,360.6 413.4,360 413.4,359.4 413.4,358.8 413.4,358.2 413.4,357.6 413.3,357 413.3,356.4 413.3,355.7 413.3,355.1 413.3,354.5 413.3,353.9 413.2,353.3 413.2,352.7 413.2,352.1 413.2,351.5 413.2,350.9 413.2,350.3 413.1,349.7 413.1,349.1 413.1,348.5 413.1,347.9 413.1,347.3 413.1,346.7 413.1,346.1 413,345.5 413,344.9 413,344.3 413,343.7 413,343.1 413,342.5 413,341.9 412.9,341.2 412.9,340.6 412.9,340 412.9,339.4 412.9,338.8 412.9,338.2 412.9,337.6 412.9,337 412.9,336.4 412.9,335.8 412.8,335.2 412.8,334.6 412.8,334 412.8,333.4 412.8,332.8 412.8,332.2 412.8,332.2 412.8,331.6 412.8,331 412.8,330.4 412.8,329.8 412.8,329.2 412.8,328.6 412.8,328 412.8,327.4 412.8,326.7 412.8,326.1 412.8,325.5 412.8,324.9 412.7,324.3 412.7,323.7 412.7,323.1 412.7,322.5 412.7,321.9 412.7,321.3 412.7,320.7 412.7,320.1 412.7,319.5 412.7,318.9 412.7,318.3 412.7,317.7 412.7,317.1 412.7,316.5 412.7,315.9 412.7,315.3 412.7,314.7 412.7,314.1 412.7,313.5 412.7,312.9 412.7,312.2 412.7,311.6 412.7,311 412.6,310.4 412.6,309.8 412.6,309.2 412.6,308.6 412.6,308 412.6,307.4 412.6,306.8 412.6,306.2 412.6,305.6 412.6,305 412.6,304.4 412.6,303.8 412.6,303.2 412.6,302.6 412.6,302 412.6,301.4 412.6,300.8 412.6,300.2 412.6,299.6 412.6,299 412.6,298.4 412.6,297.7 412.6,297.1 412.6,296.5 412.6,295.9 412.6,295.3 412.6,294.7 412.6,294.1 412.6,293.5 412.6,292.9 412.6,292.3 412.6,291.7 412.6,291.1 412.6,290.5 412.6,289.9 412.6,289.3 412.6,288.7 412.6,288.1 412.6,287.5 412.6,286.9 412.6,286.3 412.6,285.7 412.6,285.1Z" fill="#3b913b" stroke="#3d3d3d" stroke-width="1.5" stroke-linejoin="round"/>
<line x1="412.22" y1="441.54" x2="412.22" y2="351.12" stroke="#3d3d3d" stroke-width="1.35" />
<line x1="412.22" y1="439.46" x2="412.22" y2="400.95" stroke="#3d3d3d" stroke-width="4.0" />
<circle cx="412.22" cy="426.62" r="0.8" fill="#b4b4b4"/>
<path d="M445.5,359.2 445.5,359.8 445.5,360.5 445.4,361.1 445.4,361.7 445.3,362.3 445.2,362.9 445.2,363.5 445.1,364.1 445.1,364.7 445,365.3 444.9,365.9 444.8,366.5 444.8,367.1 444.7,367.7 444.6,368.1 444.6,368.3 444.5,368.9 444.5,369.5 444.4,370.1 444.3,370.7 444.2,371.3 444.1,371.9 444,372.6 443.9,373.2 443.8,373.8 443.7,374.4 443.6,375 443.5,375.6 443.4,376.2 443.3,376.8 443.2,377.4 443,377.9 443,378 442.9,378.6 442.8,379.2 442.6,379.8 442.5,380.4 442.4,381 442.2,381.6 442.1,382.2 441.9,382.8 441.7,383.4 441.6,384.1 441.4,384.7 441.3,385.3 441.1,385.9 440.9,386.5 440.8,387.1 440.6,387.7 440.4,388.3 440.3,388.9 440.1,389.5 440,390.1 439.8,390.7 439.8,391.1 439.7,391.3 439.6,391.9 439.4,392.5 439.3,393.1 439.1,393.7 439,394.3 438.8,394.9 438.7,395.5 438.5,396.2 438.4,396.8 438.3,397.4 438.1,398 438,398.6 437.9,399.2 437.7,399.8 437.6,400.4 437.5,401 437.4,401.6 437.3,402.2 437.2,402.8 437.1,403.4 437.1,404 437,404.4 437,404.6 437,405.2 436.9,405.8 436.9,406.4 436.8,407 436.8,407.7 436.7,408.3 436.7,408.9 436.7,409.5 436.6,410.1 436.6,410.7 436.6,411.3 436.5,411.9 436.5,412.5 436.5,413.1 436.5,413.7 436.5,414.3 436.5,414.9 436.4,415.3 436.5,415.5 436.5,416.1 436.5,416.7 436.6,417.3 436.6,417.9 436.7,418.5 436.8,419.1 436.9,419.8 437,420.4 437.1,421 437.2,421.6 437.3,422.2 437.4,422.8 437.5,423.4 437.6,424 437.7,424.6 437.8,425.2 437.9,425.8 437.9,426.4 438,427 438,427.6 438,428.2 438,428.5 438,428.8 438,429.4 438,430 438,430.6 437.9,431.2 437.9,431.9 437.8,432.5 437.8,433.1 437.7,433.7 437.7,434.3 437.6,434.9 437.6,435.5 437.6,436.1 437.6,436.7 437.6,437.3 437.5,437.4 437.6,437.9 437.6,438.5 437.6,439.1 437.7,439.7 437.7,440.3 437.8,440.9 437.8,441.5 453.4,441.5 453.5,440.9 453.6,440.3 453.6,439.7 453.7,439.1 453.7,438.5 453.7,437.9 453.8,437.4 453.7,437.3 453.7,436.7 453.7,436.1 453.7,435.5 453.7,434.9 453.6,434.3 453.6,433.7 453.5,433.1 453.5,432.5 453.4,431.9 453.4,431.2 453.3,430.6 453.3,430 453.3,429.4 453.3,428.8 453.2,428.5 453.3,428.2 453.3,427.6 453.3,427 453.4,426.4 453.4,425.8 453.5,425.2 453.6,424.6 453.7,424 453.8,423.4 453.9,422.8 454,422.2 454.1,421.6 454.2,421 454.3,420.4 454.4,419.8 454.5,419.1 454.6,418.5 454.7,417.9 454.7,417.3 454.8,416.7 454.8,416.1 454.8,415.5 454.8,415.3 454.8,414.9 454.8,414.3 454.8,413.7 454.8,413.1 454.8,412.5 454.8,411.9 454.7,411.3 454.7,410.7 454.7,410.1 454.6,409.5 454.6,408.9 454.6,408.3 454.5,407.7 454.5,407 454.4,406.4 454.4,405.8 454.3,405.2 454.3,404.6 454.2,404.4 454.2,404 454.2,403.4 454.1,402.8 454,402.2 453.9,401.6 453.8,401 453.7,400.4 453.6,399.8 453.4,399.2 453.3,398.6 453.2,398 453,397.4 452.9,396.8 452.8,396.2 452.6,395.5 452.5,394.9 452.3,394.3 452.2,393.7 452,393.1 451.9,392.5 451.7,391.9 451.6,391.3 451.5,391.1 451.5,390.7 451.3,390.1 451.2,389.5 451,388.9 450.9,388.3 450.7,387.7 450.5,387.1 450.4,386.5 450.2,385.9 450,385.3 449.9,384.7 449.7,384.1 449.6,383.4 449.4,382.8 449.2,382.2 449.1,381.6 448.9,381 448.8,380.4 448.7,379.8 448.5,379.2 448.4,378.6 448.3,378 448.2,377.9 448.1,377.4 448,376.8 447.9,376.2 447.8,375.6 447.7,375 447.6,374.4 447.5,373.8 447.4,373.2 447.3,372.6 447.2,371.9 447.1,371.3 447,370.7 446.9,370.1 446.8,369.5 446.8,368.9 446.7,368.3 446.6,368.1 446.6,367.7 446.5,367.1 446.5,366.5 446.4,365.9 446.3,365.3 446.2,364.7 446.2,364.1 446.1,363.5 446.1,362.9 446,362.3 445.9,361.7 445.9,361.1 445.8,360.5 445.8,359.8 445.8,359.2Z" fill="#3b913b" stroke="#3d3d3d" stroke-width="1.5" stroke-linejoin="round"/>
<line x1="445.65" y1="441.54" x2="445.65" y2="366.23" stroke="#3d3d3d" stroke-width="1.35" />
<line x1="445.65" y1="433.99" x2="445.65" y2="404.35" stroke="#3d3d3d" stroke-width="4.0" />
<circle cx="445.65" cy="415.3" r="0.8" fill="#b4b4b4"/>
<path d="M479,377.6 478.9,378.2 478.7,378.8 478.6,379.4 478.5,380 478.3,380.6 478.2,381.2 478,381.8 477.9,382.4 477.7,383 477.7,383.2 477.6,383.6 477.4,384.3 477.2,384.9 477.1,385.5 476.9,386.1 476.7,386.7 476.5,387.3 476.3,387.9 476.1,388.5 476,388.9 475.9,389.1 475.7,389.7 475.5,390.3 475.2,391 475,391.6 474.8,392.2 474.5,392.8 474.3,393.4 474,394 473.8,394.6 473.5,395.2 473.3,395.8 473,396.4 472.7,397.1 472.5,397.7 472.2,398.3 472,398.9 471.7,399.5 471.6,399.8 471.5,400.1 471.2,400.7 470.9,401.3 470.6,401.9 470.2,402.5 469.9,403.1 469.6,403.8 469.2,404.4 468.9,405 468.6,405.6 468.2,406.2 468,406.8 467.7,407.4 467.5,408 467.3,408.6 467.1,409.2 467,409.8 466.9,410.5 466.9,411 466.9,411.1 466.9,411.7 466.9,412.3 466.9,412.9 467,413.5 467,414.1 467.1,414.7 467.2,415.3 467.3,415.9 467.4,416.6 467.5,417.2 467.6,417.8 467.7,418.4 467.8,419 467.9,419.6 467.9,419.6 468,420.2 468.2,420.8 468.4,421.4 468.7,422 469.1,422.6 469.4,423.3 469.8,423.9 470.2,424.5 470.6,425.1 471,425.7 471.4,426.3 471.8,426.9 472.2,427.5 472.6,428.1 472.9,428.7 473.2,429.3 473.5,430 473.7,430.6 473.8,430.8 473.9,431.2 474.1,431.8 474.3,432.4 474.4,433 474.6,433.6 474.8,434.2 474.9,434.8 475.1,435.4 475.2,436.1 475.3,436.7 475.4,437.3 475.5,437.9 475.6,438.5 475.7,439.1 475.7,439.5 475.7,439.7 475.7,440.3 475.8,440.9 475.8,441.5 482.4,441.5 482.4,440.9 482.4,440.3 482.5,439.7 482.5,439.5 482.5,439.1 482.6,438.5 482.7,437.9 482.7,437.3 482.9,436.7 483,436.1 483.1,435.4 483.2,434.8 483.4,434.2 483.6,433.6 483.7,433 483.9,432.4 484.1,431.8 484.3,431.2 484.4,430.8 484.5,430.6 484.7,430 485,429.3 485.3,428.7 485.6,428.1 486,427.5 486.4,426.9 486.8,426.3 487.2,425.7 487.6,425.1 488,424.5 488.4,423.9 488.8,423.3 489.1,422.6 489.4,422 489.7,421.4 490,420.8 490.2,420.2 490.3,419.6 490.3,419.6 490.4,419 490.5,418.4 490.6,417.8 490.7,417.2 490.8,416.6 490.9,415.9 491,415.3 491.1,414.7 491.1,414.1 491.2,413.5 491.2,412.9 491.3,412.3 491.3,411.7 491.3,411.1 491.3,411 491.3,410.5 491.2,409.8 491.1,409.2 490.9,408.6 490.7,408 490.5,407.4 490.2,406.8 489.9,406.2 489.6,405.6 489.3,405 488.9,404.4 488.6,403.8 488.3,403.1 487.9,402.5 487.6,401.9 487.3,401.3 487,400.7 486.7,400.1 486.6,399.8 486.4,399.5 486.2,398.9 485.9,398.3 485.7,397.7 485.4,397.1 485.2,396.4 484.9,395.8 484.6,395.2 484.4,394.6 484.1,394 483.9,393.4 483.6,392.8 483.4,392.2 483.2,391.6 482.9,391 482.7,390.3 482.5,389.7 482.3,389.1 482.2,388.9 482.1,388.5 481.9,387.9 481.7,387.3 481.5,386.7 481.3,386.1 481.1,385.5 480.9,384.9 480.8,384.3 480.6,383.6 480.5,383.2 480.4,383 480.3,382.4 480.1,381.8 480,381.2 479.8,380.6 479.7,380 479.6,379.4 479.4,378.8 479.3,378.2 479.2,377.6Z" fill="#3b913b" stroke="#3d3d3d" stroke-width="1.5" stroke-linejoin="round"/>
<line x1="479.08" y1="439.84" x2="479.08" y2="383.21" stroke="#3d3d3d" stroke-width="1.35" />
<line x1="479.08" y1="427.38" x2="479.08" y2="408.69" stroke="#3d3d3d" stroke-width="4.0" />
<circle cx="479.08" cy="415.3" r="0.8" fill="#b4b4b4"/>
<line x1="395.5" y1="407.75" x2="495.8" y2="407.75" stroke="#90ee90" stroke-width="2" />
</g>
<rect x="395.5" y="294.5" width="100.3" height="151" fill="none" stroke="#3a3a3a" stroke-width="1"/>
<line x1="392.5" y1="445.5" x2="395.5" y2="445.5" stroke="#1a1a1a" stroke-width="1" />
<line x1="392.5" y1="426.62" x2="395.5" y2="426.62" stroke="#1a1a1a" stroke-width="1" />
<line x1="392.5" y1="407.75" x2="395.5" y2="407.75" stroke="#1a1a1a" stroke-width="1" />
<line x1="392.5" y1="388.88" x2="395.5" y2="388.88" stroke="#1a1a1a" stroke-width="1" />
<line x1="392.5" y1="370" x2="395.5" y2="370" stroke="#1a1a1a" stroke-width="1" />
<line x1="392.5" y1="351.12" x2="395.5" y2="351.12" stroke="#1a1a1a" stroke-width="1" />
<line x1="392.5" y1="332.25" x2="395.5" y2="332.25" stroke="#1a1a1a" stroke-width="1" />
<line x1="392.5" y1="313.38" x2="395.5" y2="313.38" stroke="#1a1a1a" stroke-width="1" />
<line x1="392.5" y1="294.5" x2="395.5" y2="294.5" stroke="#1a1a1a" stroke-width="1" />
<line x1="412.22" y1="445.5" x2="412.22" y2="448.1" stroke="#1a1a1a" stroke-width="1" />
<line x1="445.65" y1="445.5" x2="445.65" y2="448.1" stroke="#1a1a1a" stroke-width="1" />
<line x1="479.08" y1="445.5" x2="479.08" y2="448.1" stroke="#1a1a1a" stroke-width="1" />
<text x="413.22" y="460" font-size="11" font-weight="400" text-anchor="middle" fill="#000" >1000</text>
<text x="446.65" y="460" font-size="11" font-weight="400" text-anchor="middle" fill="#000" >5000</text>
<text x="480.08" y="460" font-size="11" font-weight="400" text-anchor="middle" fill="#000" >10000</text>
<clipPath id="va7"><rect x="521.4" y="294.5" width="100" height="151"/></clipPath>
<g clip-path="url(#va7)">
<path d="M538,388.9 537.9,389.5 537.8,390.1 537.6,390.7 537.4,391.3 537.2,392 537,392.6 536.8,393 536.7,393.2 536.3,393.8 535.8,394.4 535.3,395.1 534.7,395.7 534.2,396.3 533.7,396.9 533.7,397 533.3,397.5 533,398.1 532.6,398.8 532.3,399.4 532,400 531.9,400.6 531.9,401 531.9,401.2 531.9,401.8 532,402.5 532.1,403.1 532.3,403.7 532.4,404.3 532.6,404.9 532.6,404.9 532.8,405.6 533,406.2 533.3,406.8 533.6,407.4 534,408 534.3,408.6 534.6,409.3 534.8,409.9 534.9,410 535,410.5 535.2,411.1 535.4,411.7 535.6,412.3 535.7,413 535.9,413.6 536,414.2 536.2,414.8 536.3,415.4 536.4,416.1 536.6,416.7 536.7,417.3 536.8,417.9 536.8,417.9 536.9,418.5 536.9,419.1 537,419.8 537.1,420.4 537.2,421 537.3,421.6 537.4,422.2 537.4,422.8 537.5,423.5 537.6,424.1 537.6,424.7 537.7,425.3 537.8,425.9 537.8,426.6 537.9,427.2 537.9,427.8 537.9,428.4 538,429 538,429.6 538.2,429.6 538.2,429 538.2,428.4 538.2,427.8 538.3,427.2 538.3,426.6 538.4,425.9 538.4,425.3 538.5,424.7 538.5,424.1 538.6,423.5 538.7,422.8 538.8,422.2 538.8,421.6 538.9,421 539,420.4 539.1,419.8 539.2,419.1 539.3,418.5 539.4,417.9 539.4,417.9 539.5,417.3 539.6,416.7 539.7,416.1 539.8,415.4 539.9,414.8 540.1,414.2 540.2,413.6 540.4,413 540.6,412.3 540.7,411.7 540.9,411.1 541.1,410.5 541.3,410 541.3,409.9 541.6,409.3 541.8,408.6 542.2,408 542.5,407.4 542.8,406.8 543.1,406.2 543.4,405.6 543.6,404.9 543.6,404.9 543.7,404.3 543.9,403.7 544,403.1 544.1,402.5 544.2,401.8 544.3,401.2 544.3,401 544.2,400.6 544.1,400 543.9,399.4 543.5,398.8 543.2,398.1 542.8,397.5 542.5,397 542.4,396.9 542,396.3 541.4,395.7 540.9,395.1 540.3,394.4 539.8,393.8 539.4,393.2 539.4,393 539.2,392.6 538.9,392 538.7,391.3 538.5,390.7 538.3,390.1 538.2,389.5 538.2,388.9Z" fill="#3274a1" stroke="#3f3f3f" stroke-width="1.5" stroke-linejoin="round"/>
<line x1="538.07" y1="422.85" x2="538.07" y2="390.76" stroke="#3f3f3f" stroke-width="1.35" />
<line x1="538.07" y1="407.75" x2="538.07" y2="398.31" stroke="#3f3f3f" stroke-width="4.0" />
<circle cx="538.07" cy="404.16" r="0.8" fill="#b4b4b4"/>
<path d="M571.3,396.4 570.7,397 570.1,397.7 569.5,398.3 568.9,398.9 568.3,399.5 567.7,400.1 567.1,400.7 566.9,401 566.5,401.4 565.8,402 565.1,402.6 564.4,403.2 563.8,403.8 563.2,404.4 562.7,405 562.4,405.7 562.3,406.2 562.3,406.3 562.4,406.9 562.6,407.5 563,408.1 563.4,408.7 563.9,409.4 564.5,410 565,410.6 565.5,411.2 565.6,411.3 566,411.8 566.6,412.4 567.2,413.1 567.8,413.7 568.3,414.3 568.8,414.9 569.1,415.3 569.2,415.5 569.6,416.1 570,416.8 570.3,417.4 570.6,418 570.9,418.6 571.1,419.2 571.3,419.8 571.5,419.8 571.7,419.2 571.9,418.6 572.2,418 572.5,417.4 572.8,416.8 573.2,416.1 573.6,415.5 573.7,415.3 574,414.9 574.5,414.3 575,413.7 575.6,413.1 576.2,412.4 576.8,411.8 577.2,411.3 577.3,411.2 577.8,410.6 578.3,410 578.9,409.4 579.4,408.7 579.8,408.1 580.2,407.5 580.4,406.9 580.5,406.3 580.5,406.2 580.4,405.7 580.1,405 579.6,404.4 579,403.8 578.4,403.2 577.7,402.6 577,402 576.3,401.4 575.9,401 575.7,400.7 575.1,400.1 574.5,399.5 573.9,398.9 573.3,398.3 572.7,397.7 572.1,397 571.5,396.4Z" fill="#3274a1" stroke="#3f3f3f" stroke-width="1.5" stroke-linejoin="round"/>
<line x1="571.4" y1="419.07" x2="571.4" y2="397.37" stroke="#3f3f3f" stroke-width="1.35" />
<line x1="571.4" y1="411.34" x2="571.4" y2="400.95" stroke="#3f3f3f" stroke-width="4.0" />
<circle cx="571.4" cy="405.49" r="0.8" fill="#b4b4b4"/>
<path d="M604.6,396.4 603.8,397.1 603,397.7 602.2,398.3 601.4,398.9 600.6,399.6 599.8,400.2 599.1,400.8 598.9,401 598.2,401.5 597.3,402.1 596.3,402.7 595.3,403.4 594.4,404 593.6,404.6 593,405.3 592.7,405.9 592.6,406.2 592.7,406.5 593,407.2 593.5,407.8 594.3,408.4 595.1,409 595.8,409.7 596.2,410 596.6,410.3 597.3,410.9 598.2,411.6 599,412.2 599.9,412.8 600.8,413.5 601.4,414 601.6,414.1 602.4,414.7 603.1,415.4 603.9,416 604.6,416.6 604.8,416.6 605.6,416 606.3,415.4 607.1,414.7 607.9,414.1 608,414 608.7,413.5 609.6,412.8 610.4,412.2 611.3,411.6 612.1,410.9 612.9,410.3 613.2,410 613.6,409.7 614.4,409 615.2,408.4 615.9,407.8 616.5,407.2 616.8,406.5 616.8,406.2 616.8,405.9 616.4,405.3 615.9,404.6 615.1,404 614.1,403.4 613.2,402.7 612.2,402.1 611.2,401.5 610.5,401 610.4,400.8 609.6,400.2 608.8,399.6 608,398.9 607.3,398.3 606.5,397.7 605.6,397.1 604.8,396.4Z" fill="#3274a1" stroke="#3f3f3f" stroke-width="1.5" stroke-linejoin="round"/>
<line x1="604.73" y1="416.24" x2="604.73" y2="397.37" stroke="#3f3f3f" stroke-width="1.35" />
<line x1="604.73" y1="411.34" x2="604.73" y2="402.28" stroke="#3f3f3f" stroke-width="4.0" />
<circle cx="604.73" cy="406.24" r="0.8" fill="#b4b4b4"/>
<line x1="521.4" y1="407.75" x2="621.4" y2="407.75" stroke="#b0c4de" stroke-width="2" />
</g>
<rect x="521.4" y="294.5" width="100" height="151" fill="none" stroke="#3a3a3a" stroke-width="1"/>
<line x1="518.4" y1="445.5" x2="521.4" y2="445.5" stroke="#1a1a1a" stroke-width="1" />
<line x1="518.4" y1="426.62" x2="521.4" y2="426.62" stroke="#1a1a1a" stroke-width="1" />
<line x1="518.4" y1="407.75" x2="521.4" y2="407.75" stroke="#1a1a1a" stroke-width="1" />
<line x1="518.4" y1="388.88" x2="521.4" y2="388.88" stroke="#1a1a1a" stroke-width="1" />
<line x1="518.4" y1="370" x2="521.4" y2="370" stroke="#1a1a1a" stroke-width="1" />
<line x1="518.4" y1="351.12" x2="521.4" y2="351.12" stroke="#1a1a1a" stroke-width="1" />
<line x1="518.4" y1="332.25" x2="521.4" y2="332.25" stroke="#1a1a1a" stroke-width="1" />
<line x1="518.4" y1="313.38" x2="521.4" y2="313.38" stroke="#1a1a1a" stroke-width="1" />
<line x1="518.4" y1="294.5" x2="521.4" y2="294.5" stroke="#1a1a1a" stroke-width="1" />
<line x1="538.07" y1="445.5" x2="538.07" y2="448.1" stroke="#1a1a1a" stroke-width="1" />
<line x1="571.4" y1="445.5" x2="571.4" y2="448.1" stroke="#1a1a1a" stroke-width="1" />
<line x1="604.73" y1="445.5" x2="604.73" y2="448.1" stroke="#1a1a1a" stroke-width="1" />
<text x="539.07" y="460" font-size="11" font-weight="400" text-anchor="middle" fill="#000" >1000</text>
<text x="572.4" y="460" font-size="11" font-weight="400" text-anchor="middle" fill="#000" >5000</text>
<text x="605.73" y="460" font-size="11" font-weight="400" text-anchor="middle" fill="#000" >10000</text>
<clipPath id="va8"><rect x="660.7" y="294.5" width="100.4" height="151"/></clipPath>
<g clip-path="url(#va8)">
<path d="M677.3,419 677.2,419.7 677,420.3 676.9,421 676.7,421.6 676.5,422 676.4,422.3 676.2,422.9 676,423.6 675.6,424.3 675.4,424.5 674.4,424.9 673.7,425.3 674,425.6 675.2,426.2 675.2,426.3 674.3,426.9 673.7,427.3 674,427.5 675.4,428.2 675.5,428.3 676,428.9 676.4,429.5 676.6,430 676.7,430.2 677.1,430.8 677.3,431.5 677.5,431.5 677.8,430.8 678.1,430.2 678.2,430 678.5,429.5 678.9,428.9 679.3,428.3 679.5,428.2 680.9,427.5 681.1,427.3 680.6,426.9 679.6,426.3 679.7,426.2 680.9,425.6 681.1,425.3 680.4,424.9 679.4,424.5 679.3,424.3 678.9,423.6 678.6,422.9 678.4,422.3 678.3,422 678.2,421.6 678,421 677.8,420.3 677.7,419.7 677.5,419Z" fill="#3274a1" stroke="#3f3f3f" stroke-width="1.5" stroke-linejoin="round"/>
<line x1="677.43" y1="430.4" x2="677.43" y2="420.02" stroke="#3f3f3f" stroke-width="1.35" />
<line x1="677.43" y1="427.57" x2="677.43" y2="424.36" stroke="#3f3f3f" stroke-width="4.0" />
<circle cx="677.43" cy="425.3" r="0.8" fill="#b4b4b4"/>
<path d="M710.8,422.8 710.6,423.6 710.1,424.4 710,424.5 709.4,425 705.5,425.1 700.7,425.3 704.7,425.6 705,425.9 705.3,426.6 705.5,426.7 708.9,427.1 710.8,427.5 711,427.5 712.9,427.1 716.3,426.7 716.5,426.6 716.8,425.9 717.1,425.6 721.1,425.3 716.3,425.1 712.4,425 711.8,424.5 711.7,424.4 711.2,423.6 711,422.8Z" fill="#3274a1" stroke="#3f3f3f" stroke-width="1.5" stroke-linejoin="round"/>
<line x1="710.9" y1="427.57" x2="710.9" y2="423.23" stroke="#3f3f3f" stroke-width="1.35" />
<line x1="710.9" y1="426.81" x2="710.9" y2="425.12" stroke="#3f3f3f" stroke-width="4.0" />
<circle cx="710.9" cy="425.87" r="0.8" fill="#b4b4b4"/>
<path d="M744.3,422.8 744.1,423.6 743.6,424.4 743.5,424.5 742.9,425 737.6,425.1 731.2,425.3 738.6,425.6 738.9,425.9 739.4,426.6 739.6,426.7 742.4,427.1 744.3,427.5 744.5,427.5 746.4,427.1 749.2,426.7 749.4,426.6 749.8,425.9 750.2,425.6 757.6,425.3 751.1,425.1 745.9,425 745.3,424.5 745.2,424.4 744.7,423.6 744.5,422.8Z" fill="#3274a1" stroke="#3f3f3f" stroke-width="1.5" stroke-linejoin="round"/>
<line x1="744.37" y1="427.57" x2="744.37" y2="423.23" stroke="#3f3f3f" stroke-width="1.35" />
<line x1="744.37" y1="426.81" x2="744.37" y2="425.12" stroke="#3f3f3f" stroke-width="4.0" />
<circle cx="744.37" cy="425.87" r="0.8" fill="#b4b4b4"/>
<line x1="660.7" y1="407.75" x2="761.1" y2="407.75" stroke="#b0c4de" stroke-width="2" />
</g>
<rect x="660.7" y="294.5" width="100.4" height="151" fill="none" stroke="#3a3a3a" stroke-width="1"/>
<line x1="657.7" y1="445.5" x2="660.7" y2="445.5" stroke="#1a1a1a" stroke-width="1" />
<line x1="657.7" y1="426.62" x2="660.7" y2="426.62" stroke="#1a1a1a" stroke-width="1" />
<line x1="657.7" y1="407.75" x2="660.7" y2="407.75" stroke="#1a1a1a" stroke-width="1" />
<line x1="657.7" y1="388.88" x2="660.7" y2="388.88" stroke="#1a1a1a" stroke-width="1" />
<line x1="657.7" y1="370" x2="660.7" y2="370" stroke="#1a1a1a" stroke-width="1" />
<line x1="657.7" y1="351.12" x2="660.7" y2="351.12" stroke="#1a1a1a" stroke-width="1" />
<line x1="657.7" y1="332.25" x2="660.7" y2="332.25" stroke="#1a1a1a" stroke-width="1" />
<line x1="657.7" y1="313.38" x2="660.7" y2="313.38" stroke="#1a1a1a" stroke-width="1" />
<line x1="657.7" y1="294.5" x2="660.7" y2="294.5" stroke="#1a1a1a" stroke-width="1" />
<line x1="677.43" y1="445.5" x2="677.43" y2="448.1" stroke="#1a1a1a" stroke-width="1" />
<line x1="710.9" y1="445.5" x2="710.9" y2="448.1" stroke="#1a1a1a" stroke-width="1" />
<line x1="744.37" y1="445.5" x2="744.37" y2="448.1" stroke="#1a1a1a" stroke-width="1" />
<text x="678.43" y="460" font-size="11" font-weight="400" text-anchor="middle" fill="#000" >1000</text>
<text x="711.9" y="460" font-size="11" font-weight="400" text-anchor="middle" fill="#000" >5000</text>
<text x="745.37" y="460" font-size="11" font-weight="400" text-anchor="middle" fill="#000" >10000</text>
<clipPath id="va9"><rect x="266.8" y="541.2" width="100.4" height="151"/></clipPath>
<g clip-path="url(#va9)">
<path d="M279.9,531.8 280,532.4 280,533 280,533.6 280,534.2 280,534.8 280.1,535.4 280.1,536 280.1,536.6 280.1,537.2 280.2,537.8 280.2,538.4 280.2,539 280.3,539.6 280.3,540.2 280.3,540.8 280.3,541.2 280.3,541.4 280.4,542 280.4,542.6 280.4,543.2 280.5,543.8 280.5,544.4 280.6,545 280.6,545.6 280.6,546.2 280.7,546.8 280.7,547.4 280.7,548 280.8,548.6 280.8,548.8 280.8,549.2 280.8,549.8 280.9,550.4 280.9,551 281,551.7 281,552.3 281,552.9 281.1,553.5 281.1,554.1 281.2,554.7 281.2,555.3 281.2,555.9 281.3,556.5 281.3,557.1 281.3,557.7 281.3,558.3 281.3,558.9 281.3,559.5 281.3,559.5 281.3,560.1 281.3,560.7 281.3,561.3 281.3,561.9 281.3,562.5 281.3,563.1 281.3,563.7 281.3,564.3 281.3,564.9 281.3,565.5 281.3,566.1 281.2,566.7 281.2,567.3 281.2,567.9 281.2,568.5 281.2,569.1 281.2,569.7 281.1,570.3 281.1,570.9 281.1,571.5 281.1,572.1 281.1,572.7 281,573.3 281,574 281,574.6 281,575.2 281,575.8 280.9,576.4 280.9,577 280.9,577.6 280.9,578.2 280.9,578.8 280.8,579.4 280.8,580 280.8,580.6 280.8,581 280.8,581.2 280.8,581.8 280.7,582.4 280.7,583 280.7,583.6 280.7,584.2 280.6,584.8 280.6,585.4 280.6,586 280.5,586.6 280.5,587.2 280.5,587.8 280.5,588.4 280.4,589 280.4,589.6 280.4,590.2 280.3,590.8 280.3,591.4 280.3,592 280.2,592.6 280.2,593.2 280.2,593.8 280.1,594.4 280.1,595 280.1,595.6 280,596.3 280,596.9 280,597.5 279.9,598.1 279.9,598.7 279.9,599.3 279.9,599.9 279.8,600.5 279.8,601.1 279.8,601.7 279.8,602.3 279.7,602.7 279.7,602.9 279.7,603.5 279.7,604.1 279.7,604.7 279.6,605.3 279.6,605.9 279.6,606.5 279.6,607.1 279.6,607.7 279.5,608.3 279.5,608.9 279.5,609.5 279.5,610.1 279.5,610.7 279.4,611.3 279.4,611.9 279.4,612.5 279.4,613.1 279.4,613.7 279.4,614.3 279.3,614.9 279.3,615.5 279.3,616.1 279.3,616.7 279.3,617.3 279.2,617.9 279.2,618.5 279.2,619.2 279.2,619.8 279.2,620.4 279.2,621 279.1,621.6 279.1,622.2 279.1,622.8 279.1,623.4 279,624 279,624.2 279,624.6 279,625.2 279,625.8 279,626.4 278.9,627 278.9,627.6 278.9,628.2 278.9,628.8 278.8,629.4 278.8,630 278.8,630.6 278.8,631.2 278.7,631.8 278.7,632.4 278.7,633 278.7,633.6 278.6,634.2 278.6,634.8 278.6,635.4 278.6,636 278.5,636.6 278.5,637.2 278.5,637.8 278.4,638.4 278.4,639 278.4,639.6 278.3,640.2 278.3,640.8 278.2,641.4 278.2,641.5 278.2,642.1 278.1,642.7 278.1,643.3 278,643.9 277.9,644.5 277.9,645.1 277.8,645.7 277.7,646.3 277.6,646.9 277.5,647.5 277.5,648.1 277.4,648.7 277.3,649.3 277.2,649.9 277.1,650.5 277,651.1 276.9,651.7 276.8,652.3 276.7,652.9 276.6,653.5 276.5,654.1 276.4,654.5 276.4,654.7 276.3,655.3 276.2,655.9 276.1,656.5 276,657.1 275.9,657.7 275.8,658.3 275.6,658.9 275.5,659.5 275.4,660.1 275.3,660.7 275.2,661.3 275.1,661.9 274.9,662.5 274.8,663.1 274.8,663.1 274.7,663.8 274.6,664.4 274.4,665 274.3,665.6 274.1,666.2 274,666.8 273.8,667.4 273.7,668 273.6,668.6 273.4,669.2 273.3,669.8 273.2,670.4 273.2,671 273.1,671.6 273.1,671.6 273.1,672.2 273.1,672.8 273.1,673.4 273,674 273,674.6 273,675.2 273,675.8 273,676.4 273,677 273,677.6 272.9,678.2 272.9,678.8 272.9,679.4 272.9,680 272.9,680.3 272.9,680.6 273,681.2 273,681.8 273.1,682.4 273.2,683 273.3,683.6 273.4,684.2 273.5,684.8 273.6,685.4 273.8,686.1 273.9,686.7 274.1,687.3 274.2,687.9 292.8,687.9 293,687.3 293.1,686.7 293.3,686.1 293.4,685.4 293.6,684.8 293.7,684.2 293.8,683.6 293.9,683 294,682.4 294.1,681.8 294.1,681.2 294.1,680.6 294.1,680.3 294.1,680 294.1,679.4 294.1,678.8 294.1,678.2 294.1,677.6 294.1,677 294.1,676.4 294.1,675.8 294.1,675.2 294,674.6 294,674 294,673.4 294,672.8 294,672.2 293.9,671.6 293.9,671.6 293.9,671 293.8,670.4 293.7,669.8 293.6,669.2 293.5,668.6 293.4,668 293.2,667.4 293.1,666.8 292.9,666.2 292.8,665.6 292.6,665 292.5,664.4 292.4,663.8 292.2,663.1 292.2,663.1 292.1,662.5 292,661.9 291.9,661.3 291.8,660.7 291.7,660.1 291.5,659.5 291.4,658.9 291.3,658.3 291.2,657.7 291.1,657.1 291,656.5 290.9,655.9 290.8,655.3 290.7,654.7 290.6,654.5 290.6,654.1 290.5,653.5 290.4,652.9 290.3,652.3 290.2,651.7 290.1,651.1 290,650.5 289.9,649.9 289.8,649.3 289.7,648.7 289.6,648.1 289.5,647.5 289.4,646.9 289.4,646.3 289.3,645.7 289.2,645.1 289.1,644.5 289.1,643.9 289,643.3 288.9,642.7 288.9,642.1 288.8,641.5 288.8,641.4 288.8,640.8 288.8,640.2 288.7,639.6 288.7,639 288.6,638.4 288.6,637.8 288.6,637.2 288.5,636.6 288.5,636 288.5,635.4 288.5,634.8 288.4,634.2 288.4,633.6 288.4,633 288.3,632.4 288.3,631.8 288.3,631.2 288.3,630.6 288.2,630 288.2,629.4 288.2,628.8 288.2,628.2 288.2,627.6 288.1,627 288.1,626.4 288.1,625.8 288.1,625.2 288,624.6 288,624.2 288,624 288,623.4 288,622.8 288,622.2 287.9,621.6 287.9,621 287.9,620.4 287.9,619.8 287.9,619.2 287.8,618.5 287.8,617.9 287.8,617.3 287.8,616.7 287.8,616.1 287.7,615.5 287.7,614.9 287.7,614.3 287.7,613.7 287.7,613.1 287.7,612.5 287.6,611.9 287.6,611.3 287.6,610.7 287.6,610.1 287.6,609.5 287.5,608.9 287.5,608.3 287.5,607.7 287.5,607.1 287.5,606.5 287.4,605.9 287.4,605.3 287.4,604.7 287.4,604.1 287.4,603.5 287.3,602.9 287.3,602.7 287.3,602.3 287.3,601.7 287.3,601.1 287.2,600.5 287.2,599.9 287.2,599.3 287.2,598.7 287.1,598.1 287.1,597.5 287.1,596.9 287,596.3 287,595.6 287,595 286.9,594.4 286.9,593.8 286.9,593.2 286.8,592.6 286.8,592 286.8,591.4 286.7,590.8 286.7,590.2 286.7,589.6 286.6,589 286.6,588.4 286.6,587.8 286.5,587.2 286.5,586.6 286.5,586 286.5,585.4 286.4,584.8 286.4,584.2 286.4,583.6 286.4,583 286.3,582.4 286.3,581.8 286.3,581.2 286.3,581 286.3,580.6 286.2,580 286.2,579.4 286.2,578.8 286.2,578.2 286.2,577.6 286.1,577 286.1,576.4 286.1,575.8 286.1,575.2 286.1,574.6 286,574 286,573.3 286,572.7 286,572.1 286,571.5 285.9,570.9 285.9,570.3 285.9,569.7 285.9,569.1 285.9,568.5 285.9,567.9 285.8,567.3 285.8,566.7 285.8,566.1 285.8,565.5 285.8,564.9 285.8,564.3 285.8,563.7 285.8,563.1 285.8,562.5 285.7,561.9 285.7,561.3 285.7,560.7 285.7,560.1 285.7,559.5 285.7,559.5 285.7,558.9 285.7,558.3 285.8,557.7 285.8,557.1 285.8,556.5 285.8,555.9 285.9,555.3 285.9,554.7 285.9,554.1 286,553.5 286,552.9 286.1,552.3 286.1,551.7 286.1,551 286.2,550.4 286.2,549.8 286.3,549.2 286.3,548.8 286.3,548.6 286.3,548 286.4,547.4 286.4,546.8 286.4,546.2 286.5,545.6 286.5,545 286.5,544.4 286.6,543.8 286.6,543.2 286.7,542.6 286.7,542 286.7,541.4 286.7,541.2 286.8,540.8 286.8,540.2 286.8,539.6 286.8,539 286.9,538.4 286.9,537.8 286.9,537.2 286.9,536.6 287,536 287,535.4 287,534.8 287,534.2 287.1,533.6 287.1,533 287.1,532.4 287.1,531.8Z" fill="#e1822c" stroke="#515151" stroke-width="1.5" stroke-linejoin="round"/>
<line x1="283.53" y1="687.86" x2="283.53" y2="531.76" stroke="#515151" stroke-width="1.35" />
<line x1="283.53" y1="680.31" x2="283.53" y2="598.39" stroke="#515151" stroke-width="4.0" />
<circle cx="283.53" cy="650.11" r="0.8" fill="#b4b4b4"/>
<path d="M316.7,531.8 316.7,532.4 316.7,533 316.7,533.6 316.7,534.2 316.7,534.8 316.7,535.4 316.7,536 316.7,536.6 316.7,537.2 316.7,537.8 316.7,538.4 316.7,539 316.7,539.6 316.7,540.2 316.7,540.8 316.7,541.4 316.7,542 316.7,542.6 316.7,543.2 316.7,543.8 316.7,544.4 316.7,545 316.6,545.6 316.6,546.2 316.6,546.8 316.6,547.4 316.6,548 316.6,548.6 316.6,549.2 316.6,549.8 316.6,550.4 316.6,551 316.6,551.7 316.6,552.3 316.6,552.9 316.6,553.5 316.6,554.1 316.6,554.7 316.6,555.3 316.5,555.9 316.5,556.5 316.5,557.1 316.5,557.7 316.5,558.3 316.5,558.9 316.5,559.5 316.5,559.5 316.5,560.1 316.5,560.7 316.5,561.3 316.4,561.9 316.4,562.5 316.4,563.1 316.4,563.7 316.3,564.3 316.3,564.9 316.3,565.5 316.2,566.1 316.2,566.7 316.2,567.3 316.1,567.9 316.1,568.5 316,569.1 316,569.7 315.9,570.3 315.9,570.9 315.8,571.5 315.8,572.1 315.7,572.7 315.6,573.3 315.6,574 315.5,574.6 315.5,575.2 315.4,575.8 315.4,576.4 315.3,577 315.2,577.6 315.2,578.2 315.1,578.8 315.1,579.4 315,580 314.9,580.6 314.9,581 314.9,581.2 314.8,581.8 314.8,582.4 314.7,583 314.6,583.6 314.5,584.2 314.5,584.8 314.4,585.4 314.3,586 314.2,586.6 314.2,587.2 314.1,587.8 314,588.4 313.9,589 313.8,589.6 313.7,590.2 313.6,590.8 313.5,591.4 313.4,592 313.3,592.6 313.2,593.2 313.2,593.8 313.1,594.4 313,595 312.9,595.6 312.8,596.3 312.7,596.9 312.6,597.5 312.5,598.1 312.4,598.7 312.3,599.3 312.3,599.9 312.2,600.5 312.1,601.1 312,601.7 312,602.3 311.9,602.7 311.9,602.9 311.8,603.5 311.7,604.1 311.7,604.7 311.6,605.3 311.5,605.9 311.5,606.5 311.4,607.1 311.3,607.7 311.3,608.3 311.2,608.9 311.1,609.5 311.1,610.1 311,610.7 310.9,611.3 310.9,611.9 310.8,612.5 310.7,613.1 310.7,613.7 310.6,614.3 310.6,614.9 310.5,615.5 310.4,616.1 310.4,616.7 310.3,617.3 310.3,617.9 310.2,618.5 310.1,619.2 310.1,619.8 310,620.4 310,621 309.9,621.6 309.9,622.2 309.8,622.8 309.8,623.4 309.7,624 309.7,624.2 309.7,624.6 309.6,625.2 309.6,625.8 309.5,626.4 309.5,627 309.4,627.6 309.4,628.2 309.4,628.8 309.3,629.4 309.3,630 309.2,630.6 309.2,631.2 309.2,631.8 309.1,632.4 309.1,633 309.1,633.6 309,634.2 309,634.8 308.9,635.4 308.9,636 308.9,636.6 308.8,637.2 308.8,637.8 308.8,638.4 308.7,639 308.7,639.6 308.6,640.2 308.6,640.8 308.5,641.5 308.5,642.1 308.5,642.7 308.4,643.3 308.4,643.9 308.3,644.5 308.3,645.1 308.2,645.7 308.2,645.8 308.2,646.3 308.1,646.9 308,647.5 308,648.1 307.9,648.7 307.8,649.3 307.8,649.9 307.7,650.5 307.6,651.1 307.6,651.7 307.5,652.3 307.4,652.9 307.3,653.5 307.2,654.1 307.2,654.7 307.1,655.3 307,655.9 306.9,656.5 306.8,657.1 306.7,657.7 306.7,658.3 306.6,658.9 306.5,659.5 306.4,660.1 306.3,660.7 306.2,661.3 306.1,661.9 306.1,662.5 306,663.1 305.9,663.8 305.8,664.4 305.7,665 305.6,665.6 305.6,666.2 305.5,666.8 305.4,667.4 305.4,667.5 305.3,668 305.3,668.6 305.2,669.2 305.1,669.8 305,670.4 304.9,671 304.8,671.6 304.7,672.2 304.6,672.8 304.5,673.4 304.4,674 304.3,674.6 304.3,675.2 304.2,675.8 304.2,676.4 304.1,677 304.1,677.6 304.1,678.2 304.1,678.2 304.1,678.8 304.1,679.4 304.1,680 304.1,680.6 304.1,681.2 304.2,681.8 304.2,682.4 304.2,683 304.3,683.6 304.3,684.2 304.3,684.8 304.4,685.4 304.5,686.1 304.5,686.7 304.6,687.3 304.7,687.9 329.3,687.9 329.4,687.3 329.5,686.7 329.5,686.1 329.6,685.4 329.7,684.8 329.7,684.2 329.7,683.6 329.8,683 329.8,682.4 329.8,681.8 329.9,681.2 329.9,680.6 329.9,680 329.9,679.4 329.9,678.8 329.9,678.2 329.9,678.2 329.9,677.6 329.9,677 329.8,676.4 329.8,675.8 329.7,675.2 329.7,674.6 329.6,674 329.5,673.4 329.4,672.8 329.3,672.2 329.2,671.6 329.1,671 329,670.4 328.9,669.8 328.8,669.2 328.7,668.6 328.7,668 328.6,667.5 328.6,667.4 328.5,666.8 328.4,666.2 328.4,665.6 328.3,665 328.2,664.4 328.1,663.8 328,663.1 327.9,662.5 327.9,661.9 327.8,661.3 327.7,660.7 327.6,660.1 327.5,659.5 327.4,658.9 327.3,658.3 327.3,657.7 327.2,657.1 327.1,656.5 327,655.9 326.9,655.3 326.8,654.7 326.8,654.1 326.7,653.5 326.6,652.9 326.5,652.3 326.4,651.7 326.4,651.1 326.3,650.5 326.2,649.9 326.2,649.3 326.1,648.7 326,648.1 326,647.5 325.9,646.9 325.8,646.3 325.8,645.8 325.8,645.7 325.7,645.1 325.7,644.5 325.6,643.9 325.6,643.3 325.5,642.7 325.5,642.1 325.5,641.5 325.4,640.8 325.4,640.2 325.3,639.6 325.3,639 325.2,638.4 325.2,637.8 325.2,637.2 325.1,636.6 325.1,636 325.1,635.4 325,634.8 325,634.2 324.9,633.6 324.9,633 324.9,632.4 324.8,631.8 324.8,631.2 324.8,630.6 324.7,630 324.7,629.4 324.6,628.8 324.6,628.2 324.6,627.6 324.5,627 324.5,626.4 324.4,625.8 324.4,625.2 324.3,624.6 324.3,624.2 324.3,624 324.2,623.4 324.2,622.8 324.1,622.2 324.1,621.6 324,621 324,620.4 323.9,619.8 323.9,619.2 323.8,618.5 323.7,617.9 323.7,617.3 323.6,616.7 323.6,616.1 323.5,615.5 323.4,614.9 323.4,614.3 323.3,613.7 323.3,613.1 323.2,612.5 323.1,611.9 323.1,611.3 323,610.7 322.9,610.1 322.9,609.5 322.8,608.9 322.7,608.3 322.7,607.7 322.6,607.1 322.5,606.5 322.5,605.9 322.4,605.3 322.3,604.7 322.3,604.1 322.2,603.5 322.1,602.9 322.1,602.7 322,602.3 322,601.7 321.9,601.1 321.8,600.5 321.7,599.9 321.7,599.3 321.6,598.7 321.5,598.1 321.4,597.5 321.3,596.9 321.2,596.3 321.1,595.6 321,595 320.9,594.4 320.8,593.8 320.8,593.2 320.7,592.6 320.6,592 320.5,591.4 320.4,590.8 320.3,590.2 320.2,589.6 320.1,589 320,588.4 319.9,587.8 319.8,587.2 319.8,586.6 319.7,586 319.6,585.4 319.5,584.8 319.5,584.2 319.4,583.6 319.3,583 319.2,582.4 319.2,581.8 319.1,581.2 319.1,581 319.1,580.6 319,580 318.9,579.4 318.9,578.8 318.8,578.2 318.8,577.6 318.7,577 318.6,576.4 318.6,575.8 318.5,575.2 318.5,574.6 318.4,574 318.4,573.3 318.3,572.7 318.2,572.1 318.2,571.5 318.1,570.9 318.1,570.3 318,569.7 318,569.1 317.9,568.5 317.9,567.9 317.8,567.3 317.8,566.7 317.8,566.1 317.7,565.5 317.7,564.9 317.7,564.3 317.6,563.7 317.6,563.1 317.6,562.5 317.6,561.9 317.5,561.3 317.5,560.7 317.5,560.1 317.5,559.5 317.5,559.5 317.5,558.9 317.5,558.3 317.5,557.7 317.5,557.1 317.5,556.5 317.5,555.9 317.4,555.3 317.4,554.7 317.4,554.1 317.4,553.5 317.4,552.9 317.4,552.3 317.4,551.7 317.4,551 317.4,550.4 317.4,549.8 317.4,549.2 317.4,548.6 317.4,548 317.4,547.4 317.4,546.8 317.4,546.2 317.4,545.6 317.3,545 317.3,544.4 317.3,543.8 317.3,543.2 317.3,542.6 317.3,542 317.3,541.4 317.3,540.8 317.3,540.2 317.3,539.6 317.3,539 317.3,538.4 317.3,537.8 317.3,537.2 317.3,536.6 317.3,536 317.3,535.4 317.3,534.8 317.3,534.2 317.3,533.6 317.3,533 317.3,532.4 317.3,531.8Z" fill="#e1822c" stroke="#515151" stroke-width="1.5" stroke-linejoin="round"/>
<line x1="317" y1="687.86" x2="317" y2="560.08" stroke="#515151" stroke-width="1.35" />
<line x1="317" y1="675.97" x2="317" y2="628.59" stroke="#515151" stroke-width="4.0" />
<circle cx="317" cy="654.45" r="0.8" fill="#b4b4b4"/>
<path d="M350.4,567.1 350.3,567.7 350.3,568.3 350.3,568.9 350.2,569.5 350.2,570.1 350.2,570.7 350.1,571.3 350.1,571.9 350.1,572.5 350.1,573.1 350,573.7 350,574.3 350,574.9 349.9,575.5 349.9,576.1 349.9,576.7 349.8,577.3 349.8,577.9 349.8,578.5 349.8,579.1 349.7,579.7 349.7,580.3 349.7,581 349.7,581 349.6,581.6 349.6,582.2 349.6,582.8 349.6,583.4 349.5,584 349.5,584.6 349.5,585.2 349.5,585.8 349.5,586.4 349.4,587 349.4,587.6 349.4,588.2 349.4,588.8 349.3,589.4 349.3,590 349.3,590.6 349.3,591.2 349.2,591.8 349.2,592.4 349.2,593 349.1,593.6 349.1,594.2 349.1,594.8 349,595.4 349,596.1 349,596.1 348.9,596.7 348.8,597.3 348.8,597.9 348.7,598.5 348.5,599.1 348.4,599.7 348.3,600.3 348.1,600.9 347.9,601.5 347.8,602.1 347.6,602.7 347.4,603.3 347.2,603.9 347,604.5 346.8,605.1 346.6,605.7 346.4,606.3 346.2,606.9 346,607.5 345.8,608.1 345.6,608.7 345.4,609.3 345.2,609.9 345.1,610.5 344.9,611.2 344.9,611.2 344.7,611.8 344.6,612.4 344.4,613 344.2,613.6 344.1,614.2 343.9,614.8 343.7,615.4 343.6,616 343.4,616.6 343.2,617.2 343.1,617.8 342.9,618.4 342.7,619 342.6,619.6 342.4,620.2 342.3,620.8 342.1,621.4 342,622 341.8,622.6 341.7,623.2 341.6,623.8 341.5,624.2 341.4,624.4 341.3,625 341.2,625.6 341,626.3 340.9,626.9 340.8,627.5 340.6,628.1 340.5,628.7 340.3,629.3 340.2,629.9 340.1,630.5 340,631.1 339.9,631.7 339.7,632.3 339.6,632.9 339.6,633.5 339.5,634.1 339.4,634.7 339.3,635.3 339.3,635.9 339.3,636.5 339.3,637.1 339.3,637.3 339.3,637.7 339.3,638.3 339.3,638.9 339.3,639.5 339.3,640.1 339.3,640.7 339.3,641.4 339.3,642 339.3,642.6 339.3,643.2 339.3,643.8 339.3,644.4 339.3,645 339.3,645.6 339.3,646.2 339.3,646.8 339.3,647.4 339.3,648 339.3,648.6 339.3,649.2 339.3,649.8 339.3,650.4 339.3,651 339.3,651.6 339.3,652.2 339.3,652.8 339.3,653.4 339.3,654 339.3,654.5 339.3,654.6 339.3,655.2 339.2,655.8 339.2,656.5 339.2,657.1 339.2,657.7 339.1,658.3 339.1,658.9 339.1,659.5 339,660.1 339,660.7 338.9,661.3 338.9,661.9 338.9,662.5 338.8,663.1 338.8,663.7 338.8,664.3 338.7,664.9 338.7,665.5 338.7,666.1 338.7,666.7 338.7,667.3 338.7,667.5 338.7,667.9 338.7,668.5 338.7,669.1 338.7,669.7 338.7,670.3 338.7,670.9 338.7,671.6 338.8,672.2 338.8,672.8 338.8,673.4 338.9,674 338.9,674.6 338.9,675.2 339,675.8 339,676.4 339,677 339.1,677.6 339.1,678.2 339.2,678.8 339.2,679.4 339.2,680 339.3,680.3 339.3,680.6 339.3,681.2 339.4,681.8 339.5,682.4 339.5,683 339.6,683.6 339.7,684.2 339.7,684.8 339.8,685.4 339.9,686 340,686.7 340.1,687.3 340.2,687.9 360.8,687.9 360.9,687.3 360.9,686.7 361,686 361.1,685.4 361.2,684.8 361.3,684.2 361.3,683.6 361.4,683 361.5,682.4 361.5,681.8 361.6,681.2 361.6,680.6 361.7,680.3 361.7,680 361.7,679.4 361.8,678.8 361.8,678.2 361.9,677.6 361.9,677 361.9,676.4 362,675.8 362,675.2 362,674.6 362.1,674 362.1,673.4 362.1,672.8 362.2,672.2 362.2,671.6 362.2,670.9 362.2,670.3 362.2,669.7 362.3,669.1 362.3,668.5 362.3,667.9 362.3,667.5 362.3,667.3 362.3,666.7 362.2,666.1 362.2,665.5 362.2,664.9 362.2,664.3 362.1,663.7 362.1,663.1 362.1,662.5 362,661.9 362,661.3 361.9,660.7 361.9,660.1 361.9,659.5 361.8,658.9 361.8,658.3 361.8,657.7 361.7,657.1 361.7,656.5 361.7,655.8 361.7,655.2 361.7,654.6 361.7,654.5 361.7,654 361.7,653.4 361.7,652.8 361.7,652.2 361.7,651.6 361.7,651 361.7,650.4 361.7,649.8 361.7,649.2 361.7,648.6 361.7,648 361.7,647.4 361.7,646.8 361.7,646.2 361.7,645.6 361.7,645 361.7,644.4 361.7,643.8 361.7,643.2 361.7,642.6 361.7,642 361.7,641.4 361.7,640.7 361.7,640.1 361.7,639.5 361.7,638.9 361.7,638.3 361.7,637.7 361.7,637.3 361.7,637.1 361.7,636.5 361.6,635.9 361.6,635.3 361.5,634.7 361.5,634.1 361.4,633.5 361.3,632.9 361.2,632.3 361.1,631.7 361,631.1 360.8,630.5 360.7,629.9 360.6,629.3 360.4,628.7 360.3,628.1 360.2,627.5 360,626.9 359.9,626.3 359.8,625.6 359.6,625 359.5,624.4 359.5,624.2 359.4,623.8 359.2,623.2 359.1,622.6 359,622 358.8,621.4 358.7,620.8 358.5,620.2 358.4,619.6 358.2,619 358,618.4 357.9,617.8 357.7,617.2 357.5,616.6 357.4,616 357.2,615.4 357,614.8 356.9,614.2 356.7,613.6 356.5,613 356.4,612.4 356.2,611.8 356.1,611.2 356,611.2 355.9,610.5 355.7,609.9 355.5,609.3 355.3,608.7 355.1,608.1 354.9,607.5 354.7,606.9 354.5,606.3 354.3,605.7 354.1,605.1 353.9,604.5 353.7,603.9 353.5,603.3 353.4,602.7 353.2,602.1 353,601.5 352.8,600.9 352.7,600.3 352.5,599.7 352.4,599.1 352.3,598.5 352.2,597.9 352.1,597.3 352,596.7 352,596.1 352,596.1 351.9,595.4 351.9,594.8 351.8,594.2 351.8,593.6 351.8,593 351.7,592.4 351.7,591.8 351.7,591.2 351.6,590.6 351.6,590 351.6,589.4 351.6,588.8 351.5,588.2 351.5,587.6 351.5,587 351.5,586.4 351.5,585.8 351.4,585.2 351.4,584.6 351.4,584 351.4,583.4 351.3,582.8 351.3,582.2 351.3,581.6 351.3,581 351.3,581 351.2,580.3 351.2,579.7 351.2,579.1 351.1,578.5 351.1,577.9 351.1,577.3 351.1,576.7 351,576.1 351,575.5 351,574.9 350.9,574.3 350.9,573.7 350.9,573.1 350.8,572.5 350.8,571.9 350.8,571.3 350.8,570.7 350.7,570.1 350.7,569.5 350.7,568.9 350.6,568.3 350.6,567.7 350.6,567.1Z" fill="#e1822c" stroke="#515151" stroke-width="1.5" stroke-linejoin="round"/>
<line x1="350.47" y1="687.86" x2="350.47" y2="582.73" stroke="#515151" stroke-width="1.35" />
<line x1="350.47" y1="672.76" x2="350.47" y2="636.14" stroke="#515151" stroke-width="4.0" />
<circle cx="350.47" cy="654.45" r="0.8" fill="#b4b4b4"/>
<line x1="266.8" y1="654.45" x2="367.2" y2="654.45" stroke="#ffdab9" stroke-width="2" />
</g>
<rect x="266.8" y="541.2" width="100.4" height="151" fill="none" stroke="#3a3a3a" stroke-width="1"/>
<line x1="263.8" y1="692.2" x2="266.8" y2="692.2" stroke="#1a1a1a" stroke-width="1" />
<line x1="263.8" y1="673.33" x2="266.8" y2="673.33" stroke="#1a1a1a" stroke-width="1" />
<line x1="263.8" y1="654.45" x2="266.8" y2="654.45" stroke="#1a1a1a" stroke-width="1" />
<line x1="263.8" y1="635.58" x2="266.8" y2="635.58" stroke="#1a1a1a" stroke-width="1" />
<line x1="263.8" y1="616.7" x2="266.8" y2="616.7" stroke="#1a1a1a" stroke-width="1" />
<line x1="263.8" y1="597.83" x2="266.8" y2="597.83" stroke="#1a1a1a" stroke-width="1" />
<line x1="263.8" y1="578.95" x2="266.8" y2="578.95" stroke="#1a1a1a" stroke-width="1" />
<line x1="263.8" y1="560.08" x2="266.8" y2="560.08" stroke="#1a1a1a" stroke-width="1" />
<line x1="263.8" y1="541.2" x2="266.8" y2="541.2" stroke="#1a1a1a" stroke-width="1" />
<line x1="283.53" y1="692.2" x2="283.53" y2="694.8" stroke="#1a1a1a" stroke-width="1" />
<line x1="317" y1="692.2" x2="317" y2="694.8" stroke="#1a1a1a" stroke-width="1" />
<line x1="350.47" y1="692.2" x2="350.47" y2="694.8" stroke="#1a1a1a" stroke-width="1" />
<text x="263.5" y="694.8" font-size="11" font-weight="400" text-anchor="end" fill="#000" >0.0</text>
<text x="263.5" y="657.1" font-size="11" font-weight="400" text-anchor="end" fill="#000" >0.2</text>
<text x="263.5" y="619.5" font-size="11" font-weight="400" text-anchor="end" fill="#000" >0.4</text>
<text x="263.5" y="581.6" font-size="11" font-weight="400" text-anchor="end" fill="#000" >0.6</text>
<text x="263.5" y="543.4" font-size="11" font-weight="400" text-anchor="end" fill="#000" >0.8</text>
<text x="284.53" y="706.7" font-size="11" font-weight="400" text-anchor="middle" fill="#000" >1000</text>
<text x="318" y="706.7" font-size="11" font-weight="400" text-anchor="middle" fill="#000" >5000</text>
<text x="351.47" y="706.7" font-size="11" font-weight="400" text-anchor="middle" fill="#000" >10000</text>
<clipPath id="va10"><rect x="396.9" y="541.2" width="100.3" height="151"/></clipPath>
<g clip-path="url(#va10)">
<path d="M410.7,531.8 410.7,532.4 410.7,533 410.7,533.6 410.8,534.2 410.8,534.8 410.8,535.4 410.8,536 410.8,536.6 410.8,537.2 410.8,537.8 410.8,538.4 410.8,539 410.8,539.6 410.9,540.2 410.9,540.8 410.9,541.2 410.9,541.4 410.9,542 410.9,542.6 410.9,543.2 410.9,543.8 410.9,544.4 410.9,545 410.9,545.6 411,546.2 411,546.8 411,547.4 411,548 411,548.6 411,549.2 411,549.8 411,550.4 411,551 411,551.7 411.1,552.3 411.1,552.9 411.1,553.5 411.1,554.1 411.1,554.7 411.1,555.3 411.1,555.9 411.1,556.5 411.1,557.1 411.1,557.7 411.1,558.3 411.1,558.9 411.1,559.5 411.1,559.5 411.1,560.1 411.1,560.7 411.1,561.3 411.1,561.9 411.1,562.5 411.1,563.1 411.1,563.7 411,564.3 411,564.9 411,565.5 411,566.1 411,566.7 410.9,567.3 410.9,567.9 410.9,568.5 410.9,569.1 410.9,569.7 410.8,570.3 410.8,570.9 410.8,571.5 410.7,572.1 410.7,572.7 410.7,573.3 410.7,574 410.6,574.6 410.6,575.2 410.6,575.8 410.6,576.4 410.5,577 410.5,577.6 410.5,578.2 410.5,578.8 410.5,579.4 410.4,580 410.4,580.6 410.4,581 410.4,581.2 410.4,581.8 410.4,582.4 410.4,583 410.4,583.6 410.3,584.2 410.3,584.8 410.3,585.4 410.3,586 410.3,586.6 410.3,587.2 410.3,587.8 410.3,588.4 410.3,589 410.3,589.6 410.2,590.2 410.2,590.8 410.2,591.4 410.2,592 410.2,592.6 410.2,593.2 410.2,593.8 410.2,594.4 410.2,595 410.2,595.6 410.1,596.3 410.1,596.9 410.1,597.5 410.1,598.1 410.1,598.7 410.1,599.3 410.1,599.9 410.1,600.5 410.1,601.1 410,601.7 410,602.3 410,602.7 410,602.9 410,603.5 410,604.1 410,604.7 410,605.3 409.9,605.9 409.9,606.5 409.9,607.1 409.9,607.7 409.9,608.3 409.9,608.9 409.8,609.5 409.8,610.1 409.8,610.7 409.8,611.3 409.8,611.9 409.7,612.5 409.7,613.1 409.7,613.7 409.7,614.3 409.7,614.9 409.6,615.5 409.6,616.1 409.6,616.7 409.6,617.3 409.6,617.9 409.5,618.5 409.5,619.2 409.5,619.8 409.5,620.4 409.5,621 409.4,621.6 409.4,622.2 409.4,622.8 409.4,623.4 409.3,624 409.3,624.2 409.3,624.6 409.3,625.2 409.3,625.8 409.2,626.4 409.2,627 409.2,627.6 409.1,628.2 409.1,628.8 409.1,629.4 409.1,630 409,630.6 409,631.2 409,631.8 408.9,632.4 408.9,633 408.9,633.6 408.8,634.2 408.8,634.8 408.8,635.4 408.7,636 408.7,636.6 408.7,637.2 408.6,637.8 408.6,638.4 408.5,639 408.5,639.6 408.5,640.2 408.4,640.8 408.4,641.5 408.3,642.1 408.3,642.7 408.2,643.3 408.2,643.9 408.1,644.5 408.1,645.1 408,645.7 408,645.8 408,646.3 407.9,646.9 407.8,647.5 407.8,648.1 407.7,648.7 407.6,649.3 407.5,649.9 407.4,650.5 407.3,651.1 407.2,651.7 407.1,652.3 407,652.9 406.9,653.5 406.8,654.1 406.7,654.7 406.6,655.3 406.5,655.9 406.3,656.5 406.2,657.1 406.1,657.7 406,658.3 405.9,658.8 405.9,658.9 405.8,659.5 405.6,660.1 405.5,660.7 405.4,661.3 405.2,661.9 405.1,662.5 404.9,663.1 404.8,663.8 404.6,664.4 404.5,665 404.3,665.6 404.2,666.2 404.1,666.8 403.9,667.4 403.8,668 403.7,668.6 403.6,669.2 403.5,669.6 403.5,669.8 403.4,670.4 403.3,671 403.2,671.6 403.1,672.2 403,672.8 402.8,673.4 402.7,674 402.6,674.6 402.6,675.2 402.5,675.8 402.4,676.4 402.3,677 402.3,677.6 402.2,678.2 402.2,678.8 402.1,679.4 402.1,680 402.1,680.3 402.1,680.6 402.1,681.2 402.2,681.8 402.2,682.4 402.3,683 402.4,683.6 402.5,684.2 402.6,684.8 402.7,685.4 402.9,686.1 403,686.7 403.2,687.3 403.3,687.9 423.9,687.9 424.1,687.3 424.2,686.7 424.4,686.1 424.5,685.4 424.6,684.8 424.8,684.2 424.9,683.6 424.9,683 425,682.4 425.1,681.8 425.1,681.2 425.1,680.6 425.1,680.3 425.1,680 425.1,679.4 425.1,678.8 425,678.2 425,677.6 424.9,677 424.8,676.4 424.8,675.8 424.7,675.2 424.6,674.6 424.5,674 424.4,673.4 424.3,672.8 424.2,672.2 424.1,671.6 424,671 423.9,670.4 423.8,669.8 423.7,669.6 423.7,669.2 423.5,668.6 423.4,668 423.3,667.4 423.2,666.8 423,666.2 422.9,665.6 422.7,665 422.6,664.4 422.4,663.8 422.3,663.1 422.1,662.5 422,661.9 421.9,661.3 421.7,660.7 421.6,660.1 421.5,659.5 421.3,658.9 421.3,658.8 421.2,658.3 421.1,657.7 421,657.1 420.9,656.5 420.8,655.9 420.7,655.3 420.5,654.7 420.4,654.1 420.3,653.5 420.2,652.9 420.1,652.3 420,651.7 419.9,651.1 419.8,650.5 419.7,649.9 419.6,649.3 419.6,648.7 419.5,648.1 419.4,647.5 419.3,646.9 419.3,646.3 419.2,645.8 419.2,645.7 419.2,645.1 419.1,644.5 419,643.9 419,643.3 419,642.7 418.9,642.1 418.9,641.5 418.8,640.8 418.8,640.2 418.7,639.6 418.7,639 418.6,638.4 418.6,637.8 418.6,637.2 418.5,636.6 418.5,636 418.5,635.4 418.4,634.8 418.4,634.2 418.4,633.6 418.3,633 418.3,632.4 418.3,631.8 418.2,631.2 418.2,630.6 418.2,630 418.1,629.4 418.1,628.8 418.1,628.2 418.1,627.6 418,627 418,626.4 418,625.8 418,625.2 417.9,624.6 417.9,624.2 417.9,624 417.9,623.4 417.9,622.8 417.8,622.2 417.8,621.6 417.8,621 417.8,620.4 417.7,619.8 417.7,619.2 417.7,618.5 417.7,617.9 417.6,617.3 417.6,616.7 417.6,616.1 417.6,615.5 417.6,614.9 417.5,614.3 417.5,613.7 417.5,613.1 417.5,612.5 417.5,611.9 417.4,611.3 417.4,610.7 417.4,610.1 417.4,609.5 417.4,608.9 417.4,608.3 417.3,607.7 417.3,607.1 417.3,606.5 417.3,605.9 417.3,605.3 417.3,604.7 417.2,604.1 417.2,603.5 417.2,602.9 417.2,602.7 417.2,602.3 417.2,601.7 417.2,601.1 417.2,600.5 417.2,599.9 417.1,599.3 417.1,598.7 417.1,598.1 417.1,597.5 417.1,596.9 417.1,596.3 417.1,595.6 417.1,595 417.1,594.4 417,593.8 417,593.2 417,592.6 417,592 417,591.4 417,590.8 417,590.2 417,589.6 417,589 417,588.4 417,587.8 416.9,587.2 416.9,586.6 416.9,586 416.9,585.4 416.9,584.8 416.9,584.2 416.9,583.6 416.9,583 416.8,582.4 416.8,581.8 416.8,581.2 416.8,581 416.8,580.6 416.8,580 416.8,579.4 416.8,578.8 416.7,578.2 416.7,577.6 416.7,577 416.7,576.4 416.6,575.8 416.6,575.2 416.6,574.6 416.6,574 416.5,573.3 416.5,572.7 416.5,572.1 416.5,571.5 416.4,570.9 416.4,570.3 416.4,569.7 416.4,569.1 416.3,568.5 416.3,567.9 416.3,567.3 416.3,566.7 416.2,566.1 416.2,565.5 416.2,564.9 416.2,564.3 416.2,563.7 416.2,563.1 416.1,562.5 416.1,561.9 416.1,561.3 416.1,560.7 416.1,560.1 416.1,559.5 416.1,559.5 416.1,558.9 416.1,558.3 416.1,557.7 416.1,557.1 416.1,556.5 416.1,555.9 416.1,555.3 416.1,554.7 416.2,554.1 416.2,553.5 416.2,552.9 416.2,552.3 416.2,551.7 416.2,551 416.2,550.4 416.2,549.8 416.2,549.2 416.2,548.6 416.2,548 416.3,547.4 416.3,546.8 416.3,546.2 416.3,545.6 416.3,545 416.3,544.4 416.3,543.8 416.3,543.2 416.3,542.6 416.4,542 416.4,541.4 416.4,541.2 416.4,540.8 416.4,540.2 416.4,539.6 416.4,539 416.4,538.4 416.4,537.8 416.4,537.2 416.4,536.6 416.4,536 416.5,535.4 416.5,534.8 416.5,534.2 416.5,533.6 416.5,533 416.5,532.4 416.5,531.8Z" fill="#3b913b" stroke="#3d3d3d" stroke-width="1.5" stroke-linejoin="round"/>
<line x1="413.62" y1="687.86" x2="413.62" y2="531.76" stroke="#3d3d3d" stroke-width="1.35" />
<line x1="413.62" y1="680.31" x2="413.62" y2="601.6" stroke="#3d3d3d" stroke-width="4.0" />
<circle cx="413.62" cy="650.11" r="0.8" fill="#b4b4b4"/>
<path d="M446.7,531.8 446.7,532.4 446.7,533 446.7,533.6 446.7,534.2 446.7,534.8 446.7,535.4 446.7,536 446.7,536.6 446.7,537.2 446.7,537.8 446.7,538.4 446.7,539 446.7,539.6 446.7,540.2 446.7,540.8 446.7,541.4 446.7,542 446.7,542.6 446.7,543.2 446.7,543.8 446.7,544.4 446.7,545 446.7,545.6 446.7,546.2 446.7,546.8 446.7,547.4 446.7,548 446.7,548.6 446.7,549.2 446.7,549.8 446.7,550.4 446.6,551 446.6,551.7 446.6,552.3 446.6,552.9 446.6,553.5 446.6,554.1 446.6,554.7 446.6,555.3 446.6,555.9 446.6,556.5 446.6,557.1 446.6,557.7 446.6,558.3 446.6,558.9 446.6,559.5 446.5,559.5 446.5,560.1 446.5,560.7 446.5,561.3 446.5,561.9 446.5,562.5 446.5,563.1 446.4,563.7 446.4,564.3 446.4,564.9 446.4,565.5 446.3,566.1 446.3,566.7 446.3,567.3 446.2,567.9 446.2,568.5 446.2,569.1 446.1,569.7 446.1,570.3 446,570.9 446,571.5 446,572.1 445.9,572.7 445.9,573.3 445.8,574 445.8,574.6 445.7,575.2 445.7,575.8 445.6,576.4 445.6,577 445.5,577.6 445.5,578.2 445.4,578.8 445.4,579.4 445.3,580 445.3,580.6 445.2,581 445.2,581.2 445.2,581.8 445.1,582.4 445.1,583 445,583.6 444.9,584.2 444.9,584.8 444.8,585.4 444.7,586 444.7,586.6 444.6,587.2 444.5,587.8 444.4,588.4 444.3,589 444.3,589.6 444.2,590.2 444.1,590.8 444,591.4 443.9,592 443.8,592.6 443.8,593.2 443.7,593.8 443.6,594.4 443.5,595 443.4,595.6 443.3,596.3 443.3,596.9 443.2,597.5 443.1,598.1 443,598.7 442.9,599.3 442.9,599.9 442.8,600.5 442.7,601.1 442.7,601.7 442.6,602.3 442.5,602.7 442.5,602.9 442.5,603.5 442.4,604.1 442.4,604.7 442.3,605.3 442.2,605.9 442.2,606.5 442.1,607.1 442.1,607.7 442,608.3 442,608.9 441.9,609.5 441.9,610.1 441.8,610.7 441.8,611.3 441.7,611.9 441.7,612.5 441.6,613.1 441.6,613.7 441.5,614.3 441.5,614.9 441.4,615.5 441.4,616.1 441.3,616.7 441.3,617.3 441.2,617.9 441.2,618.5 441.1,619.2 441.1,619.8 441.1,620.4 441,621 441,621.6 440.9,622.2 440.9,622.8 440.8,623.4 440.8,624 440.7,624.2 440.7,624.6 440.7,625.2 440.6,625.8 440.6,626.4 440.5,627 440.5,627.6 440.5,628.2 440.4,628.8 440.4,629.4 440.3,630 440.3,630.6 440.3,631.2 440.2,631.8 440.2,632.4 440.1,633 440.1,633.6 440.1,634.2 440,634.8 440,635.4 439.9,636 439.9,636.6 439.9,637.2 439.8,637.8 439.8,638.4 439.7,639 439.7,639.6 439.6,640.2 439.6,640.8 439.5,641.5 439.5,642.1 439.4,642.7 439.4,643.3 439.3,643.9 439.3,644.5 439.2,645.1 439.2,645.7 439.1,645.8 439.1,646.3 439,646.9 439,647.5 438.9,648.1 438.8,648.7 438.7,649.3 438.6,649.9 438.6,650.5 438.5,651.1 438.4,651.7 438.3,652.3 438.2,652.9 438.1,653.5 438,654.1 437.9,654.7 437.8,655.3 437.7,655.9 437.6,656.5 437.5,657.1 437.4,657.7 437.3,658.3 437.2,658.9 437.1,659.5 437,660.1 436.9,660.7 436.8,661.3 436.7,661.9 436.6,662.5 436.5,663.1 436.4,663.8 436.3,664.4 436.2,665 436.1,665.6 436,666.2 435.9,666.8 435.9,667.4 435.8,667.5 435.8,668 435.7,668.6 435.6,669.2 435.5,669.8 435.4,670.4 435.4,671 435.3,671.6 435.2,672.2 435.1,672.8 435,673.4 434.9,674 434.9,674.6 434.8,675.2 434.7,675.8 434.7,676.4 434.6,677 434.6,677.6 434.5,678.2 434.5,678.8 434.5,679.4 434.5,680 434.4,680.3 434.5,680.6 434.5,681.2 434.5,681.8 434.5,682.4 434.6,683 434.6,683.6 434.7,684.2 434.8,684.8 434.9,685.4 434.9,686.1 435,686.7 435.1,687.3 435.2,687.9 458.8,687.9 459,687.3 459.1,686.7 459.2,686.1 459.2,685.4 459.3,684.8 459.4,684.2 459.5,683.6 459.5,683 459.6,682.4 459.6,681.8 459.6,681.2 459.6,680.6 459.6,680.3 459.6,680 459.6,679.4 459.6,678.8 459.6,678.2 459.5,677.6 459.5,677 459.4,676.4 459.4,675.8 459.3,675.2 459.2,674.6 459.2,674 459.1,673.4 459,672.8 458.9,672.2 458.8,671.6 458.7,671 458.7,670.4 458.6,669.8 458.5,669.2 458.4,668.6 458.3,668 458.2,667.5 458.2,667.4 458.2,666.8 458.1,666.2 458,665.6 457.9,665 457.8,664.4 457.7,663.8 457.6,663.1 457.5,662.5 457.4,661.9 457.3,661.3 457.2,660.7 457.1,660.1 457,659.5 456.9,658.9 456.8,658.3 456.7,657.7 456.6,657.1 456.5,656.5 456.4,655.9 456.3,655.3 456.2,654.7 456.1,654.1 456,653.5 455.9,652.9 455.8,652.3 455.7,651.7 455.6,651.1 455.5,650.5 455.5,649.9 455.4,649.3 455.3,648.7 455.2,648.1 455.1,647.5 455.1,646.9 455,646.3 454.9,645.8 454.9,645.7 454.9,645.1 454.8,644.5 454.8,643.9 454.7,643.3 454.7,642.7 454.6,642.1 454.6,641.5 454.5,640.8 454.5,640.2 454.4,639.6 454.4,639 454.3,638.4 454.3,637.8 454.2,637.2 454.2,636.6 454.2,636 454.1,635.4 454.1,634.8 454,634.2 454,633.6 454,633 453.9,632.4 453.9,631.8 453.8,631.2 453.8,630.6 453.8,630 453.7,629.4 453.7,628.8 453.6,628.2 453.6,627.6 453.6,627 453.5,626.4 453.5,625.8 453.4,625.2 453.4,624.6 453.3,624.2 453.3,624 453.3,623.4 453.2,622.8 453.2,622.2 453.1,621.6 453.1,621 453,620.4 453,619.8 453,619.2 452.9,618.5 452.9,617.9 452.8,617.3 452.8,616.7 452.7,616.1 452.7,615.5 452.6,614.9 452.6,614.3 452.5,613.7 452.5,613.1 452.4,612.5 452.4,611.9 452.3,611.3 452.3,610.7 452.2,610.1 452.2,609.5 452.1,608.9 452.1,608.3 452,607.7 452,607.1 451.9,606.5 451.9,605.9 451.8,605.3 451.7,604.7 451.7,604.1 451.6,603.5 451.6,602.9 451.5,602.7 451.5,602.3 451.4,601.7 451.4,601.1 451.3,600.5 451.2,599.9 451.2,599.3 451.1,598.7 451,598.1 450.9,597.5 450.8,596.9 450.8,596.3 450.7,595.6 450.6,595 450.5,594.4 450.4,593.8 450.3,593.2 450.3,592.6 450.2,592 450.1,591.4 450,590.8 449.9,590.2 449.8,589.6 449.8,589 449.7,588.4 449.6,587.8 449.5,587.2 449.4,586.6 449.4,586 449.3,585.4 449.2,584.8 449.2,584.2 449.1,583.6 449,583 449,582.4 448.9,581.8 448.9,581.2 448.8,581 448.8,580.6 448.8,580 448.7,579.4 448.7,578.8 448.6,578.2 448.6,577.6 448.5,577 448.5,576.4 448.4,575.8 448.4,575.2 448.3,574.6 448.3,574 448.2,573.3 448.2,572.7 448.1,572.1 448.1,571.5 448.1,570.9 448,570.3 448,569.7 447.9,569.1 447.9,568.5 447.9,567.9 447.8,567.3 447.8,566.7 447.8,566.1 447.7,565.5 447.7,564.9 447.7,564.3 447.7,563.7 447.6,563.1 447.6,562.5 447.6,561.9 447.6,561.3 447.6,560.7 447.6,560.1 447.5,559.5 447.5,559.5 447.5,558.9 447.5,558.3 447.5,557.7 447.5,557.1 447.5,556.5 447.5,555.9 447.5,555.3 447.5,554.7 447.5,554.1 447.5,553.5 447.5,552.9 447.5,552.3 447.5,551.7 447.5,551 447.4,550.4 447.4,549.8 447.4,549.2 447.4,548.6 447.4,548 447.4,547.4 447.4,546.8 447.4,546.2 447.4,545.6 447.4,545 447.4,544.4 447.4,543.8 447.4,543.2 447.4,542.6 447.4,542 447.4,541.4 447.4,540.8 447.4,540.2 447.4,539.6 447.4,539 447.4,538.4 447.4,537.8 447.4,537.2 447.4,536.6 447.4,536 447.4,535.4 447.4,534.8 447.4,534.2 447.4,533.6 447.4,533 447.4,532.4 447.3,531.8Z" fill="#3b913b" stroke="#3d3d3d" stroke-width="1.5" stroke-linejoin="round"/>
<line x1="447.05" y1="687.86" x2="447.05" y2="560.08" stroke="#3d3d3d" stroke-width="1.35" />
<line x1="447.05" y1="675.97" x2="447.05" y2="628.59" stroke="#3d3d3d" stroke-width="4.0" />
<circle cx="447.05" cy="654.45" r="0.8" fill="#b4b4b4"/>
<path d="M480.4,570.5 480.4,571.1 480.4,571.7 480.4,572.3 480.4,572.9 480.3,573.5 480.3,574.1 480.3,574.7 480.3,575.3 480.3,575.9 480.2,576.5 480.2,577.1 480.2,577.7 480.1,578.3 480.1,578.9 480.1,579.5 480,580.1 480,580.7 480,581.3 479.9,582 479.9,582.6 479.8,583.2 479.8,583.8 479.7,584.4 479.7,585 479.7,585.6 479.6,586.2 479.6,586.5 479.6,586.8 479.5,587.4 479.5,588 479.4,588.6 479.3,589.2 479.3,589.8 479.2,590.4 479.1,591 479,591.6 478.9,592.2 478.8,592.8 478.7,593.5 478.6,594.1 478.5,594.7 478.4,595.3 478.3,595.9 478.2,596.5 478.1,597.1 478,597.7 477.9,598.3 477.8,598.9 477.7,599.5 477.6,600.1 477.5,600.7 477.3,601.3 477.2,601.9 477.1,602.5 477.1,602.7 477,603.1 476.9,603.7 476.8,604.3 476.7,605 476.5,605.6 476.4,606.2 476.3,606.8 476.1,607.4 476,608 475.9,608.6 475.7,609.2 475.6,609.8 475.4,610.4 475.3,611 475.1,611.6 475,612.2 474.9,612.8 474.7,613.4 474.6,614 474.4,614.6 474.3,615.2 474.2,615.6 474.1,615.8 474,616.4 473.8,617.1 473.6,617.7 473.4,618.3 473.3,618.9 473.1,619.5 472.9,620.1 472.7,620.7 472.5,621.3 472.3,621.9 472.1,622.5 472,623.1 471.8,623.7 471.6,624.3 471.5,624.9 471.3,625.5 471.2,626.1 471.1,626.7 471,627.3 470.9,627.9 470.8,628.6 470.8,628.6 470.7,629.2 470.7,629.8 470.6,630.4 470.5,631 470.5,631.6 470.4,632.2 470.4,632.8 470.3,633.4 470.3,634 470.3,634.6 470.2,635.2 470.2,635.8 470.2,636.4 470.1,637 470.1,637.6 470.1,638.2 470,638.8 470,639.4 470,640.1 469.9,640.7 469.9,641.3 469.9,641.6 469.9,641.9 469.8,642.5 469.8,643.1 469.8,643.7 469.8,644.3 469.7,644.9 469.7,645.5 469.7,646.1 469.7,646.7 469.6,647.3 469.6,647.9 469.6,648.5 469.6,649.1 469.5,649.7 469.5,650.3 469.5,650.9 469.5,651.5 469.5,652.2 469.4,652.8 469.4,653.4 469.4,654 469.4,654.6 469.4,655.2 469.3,655.8 469.3,656.4 469.3,657 469.3,657.6 469.3,658.2 469.3,658.8 469.3,658.8 469.3,659.4 469.3,660 469.3,660.6 469.2,661.2 469.2,661.8 469.2,662.4 469.2,663 469.2,663.7 469.2,664.3 469.2,664.9 469.2,665.5 469.2,666.1 469.2,666.7 469.1,667.3 469.1,667.9 469.1,668.5 469.1,669.1 469.1,669.7 469.1,670.3 469.1,670.9 469.1,671.5 469.1,672.1 469.1,672.7 469.1,673.3 469.1,673.9 469.1,674.5 469.1,675.2 469.1,675.8 469.1,676 469.1,676.4 469.1,677 469.1,677.6 469.1,678.2 469.2,678.8 469.2,679.4 469.3,680 469.3,680.6 469.4,681.2 469.4,681.8 469.5,682.4 469.6,683 469.6,683.6 469.7,684.2 469.8,684.8 469.9,685.4 469.9,686 470,686.6 470.1,687.3 470.2,687.9 490.8,687.9 490.9,687.3 490.9,686.6 491,686 491.1,685.4 491.2,684.8 491.3,684.2 491.3,683.6 491.4,683 491.5,682.4 491.5,681.8 491.6,681.2 491.7,680.6 491.7,680 491.8,679.4 491.8,678.8 491.8,678.2 491.9,677.6 491.9,677 491.9,676.4 491.9,676 491.9,675.8 491.9,675.2 491.9,674.5 491.9,673.9 491.9,673.3 491.9,672.7 491.9,672.1 491.9,671.5 491.9,670.9 491.9,670.3 491.8,669.7 491.8,669.1 491.8,668.5 491.8,667.9 491.8,667.3 491.8,666.7 491.8,666.1 491.8,665.5 491.8,664.9 491.8,664.3 491.8,663.7 491.8,663 491.7,662.4 491.7,661.8 491.7,661.2 491.7,660.6 491.7,660 491.7,659.4 491.7,658.8 491.7,658.8 491.7,658.2 491.7,657.6 491.6,657 491.6,656.4 491.6,655.8 491.6,655.2 491.6,654.6 491.6,654 491.6,653.4 491.5,652.8 491.5,652.2 491.5,651.5 491.5,650.9 491.5,650.3 491.4,649.7 491.4,649.1 491.4,648.5 491.4,647.9 491.3,647.3 491.3,646.7 491.3,646.1 491.3,645.5 491.2,644.9 491.2,644.3 491.2,643.7 491.2,643.1 491.1,642.5 491.1,641.9 491.1,641.6 491.1,641.3 491,640.7 491,640.1 491,639.4 490.9,638.8 490.9,638.2 490.9,637.6 490.9,637 490.8,636.4 490.8,635.8 490.7,635.2 490.7,634.6 490.7,634 490.6,633.4 490.6,632.8 490.5,632.2 490.5,631.6 490.4,631 490.4,630.4 490.3,629.8 490.2,629.2 490.2,628.6 490.2,628.6 490.1,627.9 490,627.3 489.9,626.7 489.8,626.1 489.6,625.5 489.5,624.9 489.3,624.3 489.2,623.7 489,623.1 488.8,622.5 488.6,621.9 488.5,621.3 488.3,620.7 488.1,620.1 487.9,619.5 487.7,618.9 487.5,618.3 487.3,617.7 487.2,617.1 487,616.4 486.9,615.8 486.8,615.6 486.7,615.2 486.6,614.6 486.4,614 486.3,613.4 486.1,612.8 486,612.2 485.8,611.6 485.7,611 485.5,610.4 485.4,609.8 485.2,609.2 485.1,608.6 485,608 484.8,607.4 484.7,606.8 484.6,606.2 484.4,605.6 484.3,605 484.2,604.3 484.1,603.7 484,603.1 483.9,602.7 483.8,602.5 483.7,601.9 483.6,601.3 483.5,600.7 483.4,600.1 483.3,599.5 483.2,598.9 483.1,598.3 482.9,597.7 482.8,597.1 482.7,596.5 482.6,595.9 482.5,595.3 482.4,594.7 482.3,594.1 482.2,593.5 482.1,592.8 482,592.2 482,591.6 481.9,591 481.8,590.4 481.7,589.8 481.6,589.2 481.6,588.6 481.5,588 481.5,587.4 481.4,586.8 481.4,586.5 481.4,586.2 481.3,585.6 481.3,585 481.2,584.4 481.2,583.8 481.1,583.2 481.1,582.6 481.1,582 481,581.3 481,580.7 480.9,580.1 480.9,579.5 480.9,578.9 480.8,578.3 480.8,577.7 480.8,577.1 480.7,576.5 480.7,575.9 480.7,575.3 480.7,574.7 480.6,574.1 480.6,573.5 480.6,572.9 480.6,572.3 480.6,571.7 480.6,571.1 480.6,570.5Z" fill="#3b913b" stroke="#3d3d3d" stroke-width="1.5" stroke-linejoin="round"/>
<line x1="480.48" y1="687.86" x2="480.48" y2="586.5" stroke="#3d3d3d" stroke-width="1.35" />
<line x1="480.48" y1="672.76" x2="480.48" y2="636.14" stroke="#3d3d3d" stroke-width="4.0" />
<circle cx="480.48" cy="654.45" r="0.8" fill="#b4b4b4"/>
<line x1="396.9" y1="654.45" x2="497.2" y2="654.45" stroke="#90ee90" stroke-width="2" />
</g>
<rect x="396.9" y="541.2" width="100.3" height="151" fill="none" stroke="#3a3a3a" stroke-width="1"/>
<line x1="393.9" y1="692.2" x2="396.9" y2="692.2" stroke="#1a1a1a" stroke-width="1" />
<line x1="393.9" y1="673.33" x2="396.9" y2="673.33" stroke="#1a1a1a" stroke-width="1" />
<line x1="393.9" y1="654.45" x2="396.9" y2="654.45" stroke="#1a1a1a" stroke-width="1" />
<line x1="393.9" y1="635.58" x2="396.9" y2="635.58" stroke="#1a1a1a" stroke-width="1" />
<line x1="393.9" y1="616.7" x2="396.9" y2="616.7" stroke="#1a1a1a" stroke-width="1" />
<line x1="393.9" y1="597.83" x2="396.9" y2="597.83" stroke="#1a1a1a" stroke-width="1" />
<line x1="393.9" y1="578.95" x2="396.9" y2="578.95" stroke="#1a1a1a" stroke-width="1" />
<line x1="393.9" y1="560.08" x2="396.9" y2="560.08" stroke="#1a1a1a" stroke-width="1" />
<line x1="393.9" y1="541.2" x2="396.9" y2="541.2" stroke="#1a1a1a" stroke-width="1" />
<line x1="413.62" y1="692.2" x2="413.62" y2="694.8" stroke="#1a1a1a" stroke-width="1" />
<line x1="447.05" y1="692.2" x2="447.05" y2="694.8" stroke="#1a1a1a" stroke-width="1" />
<line x1="480.48" y1="692.2" x2="480.48" y2="694.8" stroke="#1a1a1a" stroke-width="1" />
<text x="414.62" y="706.7" font-size="11" font-weight="400" text-anchor="middle" fill="#000" >1000</text>
<text x="448.05" y="706.7" font-size="11" font-weight="400" text-anchor="middle" fill="#000" >5000</text>
<text x="481.48" y="706.7" font-size="11" font-weight="400" text-anchor="middle" fill="#000" >10000</text>
<clipPath id="va11"><rect x="521.5" y="541.2" width="100.3" height="151"/></clipPath>
<g clip-path="url(#va11)">
<path d="M538.1,637.3 537.8,637.9 537.5,638.5 537.2,639.1 536.9,639.7 536.5,640.3 536.2,640.9 535.9,641.6 535.5,642.2 535.2,642.8 535,643.1 534.9,643.4 534.5,644 534,644.6 533.6,645.2 533.1,645.8 532.7,646.5 532.3,647.1 531.9,647.7 531.6,648.3 531.4,648.9 531.2,649.5 531.2,649.5 531.1,650.1 531.1,650.7 531,651.3 530.9,652 530.9,652.6 530.9,652.9 530.9,653.2 531.1,653.8 531.4,654.4 531.7,655 532.1,655.6 532.5,656.2 532.8,656.9 533,657.5 533,657.5 533.1,658.1 533.2,658.7 533.3,659.3 533.3,659.9 533.4,660.5 533.4,661.1 533.4,661.8 533.5,662.4 533.6,663 533.6,663.6 533.7,664.1 533.7,664.2 533.9,664.8 534,665.4 534.2,666 534.5,666.6 534.7,667.3 534.9,667.9 535,668 535.2,668.5 535.5,669.1 535.8,669.7 536.2,670.3 536.5,670.9 536.8,671.5 536.9,671.8 537.1,672.2 537.3,672.8 537.5,673.4 537.7,674 537.9,674.6 538.1,675.2 538.3,675.2 538.5,674.6 538.7,674 538.9,673.4 539.1,672.8 539.4,672.2 539.5,671.8 539.6,671.5 539.9,670.9 540.3,670.3 540.6,669.7 540.9,669.1 541.2,668.5 541.4,668 541.5,667.9 541.7,667.3 542,666.6 542.2,666 542.4,665.4 542.6,664.8 542.7,664.2 542.7,664.1 542.8,663.6 542.9,663 542.9,662.4 543,661.8 543,661.1 543.1,660.5 543.1,659.9 543.2,659.3 543.2,658.7 543.3,658.1 543.4,657.5 543.4,657.5 543.6,656.9 543.9,656.2 544.3,655.6 544.7,655 545.1,654.4 545.3,653.8 545.5,653.2 545.5,652.9 545.5,652.6 545.5,652 545.4,651.3 545.4,650.7 545.3,650.1 545.2,649.5 545.2,649.5 545.1,648.9 544.8,648.3 544.5,647.7 544.1,647.1 543.7,646.5 543.3,645.8 542.8,645.2 542.4,644.6 542,644 541.6,643.4 541.4,643.1 541.2,642.8 540.9,642.2 540.6,641.6 540.2,640.9 539.9,640.3 539.6,639.7 539.3,639.1 538.9,638.5 538.6,637.9 538.3,637.3Z" fill="#3274a1" stroke="#3f3f3f" stroke-width="1.5" stroke-linejoin="round"/>
<line x1="538.22" y1="673.33" x2="538.22" y2="639.35" stroke="#3f3f3f" stroke-width="1.35" />
<line x1="538.22" y1="662.57" x2="538.22" y2="650.68" stroke="#3f3f3f" stroke-width="4.0" />
<circle cx="538.22" cy="656.34" r="0.8" fill="#b4b4b4"/>
<path d="M571.5,643.1 570.8,643.7 570.1,644.4 569.3,645 568.5,645.6 567.6,646.2 566.8,646.9 566.4,647.1 565.8,647.5 564.6,648.1 563.3,648.7 562.1,649.4 561.1,650 560.6,650.6 560.5,650.9 560.6,651.2 560.6,651.9 560.7,652.5 560.8,653.1 561,653.7 561.2,654.4 561.4,655 561.6,655.6 561.9,656.1 561.9,656.2 562.2,656.9 562.7,657.5 563.2,658.1 563.9,658.7 564.5,659.4 565.1,660 565.8,660.6 566.3,661.2 566.4,661.4 566.8,661.9 567.2,662.5 567.7,663.1 568.1,663.7 568.5,664.4 568.9,665 569.3,665.6 569.7,666.2 569.9,666.5 570.1,666.9 570.4,667.5 570.8,668.1 571.2,668.7 571.5,669.4 571.8,669.4 572.1,668.7 572.5,668.1 572.9,667.5 573.2,666.9 573.4,666.5 573.6,666.2 574,665.6 574.4,665 574.8,664.4 575.2,663.7 575.6,663.1 576.1,662.5 576.5,661.9 576.9,661.4 577,661.2 577.5,660.6 578.2,660 578.8,659.4 579.4,658.7 580.1,658.1 580.6,657.5 581.1,656.9 581.4,656.2 581.4,656.1 581.7,655.6 581.9,655 582.1,654.4 582.3,653.7 582.5,653.1 582.6,652.5 582.7,651.9 582.7,651.2 582.8,650.9 582.7,650.6 582.2,650 581.2,649.4 580,648.7 578.7,648.1 577.5,647.5 576.9,647.1 576.5,646.9 575.7,646.2 574.8,645.6 574,645 573.2,644.4 572.5,643.7 571.8,643.1Z" fill="#3274a1" stroke="#3f3f3f" stroke-width="1.5" stroke-linejoin="round"/>
<line x1="571.65" y1="667.66" x2="571.65" y2="644.07" stroke="#3f3f3f" stroke-width="1.35" />
<line x1="571.65" y1="658.6" x2="571.65" y2="649.73" stroke="#3f3f3f" stroke-width="4.0" />
<circle cx="571.65" cy="654.26" r="0.8" fill="#b4b4b4"/>
<path d="M605,645 603.3,645.6 601.8,646.3 600.4,646.9 599.1,647.5 598,648.1 597.9,648.2 597.1,648.7 596.2,649.4 595.4,650 594.7,650.6 594.1,651.2 593.6,651.9 593.4,652.4 593.4,652.5 593.2,653.1 593,653.7 592.9,654.3 592.8,655 592.7,655.6 592.7,656.1 592.7,656.2 593,656.8 593.7,657.5 594.6,658.1 595.7,658.7 596.8,659.3 597.7,659.9 597.9,660.1 598.4,660.6 599,661.2 599.7,661.8 600.3,662.4 600.9,663.1 601.4,663.7 601.8,664.1 602,664.3 602.5,664.9 603.1,665.6 603.6,666.2 604.1,666.8 604.5,667.4 605,668 605.2,668 605.6,667.4 606.1,666.8 606.6,666.2 607.1,665.6 607.6,664.9 608.2,664.3 608.4,664.1 608.7,663.7 609.3,663.1 609.9,662.4 610.5,661.8 611.1,661.2 611.8,660.6 612.3,660.1 612.5,659.9 613.4,659.3 614.4,658.7 615.5,658.1 616.5,657.5 617.2,656.8 617.5,656.2 617.5,656.1 617.5,655.6 617.4,655 617.3,654.3 617.2,653.7 617,653.1 616.8,652.5 616.8,652.4 616.6,651.9 616.1,651.2 615.5,650.6 614.8,650 613.9,649.4 613.1,648.7 612.3,648.2 612.1,648.1 611.1,647.5 609.8,646.9 608.4,646.3 606.8,645.6 605.2,645Z" fill="#3274a1" stroke="#3f3f3f" stroke-width="1.5" stroke-linejoin="round"/>
<line x1="605.08" y1="665.78" x2="605.08" y2="645.96" stroke="#3f3f3f" stroke-width="1.35" />
<line x1="605.08" y1="658.04" x2="605.08" y2="650.86" stroke="#3f3f3f" stroke-width="4.0" />
<circle cx="605.08" cy="654.45" r="0.8" fill="#b4b4b4"/>
<line x1="521.5" y1="654.45" x2="621.8" y2="654.45" stroke="#b0c4de" stroke-width="2" />
</g>
<rect x="521.5" y="541.2" width="100.3" height="151" fill="none" stroke="#3a3a3a" stroke-width="1"/>
<line x1="518.5" y1="692.2" x2="521.5" y2="692.2" stroke="#1a1a1a" stroke-width="1" />
<line x1="518.5" y1="673.33" x2="521.5" y2="673.33" stroke="#1a1a1a" stroke-width="1" />
<line x1="518.5" y1="654.45" x2="521.5" y2="654.45" stroke="#1a1a1a" stroke-width="1" />
<line x1="518.5" y1="635.58" x2="521.5" y2="635.58" stroke="#1a1a1a" stroke-width="1" />
<line x1="518.5" y1="616.7" x2="521.5" y2="616.7" stroke="#1a1a1a" stroke-width="1" />
<line x1="518.5" y1="597.83" x2="521.5" y2="597.83" stroke="#1a1a1a" stroke-width="1" />
<line x1="518.5" y1="578.95" x2="521.5" y2="578.95" stroke="#1a1a1a" stroke-width="1" />
<line x1="518.5" y1="560.08" x2="521.5" y2="560.08" stroke="#1a1a1a" stroke-width="1" />
<line x1="518.5" y1="541.2" x2="521.5" y2="541.2" stroke="#1a1a1a" stroke-width="1" />
<line x1="538.22" y1="692.2" x2="538.22" y2="694.8" stroke="#1a1a1a" stroke-width="1" />
<line x1="571.65" y1="692.2" x2="571.65" y2="694.8" stroke="#1a1a1a" stroke-width="1" />
<line x1="605.08" y1="692.2" x2="605.08" y2="694.8" stroke="#1a1a1a" stroke-width="1" />
<text x="539.22" y="706.7" font-size="11" font-weight="400" text-anchor="middle" fill="#000" >1000</text>
<text x="572.65" y="706.7" font-size="11" font-weight="400" text-anchor="middle" fill="#000" >5000</text>
<text x="606.08" y="706.7" font-size="11" font-weight="400" text-anchor="middle" fill="#000" >10000</text>
<clipPath id="va12"><rect x="660.8" y="541.2" width="100.4" height="151"/></clipPath>
<g clip-path="url(#va12)">
<path d="M677.4,661.4 677.2,662.1 677.1,662.7 676.9,663.3 676.7,664 676.6,664.6 676.4,665.2 676.3,665.8 676.3,665.9 676.2,666.5 676,667.1 675.9,667.8 675.8,668.4 675.7,669 675.7,669.4 675.7,669.6 675.8,670.3 675.9,670.9 676,671.5 676.1,672.2 676.2,672.8 676.3,673.3 676.4,673.4 676.6,674.1 676.8,674.7 677.1,675.3 677.4,676 677.6,676 678,675.3 678.3,674.7 678.5,674.1 678.7,673.4 678.7,673.3 678.9,672.8 679,672.2 679.1,671.5 679.2,670.9 679.3,670.3 679.3,669.6 679.3,669.4 679.3,669 679.3,668.4 679.2,667.8 679,667.1 678.9,666.5 678.7,665.9 678.7,665.8 678.6,665.2 678.5,664.6 678.3,664 678.2,663.3 678,662.7 677.8,662.1 677.6,661.4Z" fill="#3274a1" stroke="#3f3f3f" stroke-width="1.5" stroke-linejoin="round"/>
<line x1="677.53" y1="675.21" x2="677.53" y2="662" stroke="#3f3f3f" stroke-width="1.35" />
<line x1="677.53" y1="671.44" x2="677.53" y2="666.72" stroke="#3f3f3f" stroke-width="4.0" />
<circle cx="677.53" cy="669.36" r="0.8" fill="#b4b4b4"/>
<path d="M710.9,665.6 710.2,666.3 709.8,666.9 709.8,667 709.6,667.7 709.5,668.4 709.2,669 709.2,669.1 703.6,669.5 708.2,669.7 709.2,669.8 709.7,670.4 710,671.1 710.1,671.1 710.9,671.8 711.1,671.8 711.9,671.1 712,671.1 712.3,670.4 712.8,669.8 713.8,669.7 718.4,669.5 712.8,669.1 712.8,669 712.5,668.4 712.4,667.7 712.2,667 712.2,666.9 711.8,666.3 711.1,665.6Z" fill="#3274a1" stroke="#3f3f3f" stroke-width="1.5" stroke-linejoin="round"/>
<line x1="711" y1="671.44" x2="711" y2="666.72" stroke="#3f3f3f" stroke-width="1.35" />
<line x1="711" y1="670.49" x2="711" y2="668.23" stroke="#3f3f3f" stroke-width="4.0" />
<circle cx="711" cy="669.36" r="0.8" fill="#b4b4b4"/>
<path d="M744.4,667.5 743.5,668.2 743.3,668.4 742.9,668.9 742.7,669.1 731.3,669.5 736.8,669.6 742.7,669.8 743.4,670.4 743.5,670.5 744,671.1 744.4,671.8 744.6,671.8 745,671.1 745.5,670.5 745.6,670.4 746.3,669.8 752.1,669.6 757.7,669.5 746.3,669.1 746,668.9 745.7,668.4 745.4,668.2 744.6,667.5Z" fill="#3274a1" stroke="#3f3f3f" stroke-width="1.5" stroke-linejoin="round"/>
<line x1="744.47" y1="671.44" x2="744.47" y2="667.66" stroke="#3f3f3f" stroke-width="1.35" />
<line x1="744.47" y1="670.49" x2="744.47" y2="668.23" stroke="#3f3f3f" stroke-width="4.0" />
<circle cx="744.47" cy="669.36" r="0.8" fill="#b4b4b4"/>
<line x1="660.8" y1="654.45" x2="761.2" y2="654.45" stroke="#b0c4de" stroke-width="2" />
</g>
<rect x="660.8" y="541.2" width="100.4" height="151" fill="none" stroke="#3a3a3a" stroke-width="1"/>
<line x1="657.8" y1="692.2" x2="660.8" y2="692.2" stroke="#1a1a1a" stroke-width="1" />
<line x1="657.8" y1="673.33" x2="660.8" y2="673.33" stroke="#1a1a1a" stroke-width="1" />
<line x1="657.8" y1="654.45" x2="660.8" y2="654.45" stroke="#1a1a1a" stroke-width="1" />
<line x1="657.8" y1="635.58" x2="660.8" y2="635.58" stroke="#1a1a1a" stroke-width="1" />
<line x1="657.8" y1="616.7" x2="660.8" y2="616.7" stroke="#1a1a1a" stroke-width="1" />
<line x1="657.8" y1="597.83" x2="660.8" y2="597.83" stroke="#1a1a1a" stroke-width="1" />
<line x1="657.8" y1="578.95" x2="660.8" y2="578.95" stroke="#1a1a1a" stroke-width="1" />
<line x1="657.8" y1="560.08" x2="660.8" y2="560.08" stroke="#1a1a1a" stroke-width="1" />
<line x1="657.8" y1="541.2" x2="660.8" y2="541.2" stroke="#1a1a1a" stroke-width="1" />
<line x1="677.53" y1="692.2" x2="677.53" y2="694.8" stroke="#1a1a1a" stroke-width="1" />
<line x1="711" y1="692.2" x2="711" y2="694.8" stroke="#1a1a1a" stroke-width="1" />
<line x1="744.47" y1="692.2" x2="744.47" y2="694.8" stroke="#1a1a1a" stroke-width="1" />
<text x="678.53" y="706.7" font-size="11" font-weight="400" text-anchor="middle" fill="#000" >1000</text>
<text x="712" y="706.7" font-size="11" font-weight="400" text-anchor="middle" fill="#000" >5000</text>
<text x="745.47" y="706.7" font-size="11" font-weight="400" text-anchor="middle" fill="#000" >10000</text>
<text transform="translate(237.7,115.1) rotate(-90)" font-size="11" text-anchor="middle" fill="#000" xml:space="preserve">MLE  p<tspan font-size="6.5" dy="3.8">80</tspan></text>
<text transform="translate(385.2,115.1) rotate(-90)" font-size="11" text-anchor="middle" fill="#000" xml:space="preserve">MLE   s<tspan font-size="6.5" dy="3.8">80</tspan></text>
<text transform="translate(513.2,116.1) rotate(-90)" font-size="11" text-anchor="middle" fill="#000" xml:space="preserve">MLE  SAR</text>
<text transform="translate(640.1,116.1) rotate(-90)" font-size="11" text-anchor="middle" fill="#000" xml:space="preserve">MLE SAR</text>
<text transform="translate(653.6,114.6) rotate(-90)" font-size="11" text-anchor="middle" fill="#000" xml:space="preserve">No heterogeneity</text>
<text x="475.85" y="229.6" font-size="11" font-weight="400" text-anchor="middle" fill="#000" >Sample size</text>
<text transform="translate(237.7,361.3) rotate(-90)" font-size="11" text-anchor="middle" fill="#000" xml:space="preserve">MLE  p<tspan font-size="6.5" dy="3.8">80</tspan></text>
<text transform="translate(385.2,361.3) rotate(-90)" font-size="11" text-anchor="middle" fill="#000" xml:space="preserve">MLE   s<tspan font-size="6.5" dy="3.8">80</tspan></text>
<text transform="translate(513.2,362.3) rotate(-90)" font-size="11" text-anchor="middle" fill="#000" xml:space="preserve">MLE  SAR</text>
<text transform="translate(640.1,362.3) rotate(-90)" font-size="11" text-anchor="middle" fill="#000" xml:space="preserve">MLE SAR</text>
<text transform="translate(653.6,360.8) rotate(-90)" font-size="11" text-anchor="middle" fill="#000" xml:space="preserve">No heterogeneity</text>
<text x="475.85" y="475.8" font-size="11" font-weight="400" text-anchor="middle" fill="#000" >Sample size</text>
<text transform="translate(238,608) rotate(-90)" font-size="11" text-anchor="middle" fill="#000" xml:space="preserve">MLE  p<tspan font-size="6.5" dy="3.8">80</tspan></text>
<text transform="translate(386.6,608) rotate(-90)" font-size="11" text-anchor="middle" fill="#000" xml:space="preserve">MLE   s<tspan font-size="6.5" dy="3.8">80</tspan></text>
<text transform="translate(513.3,609) rotate(-90)" font-size="11" text-anchor="middle" fill="#000" xml:space="preserve">MLE  SAR</text>
<text transform="translate(640.2,609) rotate(-90)" font-size="11" text-anchor="middle" fill="#000" xml:space="preserve">MLE SAR</text>
<text transform="translate(653.7,607.5) rotate(-90)" font-size="11" text-anchor="middle" fill="#000" xml:space="preserve">No heterogeneity</text>
<text x="477.25" y="722.5" font-size="11" font-weight="400" text-anchor="middle" fill="#000" >Sample size</text>
</svg>
</body></html>
